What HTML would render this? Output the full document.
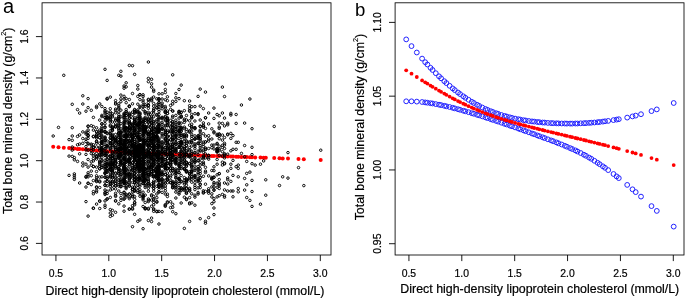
<!DOCTYPE html>
<html><head><meta charset="utf-8"><style>html,body{margin:0;padding:0;background:#fff;width:685px;height:299px;overflow:hidden}</style></head>
<body><svg xmlns="http://www.w3.org/2000/svg" width="685" height="299" viewBox="0 0 685 299" style="font-family:'Liberation Sans',sans-serif;display:block;will-change:transform">
<style>.t{stroke:#000;stroke-width:0.2}</style><g>
<rect width="685" height="299" fill="#fff"/>
<g fill="#f00"><circle cx="53.2" cy="146.7" r="2.0"/><circle cx="58.5" cy="147.2" r="2.0"/><circle cx="63.8" cy="147.7" r="2.0"/><circle cx="69.1" cy="148.1" r="2.0"/><circle cx="72.2" cy="148.4" r="2.0"/><circle cx="74.4" cy="148.6" r="2.0"/><circle cx="77.5" cy="148.9" r="2.0"/><circle cx="79.6" cy="149.1" r="2.0"/><circle cx="82.8" cy="149.3" r="2.0"/><circle cx="86.0" cy="149.6" r="2.0"/><circle cx="88.1" cy="149.8" r="2.0"/><circle cx="91.3" cy="150.0" r="2.0"/><circle cx="93.4" cy="150.2" r="2.0"/><circle cx="96.6" cy="150.4" r="2.0"/><circle cx="99.7" cy="150.7" r="2.0"/><circle cx="101.8" cy="150.8" r="2.0"/><circle cx="105.0" cy="151.0" r="2.0"/><circle cx="107.1" cy="151.2" r="2.0"/><circle cx="110.3" cy="151.4" r="2.0"/><circle cx="112.4" cy="151.6" r="2.0"/><circle cx="115.6" cy="151.8" r="2.0"/><circle cx="118.8" cy="152.0" r="2.0"/><circle cx="120.9" cy="152.1" r="2.0"/><circle cx="124.1" cy="152.3" r="2.0"/><circle cx="126.2" cy="152.4" r="2.0"/><circle cx="129.3" cy="152.6" r="2.0"/><circle cx="132.5" cy="152.8" r="2.0"/><circle cx="134.6" cy="152.9" r="2.0"/><circle cx="137.8" cy="153.0" r="2.0"/><circle cx="139.9" cy="153.1" r="2.0"/><circle cx="143.1" cy="153.3" r="2.0"/><circle cx="145.2" cy="153.4" r="2.0"/><circle cx="148.4" cy="153.5" r="2.0"/><circle cx="151.5" cy="153.7" r="2.0"/><circle cx="153.7" cy="153.8" r="2.0"/><circle cx="156.8" cy="153.9" r="2.0"/><circle cx="159.0" cy="154.0" r="2.0"/><circle cx="162.1" cy="154.1" r="2.0"/><circle cx="165.3" cy="154.2" r="2.0"/><circle cx="167.4" cy="154.3" r="2.0"/><circle cx="170.6" cy="154.4" r="2.0"/><circle cx="172.7" cy="154.5" r="2.0"/><circle cx="175.9" cy="154.6" r="2.0"/><circle cx="179.0" cy="154.7" r="2.0"/><circle cx="181.2" cy="154.8" r="2.0"/><circle cx="184.3" cy="154.9" r="2.0"/><circle cx="186.4" cy="155.0" r="2.0"/><circle cx="189.6" cy="155.1" r="2.0"/><circle cx="191.7" cy="155.2" r="2.0"/><circle cx="194.9" cy="155.3" r="2.0"/><circle cx="198.1" cy="155.4" r="2.0"/><circle cx="200.2" cy="155.5" r="2.0"/><circle cx="203.4" cy="155.6" r="2.0"/><circle cx="205.5" cy="155.6" r="2.0"/><circle cx="208.7" cy="155.8" r="2.0"/><circle cx="211.8" cy="155.9" r="2.0"/><circle cx="213.9" cy="155.9" r="2.0"/><circle cx="217.1" cy="156.0" r="2.0"/><circle cx="219.2" cy="156.1" r="2.0"/><circle cx="222.4" cy="156.2" r="2.0"/><circle cx="224.5" cy="156.3" r="2.0"/><circle cx="227.7" cy="156.4" r="2.0"/><circle cx="230.9" cy="156.5" r="2.0"/><circle cx="233.0" cy="156.6" r="2.0"/><circle cx="236.1" cy="156.7" r="2.0"/><circle cx="238.3" cy="156.8" r="2.0"/><circle cx="241.4" cy="156.9" r="2.0"/><circle cx="244.6" cy="157.0" r="2.0"/><circle cx="246.7" cy="157.1" r="2.0"/><circle cx="249.9" cy="157.2" r="2.0"/><circle cx="252.0" cy="157.2" r="2.0"/><circle cx="255.2" cy="157.4" r="2.0"/><circle cx="260.5" cy="157.5" r="2.0"/><circle cx="263.6" cy="157.7" r="2.0"/><circle cx="265.8" cy="157.7" r="2.0"/><circle cx="274.2" cy="158.1" r="2.0"/><circle cx="279.5" cy="158.3" r="2.0"/><circle cx="282.7" cy="158.4" r="2.0"/><circle cx="288.0" cy="158.6" r="2.0"/><circle cx="298.5" cy="159.0" r="2.0"/><circle cx="303.8" cy="159.3" r="2.0"/><circle cx="320.7" cy="160.0" r="2.0"/></g>
<path transform="scale(1.0,1)" d="M103.77 155.2a1.25 1.25 0 1 0 2.5 0a1.25 1.25 0 1 0 -2.5 0M193.66 152.6a1.25 1.25 0 1 0 2.5 0a1.25 1.25 0 1 0 -2.5 0M117.52 174.0a1.25 1.25 0 1 0 2.5 0a1.25 1.25 0 1 0 -2.5 0M136.55 156.0a1.25 1.25 0 1 0 2.5 0a1.25 1.25 0 1 0 -2.5 0M141.84 176.1a1.25 1.25 0 1 0 2.5 0a1.25 1.25 0 1 0 -2.5 0M122.80 145.1a1.25 1.25 0 1 0 2.5 0a1.25 1.25 0 1 0 -2.5 0M105.88 181.3a1.25 1.25 0 1 0 2.5 0a1.25 1.25 0 1 0 -2.5 0M169.33 148.8a1.25 1.25 0 1 0 2.5 0a1.25 1.25 0 1 0 -2.5 0M157.70 132.6a1.25 1.25 0 1 0 2.5 0a1.25 1.25 0 1 0 -2.5 0M92.14 158.6a1.25 1.25 0 1 0 2.5 0a1.25 1.25 0 1 0 -2.5 0M179.91 147.0a1.25 1.25 0 1 0 2.5 0a1.25 1.25 0 1 0 -2.5 0M122.80 166.5a1.25 1.25 0 1 0 2.5 0a1.25 1.25 0 1 0 -2.5 0M177.79 192.7a1.25 1.25 0 1 0 2.5 0a1.25 1.25 0 1 0 -2.5 0M131.26 123.4a1.25 1.25 0 1 0 2.5 0a1.25 1.25 0 1 0 -2.5 0M141.84 150.5a1.25 1.25 0 1 0 2.5 0a1.25 1.25 0 1 0 -2.5 0M174.62 162.3a1.25 1.25 0 1 0 2.5 0a1.25 1.25 0 1 0 -2.5 0M109.06 117.1a1.25 1.25 0 1 0 2.5 0a1.25 1.25 0 1 0 -2.5 0M166.16 176.1a1.25 1.25 0 1 0 2.5 0a1.25 1.25 0 1 0 -2.5 0M198.94 168.7a1.25 1.25 0 1 0 2.5 0a1.25 1.25 0 1 0 -2.5 0M196.83 174.0a1.25 1.25 0 1 0 2.5 0a1.25 1.25 0 1 0 -2.5 0M133.38 180.2a1.25 1.25 0 1 0 2.5 0a1.25 1.25 0 1 0 -2.5 0M177.79 158.1a1.25 1.25 0 1 0 2.5 0a1.25 1.25 0 1 0 -2.5 0M100.60 167.4a1.25 1.25 0 1 0 2.5 0a1.25 1.25 0 1 0 -2.5 0M138.67 114.8a1.25 1.25 0 1 0 2.5 0a1.25 1.25 0 1 0 -2.5 0M160.87 171.3a1.25 1.25 0 1 0 2.5 0a1.25 1.25 0 1 0 -2.5 0M105.88 117.2a1.25 1.25 0 1 0 2.5 0a1.25 1.25 0 1 0 -2.5 0M141.84 176.9a1.25 1.25 0 1 0 2.5 0a1.25 1.25 0 1 0 -2.5 0M215.86 164.2a1.25 1.25 0 1 0 2.5 0a1.25 1.25 0 1 0 -2.5 0M171.45 152.8a1.25 1.25 0 1 0 2.5 0a1.25 1.25 0 1 0 -2.5 0M174.62 177.6a1.25 1.25 0 1 0 2.5 0a1.25 1.25 0 1 0 -2.5 0M117.52 133.2a1.25 1.25 0 1 0 2.5 0a1.25 1.25 0 1 0 -2.5 0M109.06 166.7a1.25 1.25 0 1 0 2.5 0a1.25 1.25 0 1 0 -2.5 0M103.77 168.2a1.25 1.25 0 1 0 2.5 0a1.25 1.25 0 1 0 -2.5 0M164.05 135.0a1.25 1.25 0 1 0 2.5 0a1.25 1.25 0 1 0 -2.5 0M171.45 173.9a1.25 1.25 0 1 0 2.5 0a1.25 1.25 0 1 0 -2.5 0M124.92 134.9a1.25 1.25 0 1 0 2.5 0a1.25 1.25 0 1 0 -2.5 0M109.06 121.9a1.25 1.25 0 1 0 2.5 0a1.25 1.25 0 1 0 -2.5 0M152.41 131.7a1.25 1.25 0 1 0 2.5 0a1.25 1.25 0 1 0 -2.5 0M155.59 115.2a1.25 1.25 0 1 0 2.5 0a1.25 1.25 0 1 0 -2.5 0M138.67 163.5a1.25 1.25 0 1 0 2.5 0a1.25 1.25 0 1 0 -2.5 0M193.66 121.0a1.25 1.25 0 1 0 2.5 0a1.25 1.25 0 1 0 -2.5 0M141.84 166.8a1.25 1.25 0 1 0 2.5 0a1.25 1.25 0 1 0 -2.5 0M141.84 196.9a1.25 1.25 0 1 0 2.5 0a1.25 1.25 0 1 0 -2.5 0M111.17 155.5a1.25 1.25 0 1 0 2.5 0a1.25 1.25 0 1 0 -2.5 0M150.30 100.6a1.25 1.25 0 1 0 2.5 0a1.25 1.25 0 1 0 -2.5 0M196.83 181.6a1.25 1.25 0 1 0 2.5 0a1.25 1.25 0 1 0 -2.5 0M147.13 105.2a1.25 1.25 0 1 0 2.5 0a1.25 1.25 0 1 0 -2.5 0M147.13 191.2a1.25 1.25 0 1 0 2.5 0a1.25 1.25 0 1 0 -2.5 0M160.87 129.2a1.25 1.25 0 1 0 2.5 0a1.25 1.25 0 1 0 -2.5 0M155.59 140.0a1.25 1.25 0 1 0 2.5 0a1.25 1.25 0 1 0 -2.5 0M164.05 165.7a1.25 1.25 0 1 0 2.5 0a1.25 1.25 0 1 0 -2.5 0M166.16 135.8a1.25 1.25 0 1 0 2.5 0a1.25 1.25 0 1 0 -2.5 0M119.63 134.3a1.25 1.25 0 1 0 2.5 0a1.25 1.25 0 1 0 -2.5 0M155.59 140.1a1.25 1.25 0 1 0 2.5 0a1.25 1.25 0 1 0 -2.5 0M100.60 124.1a1.25 1.25 0 1 0 2.5 0a1.25 1.25 0 1 0 -2.5 0M152.41 175.1a1.25 1.25 0 1 0 2.5 0a1.25 1.25 0 1 0 -2.5 0M109.06 97.1a1.25 1.25 0 1 0 2.5 0a1.25 1.25 0 1 0 -2.5 0M141.84 128.4a1.25 1.25 0 1 0 2.5 0a1.25 1.25 0 1 0 -2.5 0M160.87 174.3a1.25 1.25 0 1 0 2.5 0a1.25 1.25 0 1 0 -2.5 0M131.26 93.5a1.25 1.25 0 1 0 2.5 0a1.25 1.25 0 1 0 -2.5 0M147.13 152.5a1.25 1.25 0 1 0 2.5 0a1.25 1.25 0 1 0 -2.5 0M98.48 137.7a1.25 1.25 0 1 0 2.5 0a1.25 1.25 0 1 0 -2.5 0M119.63 128.8a1.25 1.25 0 1 0 2.5 0a1.25 1.25 0 1 0 -2.5 0M169.33 177.1a1.25 1.25 0 1 0 2.5 0a1.25 1.25 0 1 0 -2.5 0M111.17 175.0a1.25 1.25 0 1 0 2.5 0a1.25 1.25 0 1 0 -2.5 0M169.33 158.2a1.25 1.25 0 1 0 2.5 0a1.25 1.25 0 1 0 -2.5 0M105.88 181.4a1.25 1.25 0 1 0 2.5 0a1.25 1.25 0 1 0 -2.5 0M117.52 156.9a1.25 1.25 0 1 0 2.5 0a1.25 1.25 0 1 0 -2.5 0M111.17 113.8a1.25 1.25 0 1 0 2.5 0a1.25 1.25 0 1 0 -2.5 0M143.95 183.4a1.25 1.25 0 1 0 2.5 0a1.25 1.25 0 1 0 -2.5 0M164.05 151.4a1.25 1.25 0 1 0 2.5 0a1.25 1.25 0 1 0 -2.5 0M111.17 166.3a1.25 1.25 0 1 0 2.5 0a1.25 1.25 0 1 0 -2.5 0M138.67 130.2a1.25 1.25 0 1 0 2.5 0a1.25 1.25 0 1 0 -2.5 0M210.58 186.9a1.25 1.25 0 1 0 2.5 0a1.25 1.25 0 1 0 -2.5 0M133.38 182.4a1.25 1.25 0 1 0 2.5 0a1.25 1.25 0 1 0 -2.5 0M119.63 156.6a1.25 1.25 0 1 0 2.5 0a1.25 1.25 0 1 0 -2.5 0M157.70 99.9a1.25 1.25 0 1 0 2.5 0a1.25 1.25 0 1 0 -2.5 0M136.55 179.0a1.25 1.25 0 1 0 2.5 0a1.25 1.25 0 1 0 -2.5 0M122.80 198.9a1.25 1.25 0 1 0 2.5 0a1.25 1.25 0 1 0 -2.5 0M95.31 177.8a1.25 1.25 0 1 0 2.5 0a1.25 1.25 0 1 0 -2.5 0M174.62 136.4a1.25 1.25 0 1 0 2.5 0a1.25 1.25 0 1 0 -2.5 0M124.92 128.5a1.25 1.25 0 1 0 2.5 0a1.25 1.25 0 1 0 -2.5 0M143.95 155.9a1.25 1.25 0 1 0 2.5 0a1.25 1.25 0 1 0 -2.5 0M111.17 145.7a1.25 1.25 0 1 0 2.5 0a1.25 1.25 0 1 0 -2.5 0M196.83 194.0a1.25 1.25 0 1 0 2.5 0a1.25 1.25 0 1 0 -2.5 0M171.45 145.0a1.25 1.25 0 1 0 2.5 0a1.25 1.25 0 1 0 -2.5 0M179.91 160.3a1.25 1.25 0 1 0 2.5 0a1.25 1.25 0 1 0 -2.5 0M141.84 171.4a1.25 1.25 0 1 0 2.5 0a1.25 1.25 0 1 0 -2.5 0M160.87 128.5a1.25 1.25 0 1 0 2.5 0a1.25 1.25 0 1 0 -2.5 0M177.79 127.7a1.25 1.25 0 1 0 2.5 0a1.25 1.25 0 1 0 -2.5 0M183.08 169.0a1.25 1.25 0 1 0 2.5 0a1.25 1.25 0 1 0 -2.5 0M155.59 149.2a1.25 1.25 0 1 0 2.5 0a1.25 1.25 0 1 0 -2.5 0M141.84 206.5a1.25 1.25 0 1 0 2.5 0a1.25 1.25 0 1 0 -2.5 0M133.38 182.7a1.25 1.25 0 1 0 2.5 0a1.25 1.25 0 1 0 -2.5 0M122.80 118.8a1.25 1.25 0 1 0 2.5 0a1.25 1.25 0 1 0 -2.5 0M114.34 183.7a1.25 1.25 0 1 0 2.5 0a1.25 1.25 0 1 0 -2.5 0M157.70 180.6a1.25 1.25 0 1 0 2.5 0a1.25 1.25 0 1 0 -2.5 0M136.55 124.6a1.25 1.25 0 1 0 2.5 0a1.25 1.25 0 1 0 -2.5 0M138.67 173.5a1.25 1.25 0 1 0 2.5 0a1.25 1.25 0 1 0 -2.5 0M185.20 136.8a1.25 1.25 0 1 0 2.5 0a1.25 1.25 0 1 0 -2.5 0M136.55 167.0a1.25 1.25 0 1 0 2.5 0a1.25 1.25 0 1 0 -2.5 0M95.31 175.8a1.25 1.25 0 1 0 2.5 0a1.25 1.25 0 1 0 -2.5 0M141.84 183.3a1.25 1.25 0 1 0 2.5 0a1.25 1.25 0 1 0 -2.5 0M174.62 150.9a1.25 1.25 0 1 0 2.5 0a1.25 1.25 0 1 0 -2.5 0M152.41 181.1a1.25 1.25 0 1 0 2.5 0a1.25 1.25 0 1 0 -2.5 0M131.26 146.6a1.25 1.25 0 1 0 2.5 0a1.25 1.25 0 1 0 -2.5 0M221.15 162.2a1.25 1.25 0 1 0 2.5 0a1.25 1.25 0 1 0 -2.5 0M223.27 157.9a1.25 1.25 0 1 0 2.5 0a1.25 1.25 0 1 0 -2.5 0M141.84 125.1a1.25 1.25 0 1 0 2.5 0a1.25 1.25 0 1 0 -2.5 0M174.62 169.0a1.25 1.25 0 1 0 2.5 0a1.25 1.25 0 1 0 -2.5 0M157.70 181.1a1.25 1.25 0 1 0 2.5 0a1.25 1.25 0 1 0 -2.5 0M171.45 156.2a1.25 1.25 0 1 0 2.5 0a1.25 1.25 0 1 0 -2.5 0M202.12 150.0a1.25 1.25 0 1 0 2.5 0a1.25 1.25 0 1 0 -2.5 0M174.62 161.0a1.25 1.25 0 1 0 2.5 0a1.25 1.25 0 1 0 -2.5 0M147.13 200.5a1.25 1.25 0 1 0 2.5 0a1.25 1.25 0 1 0 -2.5 0M124.92 135.8a1.25 1.25 0 1 0 2.5 0a1.25 1.25 0 1 0 -2.5 0M119.63 200.4a1.25 1.25 0 1 0 2.5 0a1.25 1.25 0 1 0 -2.5 0M143.95 208.0a1.25 1.25 0 1 0 2.5 0a1.25 1.25 0 1 0 -2.5 0M188.37 131.1a1.25 1.25 0 1 0 2.5 0a1.25 1.25 0 1 0 -2.5 0M155.59 114.6a1.25 1.25 0 1 0 2.5 0a1.25 1.25 0 1 0 -2.5 0M147.13 162.3a1.25 1.25 0 1 0 2.5 0a1.25 1.25 0 1 0 -2.5 0M152.41 177.1a1.25 1.25 0 1 0 2.5 0a1.25 1.25 0 1 0 -2.5 0M143.95 117.3a1.25 1.25 0 1 0 2.5 0a1.25 1.25 0 1 0 -2.5 0M164.05 190.8a1.25 1.25 0 1 0 2.5 0a1.25 1.25 0 1 0 -2.5 0M111.17 153.2a1.25 1.25 0 1 0 2.5 0a1.25 1.25 0 1 0 -2.5 0M92.14 166.5a1.25 1.25 0 1 0 2.5 0a1.25 1.25 0 1 0 -2.5 0M131.26 137.5a1.25 1.25 0 1 0 2.5 0a1.25 1.25 0 1 0 -2.5 0M111.17 144.0a1.25 1.25 0 1 0 2.5 0a1.25 1.25 0 1 0 -2.5 0M210.58 177.4a1.25 1.25 0 1 0 2.5 0a1.25 1.25 0 1 0 -2.5 0M138.67 124.0a1.25 1.25 0 1 0 2.5 0a1.25 1.25 0 1 0 -2.5 0M136.55 133.7a1.25 1.25 0 1 0 2.5 0a1.25 1.25 0 1 0 -2.5 0M100.60 151.1a1.25 1.25 0 1 0 2.5 0a1.25 1.25 0 1 0 -2.5 0M155.59 162.2a1.25 1.25 0 1 0 2.5 0a1.25 1.25 0 1 0 -2.5 0M124.92 154.7a1.25 1.25 0 1 0 2.5 0a1.25 1.25 0 1 0 -2.5 0M188.37 189.2a1.25 1.25 0 1 0 2.5 0a1.25 1.25 0 1 0 -2.5 0M174.62 161.2a1.25 1.25 0 1 0 2.5 0a1.25 1.25 0 1 0 -2.5 0M119.63 159.1a1.25 1.25 0 1 0 2.5 0a1.25 1.25 0 1 0 -2.5 0M157.70 139.4a1.25 1.25 0 1 0 2.5 0a1.25 1.25 0 1 0 -2.5 0M122.80 163.5a1.25 1.25 0 1 0 2.5 0a1.25 1.25 0 1 0 -2.5 0M193.66 148.7a1.25 1.25 0 1 0 2.5 0a1.25 1.25 0 1 0 -2.5 0M174.62 128.9a1.25 1.25 0 1 0 2.5 0a1.25 1.25 0 1 0 -2.5 0M150.30 138.5a1.25 1.25 0 1 0 2.5 0a1.25 1.25 0 1 0 -2.5 0M143.95 156.8a1.25 1.25 0 1 0 2.5 0a1.25 1.25 0 1 0 -2.5 0M103.77 162.8a1.25 1.25 0 1 0 2.5 0a1.25 1.25 0 1 0 -2.5 0M105.88 114.7a1.25 1.25 0 1 0 2.5 0a1.25 1.25 0 1 0 -2.5 0M152.41 153.4a1.25 1.25 0 1 0 2.5 0a1.25 1.25 0 1 0 -2.5 0M217.98 188.5a1.25 1.25 0 1 0 2.5 0a1.25 1.25 0 1 0 -2.5 0M86.85 144.0a1.25 1.25 0 1 0 2.5 0a1.25 1.25 0 1 0 -2.5 0M166.16 201.8a1.25 1.25 0 1 0 2.5 0a1.25 1.25 0 1 0 -2.5 0M166.16 168.4a1.25 1.25 0 1 0 2.5 0a1.25 1.25 0 1 0 -2.5 0M179.91 137.4a1.25 1.25 0 1 0 2.5 0a1.25 1.25 0 1 0 -2.5 0M117.52 156.3a1.25 1.25 0 1 0 2.5 0a1.25 1.25 0 1 0 -2.5 0M128.09 161.3a1.25 1.25 0 1 0 2.5 0a1.25 1.25 0 1 0 -2.5 0M147.13 133.7a1.25 1.25 0 1 0 2.5 0a1.25 1.25 0 1 0 -2.5 0M114.34 120.3a1.25 1.25 0 1 0 2.5 0a1.25 1.25 0 1 0 -2.5 0M109.06 177.1a1.25 1.25 0 1 0 2.5 0a1.25 1.25 0 1 0 -2.5 0M117.52 182.3a1.25 1.25 0 1 0 2.5 0a1.25 1.25 0 1 0 -2.5 0M141.84 172.2a1.25 1.25 0 1 0 2.5 0a1.25 1.25 0 1 0 -2.5 0M157.70 184.3a1.25 1.25 0 1 0 2.5 0a1.25 1.25 0 1 0 -2.5 0M143.95 140.6a1.25 1.25 0 1 0 2.5 0a1.25 1.25 0 1 0 -2.5 0M147.13 133.8a1.25 1.25 0 1 0 2.5 0a1.25 1.25 0 1 0 -2.5 0M122.80 155.0a1.25 1.25 0 1 0 2.5 0a1.25 1.25 0 1 0 -2.5 0M122.80 180.7a1.25 1.25 0 1 0 2.5 0a1.25 1.25 0 1 0 -2.5 0M188.37 197.6a1.25 1.25 0 1 0 2.5 0a1.25 1.25 0 1 0 -2.5 0M141.84 157.8a1.25 1.25 0 1 0 2.5 0a1.25 1.25 0 1 0 -2.5 0M141.84 174.6a1.25 1.25 0 1 0 2.5 0a1.25 1.25 0 1 0 -2.5 0M179.91 143.1a1.25 1.25 0 1 0 2.5 0a1.25 1.25 0 1 0 -2.5 0M193.66 189.6a1.25 1.25 0 1 0 2.5 0a1.25 1.25 0 1 0 -2.5 0M193.66 170.5a1.25 1.25 0 1 0 2.5 0a1.25 1.25 0 1 0 -2.5 0M157.70 165.0a1.25 1.25 0 1 0 2.5 0a1.25 1.25 0 1 0 -2.5 0M141.84 126.2a1.25 1.25 0 1 0 2.5 0a1.25 1.25 0 1 0 -2.5 0M155.59 133.3a1.25 1.25 0 1 0 2.5 0a1.25 1.25 0 1 0 -2.5 0M150.30 141.1a1.25 1.25 0 1 0 2.5 0a1.25 1.25 0 1 0 -2.5 0M198.94 150.2a1.25 1.25 0 1 0 2.5 0a1.25 1.25 0 1 0 -2.5 0M155.59 135.9a1.25 1.25 0 1 0 2.5 0a1.25 1.25 0 1 0 -2.5 0M166.16 202.7a1.25 1.25 0 1 0 2.5 0a1.25 1.25 0 1 0 -2.5 0M143.95 129.5a1.25 1.25 0 1 0 2.5 0a1.25 1.25 0 1 0 -2.5 0M198.94 162.3a1.25 1.25 0 1 0 2.5 0a1.25 1.25 0 1 0 -2.5 0M90.02 110.3a1.25 1.25 0 1 0 2.5 0a1.25 1.25 0 1 0 -2.5 0M157.70 129.7a1.25 1.25 0 1 0 2.5 0a1.25 1.25 0 1 0 -2.5 0M171.45 122.1a1.25 1.25 0 1 0 2.5 0a1.25 1.25 0 1 0 -2.5 0M111.17 169.5a1.25 1.25 0 1 0 2.5 0a1.25 1.25 0 1 0 -2.5 0M138.67 137.0a1.25 1.25 0 1 0 2.5 0a1.25 1.25 0 1 0 -2.5 0M138.67 144.6a1.25 1.25 0 1 0 2.5 0a1.25 1.25 0 1 0 -2.5 0M111.17 166.1a1.25 1.25 0 1 0 2.5 0a1.25 1.25 0 1 0 -2.5 0M177.79 144.3a1.25 1.25 0 1 0 2.5 0a1.25 1.25 0 1 0 -2.5 0M152.41 209.3a1.25 1.25 0 1 0 2.5 0a1.25 1.25 0 1 0 -2.5 0M124.92 115.5a1.25 1.25 0 1 0 2.5 0a1.25 1.25 0 1 0 -2.5 0M152.41 139.5a1.25 1.25 0 1 0 2.5 0a1.25 1.25 0 1 0 -2.5 0M169.33 154.7a1.25 1.25 0 1 0 2.5 0a1.25 1.25 0 1 0 -2.5 0M190.48 117.4a1.25 1.25 0 1 0 2.5 0a1.25 1.25 0 1 0 -2.5 0M152.41 138.2a1.25 1.25 0 1 0 2.5 0a1.25 1.25 0 1 0 -2.5 0M114.34 138.1a1.25 1.25 0 1 0 2.5 0a1.25 1.25 0 1 0 -2.5 0M128.09 164.8a1.25 1.25 0 1 0 2.5 0a1.25 1.25 0 1 0 -2.5 0M84.73 139.1a1.25 1.25 0 1 0 2.5 0a1.25 1.25 0 1 0 -2.5 0M122.80 182.0a1.25 1.25 0 1 0 2.5 0a1.25 1.25 0 1 0 -2.5 0M171.45 183.0a1.25 1.25 0 1 0 2.5 0a1.25 1.25 0 1 0 -2.5 0M160.87 148.5a1.25 1.25 0 1 0 2.5 0a1.25 1.25 0 1 0 -2.5 0M141.84 168.1a1.25 1.25 0 1 0 2.5 0a1.25 1.25 0 1 0 -2.5 0M133.38 187.3a1.25 1.25 0 1 0 2.5 0a1.25 1.25 0 1 0 -2.5 0M207.40 159.2a1.25 1.25 0 1 0 2.5 0a1.25 1.25 0 1 0 -2.5 0M155.59 201.5a1.25 1.25 0 1 0 2.5 0a1.25 1.25 0 1 0 -2.5 0M177.79 111.4a1.25 1.25 0 1 0 2.5 0a1.25 1.25 0 1 0 -2.5 0M157.70 176.7a1.25 1.25 0 1 0 2.5 0a1.25 1.25 0 1 0 -2.5 0M122.80 174.7a1.25 1.25 0 1 0 2.5 0a1.25 1.25 0 1 0 -2.5 0M207.40 113.0a1.25 1.25 0 1 0 2.5 0a1.25 1.25 0 1 0 -2.5 0M109.06 190.0a1.25 1.25 0 1 0 2.5 0a1.25 1.25 0 1 0 -2.5 0M109.06 209.6a1.25 1.25 0 1 0 2.5 0a1.25 1.25 0 1 0 -2.5 0M131.26 151.8a1.25 1.25 0 1 0 2.5 0a1.25 1.25 0 1 0 -2.5 0M122.80 158.5a1.25 1.25 0 1 0 2.5 0a1.25 1.25 0 1 0 -2.5 0M128.09 124.3a1.25 1.25 0 1 0 2.5 0a1.25 1.25 0 1 0 -2.5 0M124.92 153.1a1.25 1.25 0 1 0 2.5 0a1.25 1.25 0 1 0 -2.5 0M183.08 197.2a1.25 1.25 0 1 0 2.5 0a1.25 1.25 0 1 0 -2.5 0M147.13 149.7a1.25 1.25 0 1 0 2.5 0a1.25 1.25 0 1 0 -2.5 0M155.59 159.9a1.25 1.25 0 1 0 2.5 0a1.25 1.25 0 1 0 -2.5 0M100.60 116.6a1.25 1.25 0 1 0 2.5 0a1.25 1.25 0 1 0 -2.5 0M119.63 143.1a1.25 1.25 0 1 0 2.5 0a1.25 1.25 0 1 0 -2.5 0M185.20 178.9a1.25 1.25 0 1 0 2.5 0a1.25 1.25 0 1 0 -2.5 0M109.06 168.8a1.25 1.25 0 1 0 2.5 0a1.25 1.25 0 1 0 -2.5 0M190.48 153.9a1.25 1.25 0 1 0 2.5 0a1.25 1.25 0 1 0 -2.5 0M114.34 162.0a1.25 1.25 0 1 0 2.5 0a1.25 1.25 0 1 0 -2.5 0M155.59 147.3a1.25 1.25 0 1 0 2.5 0a1.25 1.25 0 1 0 -2.5 0M119.63 144.0a1.25 1.25 0 1 0 2.5 0a1.25 1.25 0 1 0 -2.5 0M150.30 183.9a1.25 1.25 0 1 0 2.5 0a1.25 1.25 0 1 0 -2.5 0M117.52 144.8a1.25 1.25 0 1 0 2.5 0a1.25 1.25 0 1 0 -2.5 0M136.55 130.0a1.25 1.25 0 1 0 2.5 0a1.25 1.25 0 1 0 -2.5 0M212.69 186.9a1.25 1.25 0 1 0 2.5 0a1.25 1.25 0 1 0 -2.5 0M133.38 190.4a1.25 1.25 0 1 0 2.5 0a1.25 1.25 0 1 0 -2.5 0M131.26 136.8a1.25 1.25 0 1 0 2.5 0a1.25 1.25 0 1 0 -2.5 0M109.06 125.2a1.25 1.25 0 1 0 2.5 0a1.25 1.25 0 1 0 -2.5 0M147.13 105.1a1.25 1.25 0 1 0 2.5 0a1.25 1.25 0 1 0 -2.5 0M131.26 154.6a1.25 1.25 0 1 0 2.5 0a1.25 1.25 0 1 0 -2.5 0M217.98 182.8a1.25 1.25 0 1 0 2.5 0a1.25 1.25 0 1 0 -2.5 0M177.79 147.4a1.25 1.25 0 1 0 2.5 0a1.25 1.25 0 1 0 -2.5 0M190.48 171.6a1.25 1.25 0 1 0 2.5 0a1.25 1.25 0 1 0 -2.5 0M166.16 142.7a1.25 1.25 0 1 0 2.5 0a1.25 1.25 0 1 0 -2.5 0M174.62 133.4a1.25 1.25 0 1 0 2.5 0a1.25 1.25 0 1 0 -2.5 0M164.05 150.0a1.25 1.25 0 1 0 2.5 0a1.25 1.25 0 1 0 -2.5 0M119.63 135.3a1.25 1.25 0 1 0 2.5 0a1.25 1.25 0 1 0 -2.5 0M117.52 150.1a1.25 1.25 0 1 0 2.5 0a1.25 1.25 0 1 0 -2.5 0M150.30 144.9a1.25 1.25 0 1 0 2.5 0a1.25 1.25 0 1 0 -2.5 0M183.08 184.1a1.25 1.25 0 1 0 2.5 0a1.25 1.25 0 1 0 -2.5 0M188.37 108.3a1.25 1.25 0 1 0 2.5 0a1.25 1.25 0 1 0 -2.5 0M117.52 168.5a1.25 1.25 0 1 0 2.5 0a1.25 1.25 0 1 0 -2.5 0M164.05 163.8a1.25 1.25 0 1 0 2.5 0a1.25 1.25 0 1 0 -2.5 0M150.30 171.3a1.25 1.25 0 1 0 2.5 0a1.25 1.25 0 1 0 -2.5 0M111.17 156.9a1.25 1.25 0 1 0 2.5 0a1.25 1.25 0 1 0 -2.5 0M164.05 164.5a1.25 1.25 0 1 0 2.5 0a1.25 1.25 0 1 0 -2.5 0M84.73 201.6a1.25 1.25 0 1 0 2.5 0a1.25 1.25 0 1 0 -2.5 0M152.41 110.7a1.25 1.25 0 1 0 2.5 0a1.25 1.25 0 1 0 -2.5 0M114.34 140.4a1.25 1.25 0 1 0 2.5 0a1.25 1.25 0 1 0 -2.5 0M143.95 159.7a1.25 1.25 0 1 0 2.5 0a1.25 1.25 0 1 0 -2.5 0M92.14 149.6a1.25 1.25 0 1 0 2.5 0a1.25 1.25 0 1 0 -2.5 0M122.80 123.5a1.25 1.25 0 1 0 2.5 0a1.25 1.25 0 1 0 -2.5 0M171.45 130.8a1.25 1.25 0 1 0 2.5 0a1.25 1.25 0 1 0 -2.5 0M114.34 142.6a1.25 1.25 0 1 0 2.5 0a1.25 1.25 0 1 0 -2.5 0M143.95 128.1a1.25 1.25 0 1 0 2.5 0a1.25 1.25 0 1 0 -2.5 0M133.38 128.9a1.25 1.25 0 1 0 2.5 0a1.25 1.25 0 1 0 -2.5 0M150.30 158.9a1.25 1.25 0 1 0 2.5 0a1.25 1.25 0 1 0 -2.5 0M160.87 173.9a1.25 1.25 0 1 0 2.5 0a1.25 1.25 0 1 0 -2.5 0M190.48 182.2a1.25 1.25 0 1 0 2.5 0a1.25 1.25 0 1 0 -2.5 0M174.62 152.0a1.25 1.25 0 1 0 2.5 0a1.25 1.25 0 1 0 -2.5 0M128.09 198.7a1.25 1.25 0 1 0 2.5 0a1.25 1.25 0 1 0 -2.5 0M202.12 146.5a1.25 1.25 0 1 0 2.5 0a1.25 1.25 0 1 0 -2.5 0M193.66 175.9a1.25 1.25 0 1 0 2.5 0a1.25 1.25 0 1 0 -2.5 0M100.60 131.2a1.25 1.25 0 1 0 2.5 0a1.25 1.25 0 1 0 -2.5 0M169.33 201.8a1.25 1.25 0 1 0 2.5 0a1.25 1.25 0 1 0 -2.5 0M174.62 144.2a1.25 1.25 0 1 0 2.5 0a1.25 1.25 0 1 0 -2.5 0M179.91 166.9a1.25 1.25 0 1 0 2.5 0a1.25 1.25 0 1 0 -2.5 0M164.05 186.0a1.25 1.25 0 1 0 2.5 0a1.25 1.25 0 1 0 -2.5 0M105.88 118.3a1.25 1.25 0 1 0 2.5 0a1.25 1.25 0 1 0 -2.5 0M136.55 123.9a1.25 1.25 0 1 0 2.5 0a1.25 1.25 0 1 0 -2.5 0M90.02 175.7a1.25 1.25 0 1 0 2.5 0a1.25 1.25 0 1 0 -2.5 0M138.67 161.7a1.25 1.25 0 1 0 2.5 0a1.25 1.25 0 1 0 -2.5 0M169.33 152.5a1.25 1.25 0 1 0 2.5 0a1.25 1.25 0 1 0 -2.5 0M174.62 172.3a1.25 1.25 0 1 0 2.5 0a1.25 1.25 0 1 0 -2.5 0M128.09 179.0a1.25 1.25 0 1 0 2.5 0a1.25 1.25 0 1 0 -2.5 0M114.34 173.6a1.25 1.25 0 1 0 2.5 0a1.25 1.25 0 1 0 -2.5 0M111.17 137.2a1.25 1.25 0 1 0 2.5 0a1.25 1.25 0 1 0 -2.5 0M150.30 130.1a1.25 1.25 0 1 0 2.5 0a1.25 1.25 0 1 0 -2.5 0M119.63 163.5a1.25 1.25 0 1 0 2.5 0a1.25 1.25 0 1 0 -2.5 0M124.92 181.8a1.25 1.25 0 1 0 2.5 0a1.25 1.25 0 1 0 -2.5 0M188.37 178.3a1.25 1.25 0 1 0 2.5 0a1.25 1.25 0 1 0 -2.5 0M98.48 200.9a1.25 1.25 0 1 0 2.5 0a1.25 1.25 0 1 0 -2.5 0M105.88 141.0a1.25 1.25 0 1 0 2.5 0a1.25 1.25 0 1 0 -2.5 0M128.09 155.1a1.25 1.25 0 1 0 2.5 0a1.25 1.25 0 1 0 -2.5 0M141.84 126.5a1.25 1.25 0 1 0 2.5 0a1.25 1.25 0 1 0 -2.5 0M138.67 94.8a1.25 1.25 0 1 0 2.5 0a1.25 1.25 0 1 0 -2.5 0M103.77 117.3a1.25 1.25 0 1 0 2.5 0a1.25 1.25 0 1 0 -2.5 0M150.30 167.1a1.25 1.25 0 1 0 2.5 0a1.25 1.25 0 1 0 -2.5 0M138.67 164.7a1.25 1.25 0 1 0 2.5 0a1.25 1.25 0 1 0 -2.5 0M157.70 191.9a1.25 1.25 0 1 0 2.5 0a1.25 1.25 0 1 0 -2.5 0M111.17 210.4a1.25 1.25 0 1 0 2.5 0a1.25 1.25 0 1 0 -2.5 0M152.41 106.1a1.25 1.25 0 1 0 2.5 0a1.25 1.25 0 1 0 -2.5 0M152.41 149.8a1.25 1.25 0 1 0 2.5 0a1.25 1.25 0 1 0 -2.5 0M124.92 196.9a1.25 1.25 0 1 0 2.5 0a1.25 1.25 0 1 0 -2.5 0M136.55 137.7a1.25 1.25 0 1 0 2.5 0a1.25 1.25 0 1 0 -2.5 0M198.94 165.1a1.25 1.25 0 1 0 2.5 0a1.25 1.25 0 1 0 -2.5 0M103.77 172.5a1.25 1.25 0 1 0 2.5 0a1.25 1.25 0 1 0 -2.5 0M98.48 168.9a1.25 1.25 0 1 0 2.5 0a1.25 1.25 0 1 0 -2.5 0M133.38 135.8a1.25 1.25 0 1 0 2.5 0a1.25 1.25 0 1 0 -2.5 0M122.80 170.7a1.25 1.25 0 1 0 2.5 0a1.25 1.25 0 1 0 -2.5 0M131.26 126.1a1.25 1.25 0 1 0 2.5 0a1.25 1.25 0 1 0 -2.5 0M171.45 207.3a1.25 1.25 0 1 0 2.5 0a1.25 1.25 0 1 0 -2.5 0M98.48 166.1a1.25 1.25 0 1 0 2.5 0a1.25 1.25 0 1 0 -2.5 0M119.63 110.1a1.25 1.25 0 1 0 2.5 0a1.25 1.25 0 1 0 -2.5 0M136.55 185.0a1.25 1.25 0 1 0 2.5 0a1.25 1.25 0 1 0 -2.5 0M109.06 183.0a1.25 1.25 0 1 0 2.5 0a1.25 1.25 0 1 0 -2.5 0M157.70 157.8a1.25 1.25 0 1 0 2.5 0a1.25 1.25 0 1 0 -2.5 0M155.59 170.7a1.25 1.25 0 1 0 2.5 0a1.25 1.25 0 1 0 -2.5 0M122.80 150.2a1.25 1.25 0 1 0 2.5 0a1.25 1.25 0 1 0 -2.5 0M95.31 127.8a1.25 1.25 0 1 0 2.5 0a1.25 1.25 0 1 0 -2.5 0M210.58 145.1a1.25 1.25 0 1 0 2.5 0a1.25 1.25 0 1 0 -2.5 0M160.87 153.0a1.25 1.25 0 1 0 2.5 0a1.25 1.25 0 1 0 -2.5 0M157.70 169.2a1.25 1.25 0 1 0 2.5 0a1.25 1.25 0 1 0 -2.5 0M147.13 152.3a1.25 1.25 0 1 0 2.5 0a1.25 1.25 0 1 0 -2.5 0M143.95 132.9a1.25 1.25 0 1 0 2.5 0a1.25 1.25 0 1 0 -2.5 0M174.62 183.0a1.25 1.25 0 1 0 2.5 0a1.25 1.25 0 1 0 -2.5 0M143.95 169.4a1.25 1.25 0 1 0 2.5 0a1.25 1.25 0 1 0 -2.5 0M124.92 187.4a1.25 1.25 0 1 0 2.5 0a1.25 1.25 0 1 0 -2.5 0M169.33 159.0a1.25 1.25 0 1 0 2.5 0a1.25 1.25 0 1 0 -2.5 0M147.13 153.5a1.25 1.25 0 1 0 2.5 0a1.25 1.25 0 1 0 -2.5 0M119.63 171.2a1.25 1.25 0 1 0 2.5 0a1.25 1.25 0 1 0 -2.5 0M117.52 186.1a1.25 1.25 0 1 0 2.5 0a1.25 1.25 0 1 0 -2.5 0M188.37 179.9a1.25 1.25 0 1 0 2.5 0a1.25 1.25 0 1 0 -2.5 0M166.16 140.6a1.25 1.25 0 1 0 2.5 0a1.25 1.25 0 1 0 -2.5 0M128.09 133.9a1.25 1.25 0 1 0 2.5 0a1.25 1.25 0 1 0 -2.5 0M122.80 172.7a1.25 1.25 0 1 0 2.5 0a1.25 1.25 0 1 0 -2.5 0M157.70 178.4a1.25 1.25 0 1 0 2.5 0a1.25 1.25 0 1 0 -2.5 0M198.94 138.1a1.25 1.25 0 1 0 2.5 0a1.25 1.25 0 1 0 -2.5 0M166.16 179.6a1.25 1.25 0 1 0 2.5 0a1.25 1.25 0 1 0 -2.5 0M160.87 127.0a1.25 1.25 0 1 0 2.5 0a1.25 1.25 0 1 0 -2.5 0M122.80 155.7a1.25 1.25 0 1 0 2.5 0a1.25 1.25 0 1 0 -2.5 0M109.06 169.5a1.25 1.25 0 1 0 2.5 0a1.25 1.25 0 1 0 -2.5 0M122.80 166.6a1.25 1.25 0 1 0 2.5 0a1.25 1.25 0 1 0 -2.5 0M133.38 149.3a1.25 1.25 0 1 0 2.5 0a1.25 1.25 0 1 0 -2.5 0M157.70 211.4a1.25 1.25 0 1 0 2.5 0a1.25 1.25 0 1 0 -2.5 0M183.08 100.7a1.25 1.25 0 1 0 2.5 0a1.25 1.25 0 1 0 -2.5 0M157.70 169.4a1.25 1.25 0 1 0 2.5 0a1.25 1.25 0 1 0 -2.5 0M204.23 92.1a1.25 1.25 0 1 0 2.5 0a1.25 1.25 0 1 0 -2.5 0M119.63 132.8a1.25 1.25 0 1 0 2.5 0a1.25 1.25 0 1 0 -2.5 0M223.27 153.7a1.25 1.25 0 1 0 2.5 0a1.25 1.25 0 1 0 -2.5 0M119.63 197.6a1.25 1.25 0 1 0 2.5 0a1.25 1.25 0 1 0 -2.5 0M188.37 111.3a1.25 1.25 0 1 0 2.5 0a1.25 1.25 0 1 0 -2.5 0M117.52 137.1a1.25 1.25 0 1 0 2.5 0a1.25 1.25 0 1 0 -2.5 0M155.59 124.3a1.25 1.25 0 1 0 2.5 0a1.25 1.25 0 1 0 -2.5 0M147.13 199.0a1.25 1.25 0 1 0 2.5 0a1.25 1.25 0 1 0 -2.5 0M164.05 205.5a1.25 1.25 0 1 0 2.5 0a1.25 1.25 0 1 0 -2.5 0M171.45 168.3a1.25 1.25 0 1 0 2.5 0a1.25 1.25 0 1 0 -2.5 0M136.55 141.6a1.25 1.25 0 1 0 2.5 0a1.25 1.25 0 1 0 -2.5 0M141.84 134.6a1.25 1.25 0 1 0 2.5 0a1.25 1.25 0 1 0 -2.5 0M152.41 123.4a1.25 1.25 0 1 0 2.5 0a1.25 1.25 0 1 0 -2.5 0M105.88 178.3a1.25 1.25 0 1 0 2.5 0a1.25 1.25 0 1 0 -2.5 0M122.80 192.2a1.25 1.25 0 1 0 2.5 0a1.25 1.25 0 1 0 -2.5 0M98.48 133.4a1.25 1.25 0 1 0 2.5 0a1.25 1.25 0 1 0 -2.5 0M143.95 184.0a1.25 1.25 0 1 0 2.5 0a1.25 1.25 0 1 0 -2.5 0M171.45 101.3a1.25 1.25 0 1 0 2.5 0a1.25 1.25 0 1 0 -2.5 0M117.52 166.6a1.25 1.25 0 1 0 2.5 0a1.25 1.25 0 1 0 -2.5 0M122.80 144.9a1.25 1.25 0 1 0 2.5 0a1.25 1.25 0 1 0 -2.5 0M179.91 150.5a1.25 1.25 0 1 0 2.5 0a1.25 1.25 0 1 0 -2.5 0M131.26 155.4a1.25 1.25 0 1 0 2.5 0a1.25 1.25 0 1 0 -2.5 0M100.60 143.1a1.25 1.25 0 1 0 2.5 0a1.25 1.25 0 1 0 -2.5 0M114.34 140.7a1.25 1.25 0 1 0 2.5 0a1.25 1.25 0 1 0 -2.5 0M114.34 152.8a1.25 1.25 0 1 0 2.5 0a1.25 1.25 0 1 0 -2.5 0M114.34 112.8a1.25 1.25 0 1 0 2.5 0a1.25 1.25 0 1 0 -2.5 0M169.33 131.2a1.25 1.25 0 1 0 2.5 0a1.25 1.25 0 1 0 -2.5 0M147.13 183.6a1.25 1.25 0 1 0 2.5 0a1.25 1.25 0 1 0 -2.5 0M103.77 113.9a1.25 1.25 0 1 0 2.5 0a1.25 1.25 0 1 0 -2.5 0M128.09 151.2a1.25 1.25 0 1 0 2.5 0a1.25 1.25 0 1 0 -2.5 0M111.17 158.4a1.25 1.25 0 1 0 2.5 0a1.25 1.25 0 1 0 -2.5 0M109.06 175.1a1.25 1.25 0 1 0 2.5 0a1.25 1.25 0 1 0 -2.5 0M100.60 132.0a1.25 1.25 0 1 0 2.5 0a1.25 1.25 0 1 0 -2.5 0M215.86 159.5a1.25 1.25 0 1 0 2.5 0a1.25 1.25 0 1 0 -2.5 0M133.38 176.8a1.25 1.25 0 1 0 2.5 0a1.25 1.25 0 1 0 -2.5 0M166.16 179.6a1.25 1.25 0 1 0 2.5 0a1.25 1.25 0 1 0 -2.5 0M177.79 125.9a1.25 1.25 0 1 0 2.5 0a1.25 1.25 0 1 0 -2.5 0M133.38 164.1a1.25 1.25 0 1 0 2.5 0a1.25 1.25 0 1 0 -2.5 0M164.05 167.4a1.25 1.25 0 1 0 2.5 0a1.25 1.25 0 1 0 -2.5 0M152.41 146.6a1.25 1.25 0 1 0 2.5 0a1.25 1.25 0 1 0 -2.5 0M155.59 152.3a1.25 1.25 0 1 0 2.5 0a1.25 1.25 0 1 0 -2.5 0M136.55 155.7a1.25 1.25 0 1 0 2.5 0a1.25 1.25 0 1 0 -2.5 0M169.33 182.8a1.25 1.25 0 1 0 2.5 0a1.25 1.25 0 1 0 -2.5 0M217.98 138.7a1.25 1.25 0 1 0 2.5 0a1.25 1.25 0 1 0 -2.5 0M183.08 149.1a1.25 1.25 0 1 0 2.5 0a1.25 1.25 0 1 0 -2.5 0M128.09 176.8a1.25 1.25 0 1 0 2.5 0a1.25 1.25 0 1 0 -2.5 0M117.52 156.4a1.25 1.25 0 1 0 2.5 0a1.25 1.25 0 1 0 -2.5 0M117.52 105.9a1.25 1.25 0 1 0 2.5 0a1.25 1.25 0 1 0 -2.5 0M124.92 146.4a1.25 1.25 0 1 0 2.5 0a1.25 1.25 0 1 0 -2.5 0M157.70 154.2a1.25 1.25 0 1 0 2.5 0a1.25 1.25 0 1 0 -2.5 0M174.62 173.6a1.25 1.25 0 1 0 2.5 0a1.25 1.25 0 1 0 -2.5 0M86.85 167.1a1.25 1.25 0 1 0 2.5 0a1.25 1.25 0 1 0 -2.5 0M143.95 140.4a1.25 1.25 0 1 0 2.5 0a1.25 1.25 0 1 0 -2.5 0M111.17 129.9a1.25 1.25 0 1 0 2.5 0a1.25 1.25 0 1 0 -2.5 0M169.33 150.6a1.25 1.25 0 1 0 2.5 0a1.25 1.25 0 1 0 -2.5 0M177.79 131.6a1.25 1.25 0 1 0 2.5 0a1.25 1.25 0 1 0 -2.5 0M119.63 176.1a1.25 1.25 0 1 0 2.5 0a1.25 1.25 0 1 0 -2.5 0M131.26 165.4a1.25 1.25 0 1 0 2.5 0a1.25 1.25 0 1 0 -2.5 0M117.52 144.2a1.25 1.25 0 1 0 2.5 0a1.25 1.25 0 1 0 -2.5 0M157.70 124.3a1.25 1.25 0 1 0 2.5 0a1.25 1.25 0 1 0 -2.5 0M100.60 165.2a1.25 1.25 0 1 0 2.5 0a1.25 1.25 0 1 0 -2.5 0M111.17 127.5a1.25 1.25 0 1 0 2.5 0a1.25 1.25 0 1 0 -2.5 0M122.80 183.1a1.25 1.25 0 1 0 2.5 0a1.25 1.25 0 1 0 -2.5 0M190.48 126.9a1.25 1.25 0 1 0 2.5 0a1.25 1.25 0 1 0 -2.5 0M143.95 163.6a1.25 1.25 0 1 0 2.5 0a1.25 1.25 0 1 0 -2.5 0M109.06 143.5a1.25 1.25 0 1 0 2.5 0a1.25 1.25 0 1 0 -2.5 0M147.13 134.9a1.25 1.25 0 1 0 2.5 0a1.25 1.25 0 1 0 -2.5 0M117.52 171.6a1.25 1.25 0 1 0 2.5 0a1.25 1.25 0 1 0 -2.5 0M160.87 166.3a1.25 1.25 0 1 0 2.5 0a1.25 1.25 0 1 0 -2.5 0M111.17 164.7a1.25 1.25 0 1 0 2.5 0a1.25 1.25 0 1 0 -2.5 0M133.38 139.4a1.25 1.25 0 1 0 2.5 0a1.25 1.25 0 1 0 -2.5 0M143.95 129.9a1.25 1.25 0 1 0 2.5 0a1.25 1.25 0 1 0 -2.5 0M164.05 180.1a1.25 1.25 0 1 0 2.5 0a1.25 1.25 0 1 0 -2.5 0M141.84 174.2a1.25 1.25 0 1 0 2.5 0a1.25 1.25 0 1 0 -2.5 0M193.66 139.1a1.25 1.25 0 1 0 2.5 0a1.25 1.25 0 1 0 -2.5 0M150.30 172.0a1.25 1.25 0 1 0 2.5 0a1.25 1.25 0 1 0 -2.5 0M95.31 156.8a1.25 1.25 0 1 0 2.5 0a1.25 1.25 0 1 0 -2.5 0M179.91 133.8a1.25 1.25 0 1 0 2.5 0a1.25 1.25 0 1 0 -2.5 0M136.55 152.7a1.25 1.25 0 1 0 2.5 0a1.25 1.25 0 1 0 -2.5 0M122.80 125.0a1.25 1.25 0 1 0 2.5 0a1.25 1.25 0 1 0 -2.5 0M204.23 153.9a1.25 1.25 0 1 0 2.5 0a1.25 1.25 0 1 0 -2.5 0M114.34 155.8a1.25 1.25 0 1 0 2.5 0a1.25 1.25 0 1 0 -2.5 0M147.13 174.2a1.25 1.25 0 1 0 2.5 0a1.25 1.25 0 1 0 -2.5 0M196.83 166.7a1.25 1.25 0 1 0 2.5 0a1.25 1.25 0 1 0 -2.5 0M133.38 203.0a1.25 1.25 0 1 0 2.5 0a1.25 1.25 0 1 0 -2.5 0M152.41 133.2a1.25 1.25 0 1 0 2.5 0a1.25 1.25 0 1 0 -2.5 0M103.77 131.4a1.25 1.25 0 1 0 2.5 0a1.25 1.25 0 1 0 -2.5 0M202.12 144.2a1.25 1.25 0 1 0 2.5 0a1.25 1.25 0 1 0 -2.5 0M111.17 122.0a1.25 1.25 0 1 0 2.5 0a1.25 1.25 0 1 0 -2.5 0M177.79 98.6a1.25 1.25 0 1 0 2.5 0a1.25 1.25 0 1 0 -2.5 0M188.37 202.9a1.25 1.25 0 1 0 2.5 0a1.25 1.25 0 1 0 -2.5 0M190.48 159.6a1.25 1.25 0 1 0 2.5 0a1.25 1.25 0 1 0 -2.5 0M221.15 135.1a1.25 1.25 0 1 0 2.5 0a1.25 1.25 0 1 0 -2.5 0M109.06 158.6a1.25 1.25 0 1 0 2.5 0a1.25 1.25 0 1 0 -2.5 0M157.70 157.9a1.25 1.25 0 1 0 2.5 0a1.25 1.25 0 1 0 -2.5 0M150.30 125.1a1.25 1.25 0 1 0 2.5 0a1.25 1.25 0 1 0 -2.5 0M157.70 140.8a1.25 1.25 0 1 0 2.5 0a1.25 1.25 0 1 0 -2.5 0M185.20 193.0a1.25 1.25 0 1 0 2.5 0a1.25 1.25 0 1 0 -2.5 0M147.13 115.1a1.25 1.25 0 1 0 2.5 0a1.25 1.25 0 1 0 -2.5 0M119.63 174.8a1.25 1.25 0 1 0 2.5 0a1.25 1.25 0 1 0 -2.5 0M141.84 148.0a1.25 1.25 0 1 0 2.5 0a1.25 1.25 0 1 0 -2.5 0M207.40 141.1a1.25 1.25 0 1 0 2.5 0a1.25 1.25 0 1 0 -2.5 0M109.06 197.4a1.25 1.25 0 1 0 2.5 0a1.25 1.25 0 1 0 -2.5 0M147.13 108.3a1.25 1.25 0 1 0 2.5 0a1.25 1.25 0 1 0 -2.5 0M114.34 134.4a1.25 1.25 0 1 0 2.5 0a1.25 1.25 0 1 0 -2.5 0M185.20 145.3a1.25 1.25 0 1 0 2.5 0a1.25 1.25 0 1 0 -2.5 0M98.48 130.1a1.25 1.25 0 1 0 2.5 0a1.25 1.25 0 1 0 -2.5 0M133.38 159.8a1.25 1.25 0 1 0 2.5 0a1.25 1.25 0 1 0 -2.5 0M141.84 135.1a1.25 1.25 0 1 0 2.5 0a1.25 1.25 0 1 0 -2.5 0M147.13 136.8a1.25 1.25 0 1 0 2.5 0a1.25 1.25 0 1 0 -2.5 0M207.40 188.8a1.25 1.25 0 1 0 2.5 0a1.25 1.25 0 1 0 -2.5 0M114.34 127.1a1.25 1.25 0 1 0 2.5 0a1.25 1.25 0 1 0 -2.5 0M109.06 137.5a1.25 1.25 0 1 0 2.5 0a1.25 1.25 0 1 0 -2.5 0M95.31 155.9a1.25 1.25 0 1 0 2.5 0a1.25 1.25 0 1 0 -2.5 0M103.77 132.3a1.25 1.25 0 1 0 2.5 0a1.25 1.25 0 1 0 -2.5 0M152.41 202.3a1.25 1.25 0 1 0 2.5 0a1.25 1.25 0 1 0 -2.5 0M164.05 151.7a1.25 1.25 0 1 0 2.5 0a1.25 1.25 0 1 0 -2.5 0M86.85 150.2a1.25 1.25 0 1 0 2.5 0a1.25 1.25 0 1 0 -2.5 0M160.87 147.3a1.25 1.25 0 1 0 2.5 0a1.25 1.25 0 1 0 -2.5 0M136.55 147.5a1.25 1.25 0 1 0 2.5 0a1.25 1.25 0 1 0 -2.5 0M169.33 153.1a1.25 1.25 0 1 0 2.5 0a1.25 1.25 0 1 0 -2.5 0M133.38 143.7a1.25 1.25 0 1 0 2.5 0a1.25 1.25 0 1 0 -2.5 0M177.79 142.5a1.25 1.25 0 1 0 2.5 0a1.25 1.25 0 1 0 -2.5 0M164.05 170.2a1.25 1.25 0 1 0 2.5 0a1.25 1.25 0 1 0 -2.5 0M109.06 113.6a1.25 1.25 0 1 0 2.5 0a1.25 1.25 0 1 0 -2.5 0M202.12 156.0a1.25 1.25 0 1 0 2.5 0a1.25 1.25 0 1 0 -2.5 0M152.41 170.9a1.25 1.25 0 1 0 2.5 0a1.25 1.25 0 1 0 -2.5 0M171.45 137.4a1.25 1.25 0 1 0 2.5 0a1.25 1.25 0 1 0 -2.5 0M193.66 195.2a1.25 1.25 0 1 0 2.5 0a1.25 1.25 0 1 0 -2.5 0M114.34 123.9a1.25 1.25 0 1 0 2.5 0a1.25 1.25 0 1 0 -2.5 0M141.84 163.7a1.25 1.25 0 1 0 2.5 0a1.25 1.25 0 1 0 -2.5 0M119.63 151.6a1.25 1.25 0 1 0 2.5 0a1.25 1.25 0 1 0 -2.5 0M117.52 152.3a1.25 1.25 0 1 0 2.5 0a1.25 1.25 0 1 0 -2.5 0M152.41 142.3a1.25 1.25 0 1 0 2.5 0a1.25 1.25 0 1 0 -2.5 0M155.59 172.7a1.25 1.25 0 1 0 2.5 0a1.25 1.25 0 1 0 -2.5 0M196.83 169.6a1.25 1.25 0 1 0 2.5 0a1.25 1.25 0 1 0 -2.5 0M198.94 147.8a1.25 1.25 0 1 0 2.5 0a1.25 1.25 0 1 0 -2.5 0M143.95 172.0a1.25 1.25 0 1 0 2.5 0a1.25 1.25 0 1 0 -2.5 0M119.63 155.6a1.25 1.25 0 1 0 2.5 0a1.25 1.25 0 1 0 -2.5 0M141.84 165.5a1.25 1.25 0 1 0 2.5 0a1.25 1.25 0 1 0 -2.5 0M117.52 173.5a1.25 1.25 0 1 0 2.5 0a1.25 1.25 0 1 0 -2.5 0M131.26 178.0a1.25 1.25 0 1 0 2.5 0a1.25 1.25 0 1 0 -2.5 0M155.59 168.2a1.25 1.25 0 1 0 2.5 0a1.25 1.25 0 1 0 -2.5 0M188.37 190.7a1.25 1.25 0 1 0 2.5 0a1.25 1.25 0 1 0 -2.5 0M179.91 188.3a1.25 1.25 0 1 0 2.5 0a1.25 1.25 0 1 0 -2.5 0M136.55 155.1a1.25 1.25 0 1 0 2.5 0a1.25 1.25 0 1 0 -2.5 0M150.30 131.8a1.25 1.25 0 1 0 2.5 0a1.25 1.25 0 1 0 -2.5 0M133.38 147.8a1.25 1.25 0 1 0 2.5 0a1.25 1.25 0 1 0 -2.5 0M147.13 136.6a1.25 1.25 0 1 0 2.5 0a1.25 1.25 0 1 0 -2.5 0M141.84 152.2a1.25 1.25 0 1 0 2.5 0a1.25 1.25 0 1 0 -2.5 0M164.05 129.9a1.25 1.25 0 1 0 2.5 0a1.25 1.25 0 1 0 -2.5 0M92.14 147.0a1.25 1.25 0 1 0 2.5 0a1.25 1.25 0 1 0 -2.5 0M133.38 147.4a1.25 1.25 0 1 0 2.5 0a1.25 1.25 0 1 0 -2.5 0M136.55 187.6a1.25 1.25 0 1 0 2.5 0a1.25 1.25 0 1 0 -2.5 0M111.17 127.7a1.25 1.25 0 1 0 2.5 0a1.25 1.25 0 1 0 -2.5 0M138.67 160.5a1.25 1.25 0 1 0 2.5 0a1.25 1.25 0 1 0 -2.5 0M114.34 154.4a1.25 1.25 0 1 0 2.5 0a1.25 1.25 0 1 0 -2.5 0M122.80 143.3a1.25 1.25 0 1 0 2.5 0a1.25 1.25 0 1 0 -2.5 0M136.55 148.3a1.25 1.25 0 1 0 2.5 0a1.25 1.25 0 1 0 -2.5 0M136.55 155.3a1.25 1.25 0 1 0 2.5 0a1.25 1.25 0 1 0 -2.5 0M124.92 120.9a1.25 1.25 0 1 0 2.5 0a1.25 1.25 0 1 0 -2.5 0M185.20 179.6a1.25 1.25 0 1 0 2.5 0a1.25 1.25 0 1 0 -2.5 0M152.41 208.9a1.25 1.25 0 1 0 2.5 0a1.25 1.25 0 1 0 -2.5 0M155.59 164.0a1.25 1.25 0 1 0 2.5 0a1.25 1.25 0 1 0 -2.5 0M122.80 158.8a1.25 1.25 0 1 0 2.5 0a1.25 1.25 0 1 0 -2.5 0M117.52 120.2a1.25 1.25 0 1 0 2.5 0a1.25 1.25 0 1 0 -2.5 0M174.62 115.4a1.25 1.25 0 1 0 2.5 0a1.25 1.25 0 1 0 -2.5 0M133.38 183.1a1.25 1.25 0 1 0 2.5 0a1.25 1.25 0 1 0 -2.5 0M95.31 141.5a1.25 1.25 0 1 0 2.5 0a1.25 1.25 0 1 0 -2.5 0M86.85 183.2a1.25 1.25 0 1 0 2.5 0a1.25 1.25 0 1 0 -2.5 0M152.41 146.4a1.25 1.25 0 1 0 2.5 0a1.25 1.25 0 1 0 -2.5 0M122.80 117.3a1.25 1.25 0 1 0 2.5 0a1.25 1.25 0 1 0 -2.5 0M141.84 170.9a1.25 1.25 0 1 0 2.5 0a1.25 1.25 0 1 0 -2.5 0M128.09 113.2a1.25 1.25 0 1 0 2.5 0a1.25 1.25 0 1 0 -2.5 0M131.26 146.6a1.25 1.25 0 1 0 2.5 0a1.25 1.25 0 1 0 -2.5 0M109.06 167.9a1.25 1.25 0 1 0 2.5 0a1.25 1.25 0 1 0 -2.5 0M143.95 177.4a1.25 1.25 0 1 0 2.5 0a1.25 1.25 0 1 0 -2.5 0M183.08 120.4a1.25 1.25 0 1 0 2.5 0a1.25 1.25 0 1 0 -2.5 0M169.33 130.6a1.25 1.25 0 1 0 2.5 0a1.25 1.25 0 1 0 -2.5 0M98.48 134.8a1.25 1.25 0 1 0 2.5 0a1.25 1.25 0 1 0 -2.5 0M105.88 171.5a1.25 1.25 0 1 0 2.5 0a1.25 1.25 0 1 0 -2.5 0M105.88 146.8a1.25 1.25 0 1 0 2.5 0a1.25 1.25 0 1 0 -2.5 0M136.55 166.4a1.25 1.25 0 1 0 2.5 0a1.25 1.25 0 1 0 -2.5 0M177.79 113.2a1.25 1.25 0 1 0 2.5 0a1.25 1.25 0 1 0 -2.5 0M155.59 136.5a1.25 1.25 0 1 0 2.5 0a1.25 1.25 0 1 0 -2.5 0M95.31 167.1a1.25 1.25 0 1 0 2.5 0a1.25 1.25 0 1 0 -2.5 0M147.13 174.5a1.25 1.25 0 1 0 2.5 0a1.25 1.25 0 1 0 -2.5 0M174.62 192.1a1.25 1.25 0 1 0 2.5 0a1.25 1.25 0 1 0 -2.5 0M131.26 167.3a1.25 1.25 0 1 0 2.5 0a1.25 1.25 0 1 0 -2.5 0M223.27 155.6a1.25 1.25 0 1 0 2.5 0a1.25 1.25 0 1 0 -2.5 0M124.92 139.9a1.25 1.25 0 1 0 2.5 0a1.25 1.25 0 1 0 -2.5 0M188.37 125.2a1.25 1.25 0 1 0 2.5 0a1.25 1.25 0 1 0 -2.5 0M109.06 116.5a1.25 1.25 0 1 0 2.5 0a1.25 1.25 0 1 0 -2.5 0M133.38 204.8a1.25 1.25 0 1 0 2.5 0a1.25 1.25 0 1 0 -2.5 0M166.16 155.1a1.25 1.25 0 1 0 2.5 0a1.25 1.25 0 1 0 -2.5 0M95.31 131.5a1.25 1.25 0 1 0 2.5 0a1.25 1.25 0 1 0 -2.5 0M164.05 165.8a1.25 1.25 0 1 0 2.5 0a1.25 1.25 0 1 0 -2.5 0M155.59 145.7a1.25 1.25 0 1 0 2.5 0a1.25 1.25 0 1 0 -2.5 0M131.26 129.1a1.25 1.25 0 1 0 2.5 0a1.25 1.25 0 1 0 -2.5 0M119.63 164.9a1.25 1.25 0 1 0 2.5 0a1.25 1.25 0 1 0 -2.5 0M128.09 145.1a1.25 1.25 0 1 0 2.5 0a1.25 1.25 0 1 0 -2.5 0M133.38 121.4a1.25 1.25 0 1 0 2.5 0a1.25 1.25 0 1 0 -2.5 0M109.06 181.1a1.25 1.25 0 1 0 2.5 0a1.25 1.25 0 1 0 -2.5 0M207.40 123.9a1.25 1.25 0 1 0 2.5 0a1.25 1.25 0 1 0 -2.5 0M111.17 152.6a1.25 1.25 0 1 0 2.5 0a1.25 1.25 0 1 0 -2.5 0M131.26 189.1a1.25 1.25 0 1 0 2.5 0a1.25 1.25 0 1 0 -2.5 0M124.92 140.2a1.25 1.25 0 1 0 2.5 0a1.25 1.25 0 1 0 -2.5 0M131.26 132.5a1.25 1.25 0 1 0 2.5 0a1.25 1.25 0 1 0 -2.5 0M147.13 155.8a1.25 1.25 0 1 0 2.5 0a1.25 1.25 0 1 0 -2.5 0M122.80 140.6a1.25 1.25 0 1 0 2.5 0a1.25 1.25 0 1 0 -2.5 0M136.55 137.4a1.25 1.25 0 1 0 2.5 0a1.25 1.25 0 1 0 -2.5 0M215.86 151.6a1.25 1.25 0 1 0 2.5 0a1.25 1.25 0 1 0 -2.5 0M185.20 148.6a1.25 1.25 0 1 0 2.5 0a1.25 1.25 0 1 0 -2.5 0M136.55 127.8a1.25 1.25 0 1 0 2.5 0a1.25 1.25 0 1 0 -2.5 0M177.79 131.3a1.25 1.25 0 1 0 2.5 0a1.25 1.25 0 1 0 -2.5 0M119.63 149.3a1.25 1.25 0 1 0 2.5 0a1.25 1.25 0 1 0 -2.5 0M152.41 199.8a1.25 1.25 0 1 0 2.5 0a1.25 1.25 0 1 0 -2.5 0M103.77 182.1a1.25 1.25 0 1 0 2.5 0a1.25 1.25 0 1 0 -2.5 0M111.17 158.6a1.25 1.25 0 1 0 2.5 0a1.25 1.25 0 1 0 -2.5 0M117.52 118.4a1.25 1.25 0 1 0 2.5 0a1.25 1.25 0 1 0 -2.5 0M193.66 138.8a1.25 1.25 0 1 0 2.5 0a1.25 1.25 0 1 0 -2.5 0M152.41 103.4a1.25 1.25 0 1 0 2.5 0a1.25 1.25 0 1 0 -2.5 0M164.05 138.7a1.25 1.25 0 1 0 2.5 0a1.25 1.25 0 1 0 -2.5 0M150.30 139.1a1.25 1.25 0 1 0 2.5 0a1.25 1.25 0 1 0 -2.5 0M157.70 159.2a1.25 1.25 0 1 0 2.5 0a1.25 1.25 0 1 0 -2.5 0M157.70 118.1a1.25 1.25 0 1 0 2.5 0a1.25 1.25 0 1 0 -2.5 0M171.45 187.2a1.25 1.25 0 1 0 2.5 0a1.25 1.25 0 1 0 -2.5 0M150.30 141.2a1.25 1.25 0 1 0 2.5 0a1.25 1.25 0 1 0 -2.5 0M117.52 152.4a1.25 1.25 0 1 0 2.5 0a1.25 1.25 0 1 0 -2.5 0M119.63 162.8a1.25 1.25 0 1 0 2.5 0a1.25 1.25 0 1 0 -2.5 0M190.48 126.7a1.25 1.25 0 1 0 2.5 0a1.25 1.25 0 1 0 -2.5 0M198.94 134.2a1.25 1.25 0 1 0 2.5 0a1.25 1.25 0 1 0 -2.5 0M164.05 140.2a1.25 1.25 0 1 0 2.5 0a1.25 1.25 0 1 0 -2.5 0M98.48 155.7a1.25 1.25 0 1 0 2.5 0a1.25 1.25 0 1 0 -2.5 0M207.40 190.9a1.25 1.25 0 1 0 2.5 0a1.25 1.25 0 1 0 -2.5 0M155.59 186.3a1.25 1.25 0 1 0 2.5 0a1.25 1.25 0 1 0 -2.5 0M143.95 186.0a1.25 1.25 0 1 0 2.5 0a1.25 1.25 0 1 0 -2.5 0M133.38 141.5a1.25 1.25 0 1 0 2.5 0a1.25 1.25 0 1 0 -2.5 0M217.98 115.8a1.25 1.25 0 1 0 2.5 0a1.25 1.25 0 1 0 -2.5 0M212.69 182.5a1.25 1.25 0 1 0 2.5 0a1.25 1.25 0 1 0 -2.5 0M111.17 115.6a1.25 1.25 0 1 0 2.5 0a1.25 1.25 0 1 0 -2.5 0M138.67 99.6a1.25 1.25 0 1 0 2.5 0a1.25 1.25 0 1 0 -2.5 0M155.59 121.3a1.25 1.25 0 1 0 2.5 0a1.25 1.25 0 1 0 -2.5 0M193.66 106.6a1.25 1.25 0 1 0 2.5 0a1.25 1.25 0 1 0 -2.5 0M179.91 164.6a1.25 1.25 0 1 0 2.5 0a1.25 1.25 0 1 0 -2.5 0M212.69 145.1a1.25 1.25 0 1 0 2.5 0a1.25 1.25 0 1 0 -2.5 0M133.38 123.5a1.25 1.25 0 1 0 2.5 0a1.25 1.25 0 1 0 -2.5 0M141.84 137.2a1.25 1.25 0 1 0 2.5 0a1.25 1.25 0 1 0 -2.5 0M193.66 146.5a1.25 1.25 0 1 0 2.5 0a1.25 1.25 0 1 0 -2.5 0M157.70 128.7a1.25 1.25 0 1 0 2.5 0a1.25 1.25 0 1 0 -2.5 0M105.88 170.6a1.25 1.25 0 1 0 2.5 0a1.25 1.25 0 1 0 -2.5 0M109.06 126.3a1.25 1.25 0 1 0 2.5 0a1.25 1.25 0 1 0 -2.5 0M114.34 200.7a1.25 1.25 0 1 0 2.5 0a1.25 1.25 0 1 0 -2.5 0M103.77 108.6a1.25 1.25 0 1 0 2.5 0a1.25 1.25 0 1 0 -2.5 0M143.95 111.7a1.25 1.25 0 1 0 2.5 0a1.25 1.25 0 1 0 -2.5 0M143.95 173.3a1.25 1.25 0 1 0 2.5 0a1.25 1.25 0 1 0 -2.5 0M169.33 165.4a1.25 1.25 0 1 0 2.5 0a1.25 1.25 0 1 0 -2.5 0M217.98 179.5a1.25 1.25 0 1 0 2.5 0a1.25 1.25 0 1 0 -2.5 0M152.41 188.6a1.25 1.25 0 1 0 2.5 0a1.25 1.25 0 1 0 -2.5 0M92.14 208.3a1.25 1.25 0 1 0 2.5 0a1.25 1.25 0 1 0 -2.5 0M198.94 130.2a1.25 1.25 0 1 0 2.5 0a1.25 1.25 0 1 0 -2.5 0M138.67 154.9a1.25 1.25 0 1 0 2.5 0a1.25 1.25 0 1 0 -2.5 0M188.37 154.6a1.25 1.25 0 1 0 2.5 0a1.25 1.25 0 1 0 -2.5 0M131.26 196.8a1.25 1.25 0 1 0 2.5 0a1.25 1.25 0 1 0 -2.5 0M155.59 145.8a1.25 1.25 0 1 0 2.5 0a1.25 1.25 0 1 0 -2.5 0M138.67 94.6a1.25 1.25 0 1 0 2.5 0a1.25 1.25 0 1 0 -2.5 0M141.84 144.9a1.25 1.25 0 1 0 2.5 0a1.25 1.25 0 1 0 -2.5 0M193.66 128.7a1.25 1.25 0 1 0 2.5 0a1.25 1.25 0 1 0 -2.5 0M122.80 179.5a1.25 1.25 0 1 0 2.5 0a1.25 1.25 0 1 0 -2.5 0M150.30 120.5a1.25 1.25 0 1 0 2.5 0a1.25 1.25 0 1 0 -2.5 0M152.41 150.4a1.25 1.25 0 1 0 2.5 0a1.25 1.25 0 1 0 -2.5 0M131.26 145.4a1.25 1.25 0 1 0 2.5 0a1.25 1.25 0 1 0 -2.5 0M86.85 135.8a1.25 1.25 0 1 0 2.5 0a1.25 1.25 0 1 0 -2.5 0M155.59 156.4a1.25 1.25 0 1 0 2.5 0a1.25 1.25 0 1 0 -2.5 0M100.60 149.5a1.25 1.25 0 1 0 2.5 0a1.25 1.25 0 1 0 -2.5 0M128.09 160.0a1.25 1.25 0 1 0 2.5 0a1.25 1.25 0 1 0 -2.5 0M157.70 178.7a1.25 1.25 0 1 0 2.5 0a1.25 1.25 0 1 0 -2.5 0M174.62 181.5a1.25 1.25 0 1 0 2.5 0a1.25 1.25 0 1 0 -2.5 0M174.62 127.2a1.25 1.25 0 1 0 2.5 0a1.25 1.25 0 1 0 -2.5 0M166.16 120.8a1.25 1.25 0 1 0 2.5 0a1.25 1.25 0 1 0 -2.5 0M133.38 151.3a1.25 1.25 0 1 0 2.5 0a1.25 1.25 0 1 0 -2.5 0M190.48 155.9a1.25 1.25 0 1 0 2.5 0a1.25 1.25 0 1 0 -2.5 0M136.55 164.0a1.25 1.25 0 1 0 2.5 0a1.25 1.25 0 1 0 -2.5 0M185.20 145.6a1.25 1.25 0 1 0 2.5 0a1.25 1.25 0 1 0 -2.5 0M86.85 107.6a1.25 1.25 0 1 0 2.5 0a1.25 1.25 0 1 0 -2.5 0M114.34 140.1a1.25 1.25 0 1 0 2.5 0a1.25 1.25 0 1 0 -2.5 0M124.92 162.3a1.25 1.25 0 1 0 2.5 0a1.25 1.25 0 1 0 -2.5 0M143.95 120.3a1.25 1.25 0 1 0 2.5 0a1.25 1.25 0 1 0 -2.5 0M174.62 198.0a1.25 1.25 0 1 0 2.5 0a1.25 1.25 0 1 0 -2.5 0M179.91 162.7a1.25 1.25 0 1 0 2.5 0a1.25 1.25 0 1 0 -2.5 0M171.45 116.1a1.25 1.25 0 1 0 2.5 0a1.25 1.25 0 1 0 -2.5 0M128.09 137.1a1.25 1.25 0 1 0 2.5 0a1.25 1.25 0 1 0 -2.5 0M202.12 152.2a1.25 1.25 0 1 0 2.5 0a1.25 1.25 0 1 0 -2.5 0M128.09 136.3a1.25 1.25 0 1 0 2.5 0a1.25 1.25 0 1 0 -2.5 0M177.79 181.3a1.25 1.25 0 1 0 2.5 0a1.25 1.25 0 1 0 -2.5 0M141.84 179.6a1.25 1.25 0 1 0 2.5 0a1.25 1.25 0 1 0 -2.5 0M143.95 151.5a1.25 1.25 0 1 0 2.5 0a1.25 1.25 0 1 0 -2.5 0M138.67 144.8a1.25 1.25 0 1 0 2.5 0a1.25 1.25 0 1 0 -2.5 0M143.95 104.6a1.25 1.25 0 1 0 2.5 0a1.25 1.25 0 1 0 -2.5 0M185.20 152.7a1.25 1.25 0 1 0 2.5 0a1.25 1.25 0 1 0 -2.5 0M202.12 142.1a1.25 1.25 0 1 0 2.5 0a1.25 1.25 0 1 0 -2.5 0M202.12 108.6a1.25 1.25 0 1 0 2.5 0a1.25 1.25 0 1 0 -2.5 0M177.79 165.5a1.25 1.25 0 1 0 2.5 0a1.25 1.25 0 1 0 -2.5 0M169.33 156.5a1.25 1.25 0 1 0 2.5 0a1.25 1.25 0 1 0 -2.5 0M160.87 147.8a1.25 1.25 0 1 0 2.5 0a1.25 1.25 0 1 0 -2.5 0M215.86 143.4a1.25 1.25 0 1 0 2.5 0a1.25 1.25 0 1 0 -2.5 0M131.26 143.0a1.25 1.25 0 1 0 2.5 0a1.25 1.25 0 1 0 -2.5 0M124.92 128.2a1.25 1.25 0 1 0 2.5 0a1.25 1.25 0 1 0 -2.5 0M143.95 180.5a1.25 1.25 0 1 0 2.5 0a1.25 1.25 0 1 0 -2.5 0M98.48 181.1a1.25 1.25 0 1 0 2.5 0a1.25 1.25 0 1 0 -2.5 0M136.55 150.4a1.25 1.25 0 1 0 2.5 0a1.25 1.25 0 1 0 -2.5 0M141.84 192.2a1.25 1.25 0 1 0 2.5 0a1.25 1.25 0 1 0 -2.5 0M114.34 104.1a1.25 1.25 0 1 0 2.5 0a1.25 1.25 0 1 0 -2.5 0M124.92 169.0a1.25 1.25 0 1 0 2.5 0a1.25 1.25 0 1 0 -2.5 0M169.33 165.1a1.25 1.25 0 1 0 2.5 0a1.25 1.25 0 1 0 -2.5 0M136.55 132.3a1.25 1.25 0 1 0 2.5 0a1.25 1.25 0 1 0 -2.5 0M147.13 140.4a1.25 1.25 0 1 0 2.5 0a1.25 1.25 0 1 0 -2.5 0M183.08 135.2a1.25 1.25 0 1 0 2.5 0a1.25 1.25 0 1 0 -2.5 0M124.92 148.9a1.25 1.25 0 1 0 2.5 0a1.25 1.25 0 1 0 -2.5 0M111.17 182.8a1.25 1.25 0 1 0 2.5 0a1.25 1.25 0 1 0 -2.5 0M141.84 153.6a1.25 1.25 0 1 0 2.5 0a1.25 1.25 0 1 0 -2.5 0M157.70 167.9a1.25 1.25 0 1 0 2.5 0a1.25 1.25 0 1 0 -2.5 0M95.31 192.0a1.25 1.25 0 1 0 2.5 0a1.25 1.25 0 1 0 -2.5 0M166.16 158.6a1.25 1.25 0 1 0 2.5 0a1.25 1.25 0 1 0 -2.5 0M133.38 123.6a1.25 1.25 0 1 0 2.5 0a1.25 1.25 0 1 0 -2.5 0M131.26 174.3a1.25 1.25 0 1 0 2.5 0a1.25 1.25 0 1 0 -2.5 0M117.52 168.5a1.25 1.25 0 1 0 2.5 0a1.25 1.25 0 1 0 -2.5 0M138.67 170.2a1.25 1.25 0 1 0 2.5 0a1.25 1.25 0 1 0 -2.5 0M179.91 131.3a1.25 1.25 0 1 0 2.5 0a1.25 1.25 0 1 0 -2.5 0M164.05 206.3a1.25 1.25 0 1 0 2.5 0a1.25 1.25 0 1 0 -2.5 0M174.62 139.0a1.25 1.25 0 1 0 2.5 0a1.25 1.25 0 1 0 -2.5 0M133.38 147.1a1.25 1.25 0 1 0 2.5 0a1.25 1.25 0 1 0 -2.5 0M207.40 155.5a1.25 1.25 0 1 0 2.5 0a1.25 1.25 0 1 0 -2.5 0M193.66 177.6a1.25 1.25 0 1 0 2.5 0a1.25 1.25 0 1 0 -2.5 0M143.95 157.7a1.25 1.25 0 1 0 2.5 0a1.25 1.25 0 1 0 -2.5 0M147.13 145.0a1.25 1.25 0 1 0 2.5 0a1.25 1.25 0 1 0 -2.5 0M141.84 161.5a1.25 1.25 0 1 0 2.5 0a1.25 1.25 0 1 0 -2.5 0M114.34 126.7a1.25 1.25 0 1 0 2.5 0a1.25 1.25 0 1 0 -2.5 0M215.86 187.2a1.25 1.25 0 1 0 2.5 0a1.25 1.25 0 1 0 -2.5 0M124.92 119.6a1.25 1.25 0 1 0 2.5 0a1.25 1.25 0 1 0 -2.5 0M160.87 154.5a1.25 1.25 0 1 0 2.5 0a1.25 1.25 0 1 0 -2.5 0M150.30 135.0a1.25 1.25 0 1 0 2.5 0a1.25 1.25 0 1 0 -2.5 0M190.48 140.8a1.25 1.25 0 1 0 2.5 0a1.25 1.25 0 1 0 -2.5 0M133.38 161.0a1.25 1.25 0 1 0 2.5 0a1.25 1.25 0 1 0 -2.5 0M169.33 136.1a1.25 1.25 0 1 0 2.5 0a1.25 1.25 0 1 0 -2.5 0M143.95 131.0a1.25 1.25 0 1 0 2.5 0a1.25 1.25 0 1 0 -2.5 0M183.08 189.1a1.25 1.25 0 1 0 2.5 0a1.25 1.25 0 1 0 -2.5 0M221.15 194.4a1.25 1.25 0 1 0 2.5 0a1.25 1.25 0 1 0 -2.5 0M111.17 134.4a1.25 1.25 0 1 0 2.5 0a1.25 1.25 0 1 0 -2.5 0M136.55 166.0a1.25 1.25 0 1 0 2.5 0a1.25 1.25 0 1 0 -2.5 0M157.70 147.4a1.25 1.25 0 1 0 2.5 0a1.25 1.25 0 1 0 -2.5 0M124.92 147.0a1.25 1.25 0 1 0 2.5 0a1.25 1.25 0 1 0 -2.5 0M119.63 145.5a1.25 1.25 0 1 0 2.5 0a1.25 1.25 0 1 0 -2.5 0M133.38 157.3a1.25 1.25 0 1 0 2.5 0a1.25 1.25 0 1 0 -2.5 0M136.55 134.3a1.25 1.25 0 1 0 2.5 0a1.25 1.25 0 1 0 -2.5 0M124.92 111.5a1.25 1.25 0 1 0 2.5 0a1.25 1.25 0 1 0 -2.5 0M155.59 107.9a1.25 1.25 0 1 0 2.5 0a1.25 1.25 0 1 0 -2.5 0M174.62 162.4a1.25 1.25 0 1 0 2.5 0a1.25 1.25 0 1 0 -2.5 0M171.45 149.5a1.25 1.25 0 1 0 2.5 0a1.25 1.25 0 1 0 -2.5 0M169.33 150.3a1.25 1.25 0 1 0 2.5 0a1.25 1.25 0 1 0 -2.5 0M190.48 193.8a1.25 1.25 0 1 0 2.5 0a1.25 1.25 0 1 0 -2.5 0M105.88 191.3a1.25 1.25 0 1 0 2.5 0a1.25 1.25 0 1 0 -2.5 0M141.84 155.0a1.25 1.25 0 1 0 2.5 0a1.25 1.25 0 1 0 -2.5 0M150.30 139.7a1.25 1.25 0 1 0 2.5 0a1.25 1.25 0 1 0 -2.5 0M164.05 131.9a1.25 1.25 0 1 0 2.5 0a1.25 1.25 0 1 0 -2.5 0M100.60 167.1a1.25 1.25 0 1 0 2.5 0a1.25 1.25 0 1 0 -2.5 0M223.27 137.5a1.25 1.25 0 1 0 2.5 0a1.25 1.25 0 1 0 -2.5 0M117.52 153.9a1.25 1.25 0 1 0 2.5 0a1.25 1.25 0 1 0 -2.5 0M152.41 164.5a1.25 1.25 0 1 0 2.5 0a1.25 1.25 0 1 0 -2.5 0M171.45 126.8a1.25 1.25 0 1 0 2.5 0a1.25 1.25 0 1 0 -2.5 0M185.20 199.6a1.25 1.25 0 1 0 2.5 0a1.25 1.25 0 1 0 -2.5 0M128.09 99.5a1.25 1.25 0 1 0 2.5 0a1.25 1.25 0 1 0 -2.5 0M157.70 154.1a1.25 1.25 0 1 0 2.5 0a1.25 1.25 0 1 0 -2.5 0M166.16 132.1a1.25 1.25 0 1 0 2.5 0a1.25 1.25 0 1 0 -2.5 0M177.79 156.4a1.25 1.25 0 1 0 2.5 0a1.25 1.25 0 1 0 -2.5 0M141.84 171.0a1.25 1.25 0 1 0 2.5 0a1.25 1.25 0 1 0 -2.5 0M122.80 182.4a1.25 1.25 0 1 0 2.5 0a1.25 1.25 0 1 0 -2.5 0M105.88 198.9a1.25 1.25 0 1 0 2.5 0a1.25 1.25 0 1 0 -2.5 0M215.86 149.8a1.25 1.25 0 1 0 2.5 0a1.25 1.25 0 1 0 -2.5 0M105.88 178.5a1.25 1.25 0 1 0 2.5 0a1.25 1.25 0 1 0 -2.5 0M169.33 156.6a1.25 1.25 0 1 0 2.5 0a1.25 1.25 0 1 0 -2.5 0M155.59 145.4a1.25 1.25 0 1 0 2.5 0a1.25 1.25 0 1 0 -2.5 0M171.45 155.5a1.25 1.25 0 1 0 2.5 0a1.25 1.25 0 1 0 -2.5 0M179.91 151.6a1.25 1.25 0 1 0 2.5 0a1.25 1.25 0 1 0 -2.5 0M196.83 114.5a1.25 1.25 0 1 0 2.5 0a1.25 1.25 0 1 0 -2.5 0M141.84 144.7a1.25 1.25 0 1 0 2.5 0a1.25 1.25 0 1 0 -2.5 0M157.70 146.5a1.25 1.25 0 1 0 2.5 0a1.25 1.25 0 1 0 -2.5 0M92.14 153.8a1.25 1.25 0 1 0 2.5 0a1.25 1.25 0 1 0 -2.5 0M147.13 113.9a1.25 1.25 0 1 0 2.5 0a1.25 1.25 0 1 0 -2.5 0M117.52 116.5a1.25 1.25 0 1 0 2.5 0a1.25 1.25 0 1 0 -2.5 0M138.67 168.0a1.25 1.25 0 1 0 2.5 0a1.25 1.25 0 1 0 -2.5 0M193.66 143.9a1.25 1.25 0 1 0 2.5 0a1.25 1.25 0 1 0 -2.5 0M147.13 156.3a1.25 1.25 0 1 0 2.5 0a1.25 1.25 0 1 0 -2.5 0M185.20 165.9a1.25 1.25 0 1 0 2.5 0a1.25 1.25 0 1 0 -2.5 0M138.67 176.5a1.25 1.25 0 1 0 2.5 0a1.25 1.25 0 1 0 -2.5 0M157.70 104.5a1.25 1.25 0 1 0 2.5 0a1.25 1.25 0 1 0 -2.5 0M131.26 136.9a1.25 1.25 0 1 0 2.5 0a1.25 1.25 0 1 0 -2.5 0M122.80 122.6a1.25 1.25 0 1 0 2.5 0a1.25 1.25 0 1 0 -2.5 0M136.55 104.2a1.25 1.25 0 1 0 2.5 0a1.25 1.25 0 1 0 -2.5 0M150.30 149.2a1.25 1.25 0 1 0 2.5 0a1.25 1.25 0 1 0 -2.5 0M143.95 153.8a1.25 1.25 0 1 0 2.5 0a1.25 1.25 0 1 0 -2.5 0M141.84 147.9a1.25 1.25 0 1 0 2.5 0a1.25 1.25 0 1 0 -2.5 0M179.91 128.5a1.25 1.25 0 1 0 2.5 0a1.25 1.25 0 1 0 -2.5 0M166.16 167.9a1.25 1.25 0 1 0 2.5 0a1.25 1.25 0 1 0 -2.5 0M131.26 140.7a1.25 1.25 0 1 0 2.5 0a1.25 1.25 0 1 0 -2.5 0M177.79 194.1a1.25 1.25 0 1 0 2.5 0a1.25 1.25 0 1 0 -2.5 0M92.14 117.4a1.25 1.25 0 1 0 2.5 0a1.25 1.25 0 1 0 -2.5 0M136.55 182.3a1.25 1.25 0 1 0 2.5 0a1.25 1.25 0 1 0 -2.5 0M138.67 162.2a1.25 1.25 0 1 0 2.5 0a1.25 1.25 0 1 0 -2.5 0M196.83 143.4a1.25 1.25 0 1 0 2.5 0a1.25 1.25 0 1 0 -2.5 0M128.09 124.3a1.25 1.25 0 1 0 2.5 0a1.25 1.25 0 1 0 -2.5 0M103.77 169.4a1.25 1.25 0 1 0 2.5 0a1.25 1.25 0 1 0 -2.5 0M150.30 171.1a1.25 1.25 0 1 0 2.5 0a1.25 1.25 0 1 0 -2.5 0M215.86 114.5a1.25 1.25 0 1 0 2.5 0a1.25 1.25 0 1 0 -2.5 0M138.67 169.4a1.25 1.25 0 1 0 2.5 0a1.25 1.25 0 1 0 -2.5 0M141.84 174.6a1.25 1.25 0 1 0 2.5 0a1.25 1.25 0 1 0 -2.5 0M138.67 166.1a1.25 1.25 0 1 0 2.5 0a1.25 1.25 0 1 0 -2.5 0M147.13 134.4a1.25 1.25 0 1 0 2.5 0a1.25 1.25 0 1 0 -2.5 0M196.83 135.7a1.25 1.25 0 1 0 2.5 0a1.25 1.25 0 1 0 -2.5 0M160.87 141.8a1.25 1.25 0 1 0 2.5 0a1.25 1.25 0 1 0 -2.5 0M141.84 163.7a1.25 1.25 0 1 0 2.5 0a1.25 1.25 0 1 0 -2.5 0M223.27 143.3a1.25 1.25 0 1 0 2.5 0a1.25 1.25 0 1 0 -2.5 0M147.13 132.3a1.25 1.25 0 1 0 2.5 0a1.25 1.25 0 1 0 -2.5 0M147.13 183.7a1.25 1.25 0 1 0 2.5 0a1.25 1.25 0 1 0 -2.5 0M133.38 168.7a1.25 1.25 0 1 0 2.5 0a1.25 1.25 0 1 0 -2.5 0M133.38 152.7a1.25 1.25 0 1 0 2.5 0a1.25 1.25 0 1 0 -2.5 0M152.41 108.8a1.25 1.25 0 1 0 2.5 0a1.25 1.25 0 1 0 -2.5 0M136.55 160.5a1.25 1.25 0 1 0 2.5 0a1.25 1.25 0 1 0 -2.5 0M160.87 151.5a1.25 1.25 0 1 0 2.5 0a1.25 1.25 0 1 0 -2.5 0M147.13 151.5a1.25 1.25 0 1 0 2.5 0a1.25 1.25 0 1 0 -2.5 0M164.05 143.3a1.25 1.25 0 1 0 2.5 0a1.25 1.25 0 1 0 -2.5 0M133.38 134.5a1.25 1.25 0 1 0 2.5 0a1.25 1.25 0 1 0 -2.5 0M138.67 179.7a1.25 1.25 0 1 0 2.5 0a1.25 1.25 0 1 0 -2.5 0M147.13 131.6a1.25 1.25 0 1 0 2.5 0a1.25 1.25 0 1 0 -2.5 0M147.13 209.2a1.25 1.25 0 1 0 2.5 0a1.25 1.25 0 1 0 -2.5 0M190.48 146.0a1.25 1.25 0 1 0 2.5 0a1.25 1.25 0 1 0 -2.5 0M114.34 139.6a1.25 1.25 0 1 0 2.5 0a1.25 1.25 0 1 0 -2.5 0M92.14 130.1a1.25 1.25 0 1 0 2.5 0a1.25 1.25 0 1 0 -2.5 0M171.45 181.6a1.25 1.25 0 1 0 2.5 0a1.25 1.25 0 1 0 -2.5 0M136.55 143.1a1.25 1.25 0 1 0 2.5 0a1.25 1.25 0 1 0 -2.5 0M198.94 136.2a1.25 1.25 0 1 0 2.5 0a1.25 1.25 0 1 0 -2.5 0M141.84 133.5a1.25 1.25 0 1 0 2.5 0a1.25 1.25 0 1 0 -2.5 0M111.17 116.8a1.25 1.25 0 1 0 2.5 0a1.25 1.25 0 1 0 -2.5 0M157.70 167.0a1.25 1.25 0 1 0 2.5 0a1.25 1.25 0 1 0 -2.5 0M131.26 159.1a1.25 1.25 0 1 0 2.5 0a1.25 1.25 0 1 0 -2.5 0M122.80 152.4a1.25 1.25 0 1 0 2.5 0a1.25 1.25 0 1 0 -2.5 0M166.16 125.7a1.25 1.25 0 1 0 2.5 0a1.25 1.25 0 1 0 -2.5 0M124.92 128.9a1.25 1.25 0 1 0 2.5 0a1.25 1.25 0 1 0 -2.5 0M157.70 150.0a1.25 1.25 0 1 0 2.5 0a1.25 1.25 0 1 0 -2.5 0M190.48 106.7a1.25 1.25 0 1 0 2.5 0a1.25 1.25 0 1 0 -2.5 0M105.88 133.6a1.25 1.25 0 1 0 2.5 0a1.25 1.25 0 1 0 -2.5 0M133.38 182.8a1.25 1.25 0 1 0 2.5 0a1.25 1.25 0 1 0 -2.5 0M160.87 117.9a1.25 1.25 0 1 0 2.5 0a1.25 1.25 0 1 0 -2.5 0M212.69 189.8a1.25 1.25 0 1 0 2.5 0a1.25 1.25 0 1 0 -2.5 0M179.91 187.8a1.25 1.25 0 1 0 2.5 0a1.25 1.25 0 1 0 -2.5 0M131.26 162.9a1.25 1.25 0 1 0 2.5 0a1.25 1.25 0 1 0 -2.5 0M204.23 167.3a1.25 1.25 0 1 0 2.5 0a1.25 1.25 0 1 0 -2.5 0M133.38 154.8a1.25 1.25 0 1 0 2.5 0a1.25 1.25 0 1 0 -2.5 0M138.67 152.0a1.25 1.25 0 1 0 2.5 0a1.25 1.25 0 1 0 -2.5 0M157.70 174.4a1.25 1.25 0 1 0 2.5 0a1.25 1.25 0 1 0 -2.5 0M111.17 170.6a1.25 1.25 0 1 0 2.5 0a1.25 1.25 0 1 0 -2.5 0M190.48 136.2a1.25 1.25 0 1 0 2.5 0a1.25 1.25 0 1 0 -2.5 0M152.41 145.0a1.25 1.25 0 1 0 2.5 0a1.25 1.25 0 1 0 -2.5 0M128.09 157.9a1.25 1.25 0 1 0 2.5 0a1.25 1.25 0 1 0 -2.5 0M111.17 172.8a1.25 1.25 0 1 0 2.5 0a1.25 1.25 0 1 0 -2.5 0M157.70 152.5a1.25 1.25 0 1 0 2.5 0a1.25 1.25 0 1 0 -2.5 0M169.33 180.4a1.25 1.25 0 1 0 2.5 0a1.25 1.25 0 1 0 -2.5 0M131.26 187.1a1.25 1.25 0 1 0 2.5 0a1.25 1.25 0 1 0 -2.5 0M138.67 125.1a1.25 1.25 0 1 0 2.5 0a1.25 1.25 0 1 0 -2.5 0M164.05 134.7a1.25 1.25 0 1 0 2.5 0a1.25 1.25 0 1 0 -2.5 0M141.84 161.6a1.25 1.25 0 1 0 2.5 0a1.25 1.25 0 1 0 -2.5 0M95.31 106.3a1.25 1.25 0 1 0 2.5 0a1.25 1.25 0 1 0 -2.5 0M169.33 156.2a1.25 1.25 0 1 0 2.5 0a1.25 1.25 0 1 0 -2.5 0M152.41 135.1a1.25 1.25 0 1 0 2.5 0a1.25 1.25 0 1 0 -2.5 0M171.45 140.1a1.25 1.25 0 1 0 2.5 0a1.25 1.25 0 1 0 -2.5 0M122.80 147.9a1.25 1.25 0 1 0 2.5 0a1.25 1.25 0 1 0 -2.5 0M90.02 145.2a1.25 1.25 0 1 0 2.5 0a1.25 1.25 0 1 0 -2.5 0M109.06 108.7a1.25 1.25 0 1 0 2.5 0a1.25 1.25 0 1 0 -2.5 0M155.59 127.7a1.25 1.25 0 1 0 2.5 0a1.25 1.25 0 1 0 -2.5 0M155.59 211.7a1.25 1.25 0 1 0 2.5 0a1.25 1.25 0 1 0 -2.5 0M103.77 177.3a1.25 1.25 0 1 0 2.5 0a1.25 1.25 0 1 0 -2.5 0M133.38 139.1a1.25 1.25 0 1 0 2.5 0a1.25 1.25 0 1 0 -2.5 0M160.87 181.6a1.25 1.25 0 1 0 2.5 0a1.25 1.25 0 1 0 -2.5 0M160.87 118.7a1.25 1.25 0 1 0 2.5 0a1.25 1.25 0 1 0 -2.5 0M147.13 161.5a1.25 1.25 0 1 0 2.5 0a1.25 1.25 0 1 0 -2.5 0M196.83 137.5a1.25 1.25 0 1 0 2.5 0a1.25 1.25 0 1 0 -2.5 0M117.52 142.1a1.25 1.25 0 1 0 2.5 0a1.25 1.25 0 1 0 -2.5 0M86.85 126.2a1.25 1.25 0 1 0 2.5 0a1.25 1.25 0 1 0 -2.5 0M117.52 114.4a1.25 1.25 0 1 0 2.5 0a1.25 1.25 0 1 0 -2.5 0M111.17 188.9a1.25 1.25 0 1 0 2.5 0a1.25 1.25 0 1 0 -2.5 0M138.67 145.7a1.25 1.25 0 1 0 2.5 0a1.25 1.25 0 1 0 -2.5 0M103.77 120.9a1.25 1.25 0 1 0 2.5 0a1.25 1.25 0 1 0 -2.5 0M166.16 137.3a1.25 1.25 0 1 0 2.5 0a1.25 1.25 0 1 0 -2.5 0M183.08 160.2a1.25 1.25 0 1 0 2.5 0a1.25 1.25 0 1 0 -2.5 0M147.13 188.2a1.25 1.25 0 1 0 2.5 0a1.25 1.25 0 1 0 -2.5 0M150.30 194.8a1.25 1.25 0 1 0 2.5 0a1.25 1.25 0 1 0 -2.5 0M183.08 177.6a1.25 1.25 0 1 0 2.5 0a1.25 1.25 0 1 0 -2.5 0M164.05 147.3a1.25 1.25 0 1 0 2.5 0a1.25 1.25 0 1 0 -2.5 0M122.80 146.0a1.25 1.25 0 1 0 2.5 0a1.25 1.25 0 1 0 -2.5 0M166.16 113.4a1.25 1.25 0 1 0 2.5 0a1.25 1.25 0 1 0 -2.5 0M179.91 144.8a1.25 1.25 0 1 0 2.5 0a1.25 1.25 0 1 0 -2.5 0M155.59 130.8a1.25 1.25 0 1 0 2.5 0a1.25 1.25 0 1 0 -2.5 0M177.79 190.2a1.25 1.25 0 1 0 2.5 0a1.25 1.25 0 1 0 -2.5 0M166.16 145.6a1.25 1.25 0 1 0 2.5 0a1.25 1.25 0 1 0 -2.5 0M136.55 164.6a1.25 1.25 0 1 0 2.5 0a1.25 1.25 0 1 0 -2.5 0M138.67 167.2a1.25 1.25 0 1 0 2.5 0a1.25 1.25 0 1 0 -2.5 0M166.16 118.8a1.25 1.25 0 1 0 2.5 0a1.25 1.25 0 1 0 -2.5 0M128.09 151.0a1.25 1.25 0 1 0 2.5 0a1.25 1.25 0 1 0 -2.5 0M188.37 155.4a1.25 1.25 0 1 0 2.5 0a1.25 1.25 0 1 0 -2.5 0M190.48 153.2a1.25 1.25 0 1 0 2.5 0a1.25 1.25 0 1 0 -2.5 0M90.02 184.6a1.25 1.25 0 1 0 2.5 0a1.25 1.25 0 1 0 -2.5 0M141.84 195.2a1.25 1.25 0 1 0 2.5 0a1.25 1.25 0 1 0 -2.5 0M122.80 99.1a1.25 1.25 0 1 0 2.5 0a1.25 1.25 0 1 0 -2.5 0M124.92 149.0a1.25 1.25 0 1 0 2.5 0a1.25 1.25 0 1 0 -2.5 0M150.30 152.1a1.25 1.25 0 1 0 2.5 0a1.25 1.25 0 1 0 -2.5 0M138.67 145.3a1.25 1.25 0 1 0 2.5 0a1.25 1.25 0 1 0 -2.5 0M164.05 164.6a1.25 1.25 0 1 0 2.5 0a1.25 1.25 0 1 0 -2.5 0M155.59 159.7a1.25 1.25 0 1 0 2.5 0a1.25 1.25 0 1 0 -2.5 0M157.70 175.5a1.25 1.25 0 1 0 2.5 0a1.25 1.25 0 1 0 -2.5 0M119.63 141.2a1.25 1.25 0 1 0 2.5 0a1.25 1.25 0 1 0 -2.5 0M133.38 155.3a1.25 1.25 0 1 0 2.5 0a1.25 1.25 0 1 0 -2.5 0M202.12 125.9a1.25 1.25 0 1 0 2.5 0a1.25 1.25 0 1 0 -2.5 0M215.86 183.1a1.25 1.25 0 1 0 2.5 0a1.25 1.25 0 1 0 -2.5 0M128.09 132.5a1.25 1.25 0 1 0 2.5 0a1.25 1.25 0 1 0 -2.5 0M190.48 164.6a1.25 1.25 0 1 0 2.5 0a1.25 1.25 0 1 0 -2.5 0M131.26 145.4a1.25 1.25 0 1 0 2.5 0a1.25 1.25 0 1 0 -2.5 0M174.62 126.4a1.25 1.25 0 1 0 2.5 0a1.25 1.25 0 1 0 -2.5 0M150.30 165.1a1.25 1.25 0 1 0 2.5 0a1.25 1.25 0 1 0 -2.5 0M183.08 119.1a1.25 1.25 0 1 0 2.5 0a1.25 1.25 0 1 0 -2.5 0M117.52 170.0a1.25 1.25 0 1 0 2.5 0a1.25 1.25 0 1 0 -2.5 0M128.09 184.4a1.25 1.25 0 1 0 2.5 0a1.25 1.25 0 1 0 -2.5 0M164.05 154.0a1.25 1.25 0 1 0 2.5 0a1.25 1.25 0 1 0 -2.5 0M160.87 163.5a1.25 1.25 0 1 0 2.5 0a1.25 1.25 0 1 0 -2.5 0M141.84 147.0a1.25 1.25 0 1 0 2.5 0a1.25 1.25 0 1 0 -2.5 0M136.55 176.3a1.25 1.25 0 1 0 2.5 0a1.25 1.25 0 1 0 -2.5 0M136.55 152.4a1.25 1.25 0 1 0 2.5 0a1.25 1.25 0 1 0 -2.5 0M147.13 153.1a1.25 1.25 0 1 0 2.5 0a1.25 1.25 0 1 0 -2.5 0M117.52 180.1a1.25 1.25 0 1 0 2.5 0a1.25 1.25 0 1 0 -2.5 0M141.84 100.1a1.25 1.25 0 1 0 2.5 0a1.25 1.25 0 1 0 -2.5 0M128.09 143.5a1.25 1.25 0 1 0 2.5 0a1.25 1.25 0 1 0 -2.5 0M124.92 136.0a1.25 1.25 0 1 0 2.5 0a1.25 1.25 0 1 0 -2.5 0M204.23 136.1a1.25 1.25 0 1 0 2.5 0a1.25 1.25 0 1 0 -2.5 0M124.92 131.1a1.25 1.25 0 1 0 2.5 0a1.25 1.25 0 1 0 -2.5 0M157.70 173.6a1.25 1.25 0 1 0 2.5 0a1.25 1.25 0 1 0 -2.5 0M198.94 145.8a1.25 1.25 0 1 0 2.5 0a1.25 1.25 0 1 0 -2.5 0M171.45 103.9a1.25 1.25 0 1 0 2.5 0a1.25 1.25 0 1 0 -2.5 0M143.95 155.9a1.25 1.25 0 1 0 2.5 0a1.25 1.25 0 1 0 -2.5 0M183.08 159.7a1.25 1.25 0 1 0 2.5 0a1.25 1.25 0 1 0 -2.5 0M103.77 173.5a1.25 1.25 0 1 0 2.5 0a1.25 1.25 0 1 0 -2.5 0M109.06 160.6a1.25 1.25 0 1 0 2.5 0a1.25 1.25 0 1 0 -2.5 0M131.26 209.2a1.25 1.25 0 1 0 2.5 0a1.25 1.25 0 1 0 -2.5 0M136.55 151.8a1.25 1.25 0 1 0 2.5 0a1.25 1.25 0 1 0 -2.5 0M141.84 121.8a1.25 1.25 0 1 0 2.5 0a1.25 1.25 0 1 0 -2.5 0M223.27 145.0a1.25 1.25 0 1 0 2.5 0a1.25 1.25 0 1 0 -2.5 0M212.69 148.9a1.25 1.25 0 1 0 2.5 0a1.25 1.25 0 1 0 -2.5 0M143.95 149.2a1.25 1.25 0 1 0 2.5 0a1.25 1.25 0 1 0 -2.5 0M152.41 149.5a1.25 1.25 0 1 0 2.5 0a1.25 1.25 0 1 0 -2.5 0M117.52 177.7a1.25 1.25 0 1 0 2.5 0a1.25 1.25 0 1 0 -2.5 0M155.59 202.2a1.25 1.25 0 1 0 2.5 0a1.25 1.25 0 1 0 -2.5 0M105.88 98.4a1.25 1.25 0 1 0 2.5 0a1.25 1.25 0 1 0 -2.5 0M198.94 139.0a1.25 1.25 0 1 0 2.5 0a1.25 1.25 0 1 0 -2.5 0M128.09 209.0a1.25 1.25 0 1 0 2.5 0a1.25 1.25 0 1 0 -2.5 0M164.05 107.9a1.25 1.25 0 1 0 2.5 0a1.25 1.25 0 1 0 -2.5 0M105.88 159.7a1.25 1.25 0 1 0 2.5 0a1.25 1.25 0 1 0 -2.5 0M198.94 126.4a1.25 1.25 0 1 0 2.5 0a1.25 1.25 0 1 0 -2.5 0M166.16 154.7a1.25 1.25 0 1 0 2.5 0a1.25 1.25 0 1 0 -2.5 0M226.44 171.1a1.25 1.25 0 1 0 2.5 0a1.25 1.25 0 1 0 -2.5 0M147.13 128.0a1.25 1.25 0 1 0 2.5 0a1.25 1.25 0 1 0 -2.5 0M100.60 157.4a1.25 1.25 0 1 0 2.5 0a1.25 1.25 0 1 0 -2.5 0M109.06 133.5a1.25 1.25 0 1 0 2.5 0a1.25 1.25 0 1 0 -2.5 0M207.40 155.4a1.25 1.25 0 1 0 2.5 0a1.25 1.25 0 1 0 -2.5 0M124.92 151.6a1.25 1.25 0 1 0 2.5 0a1.25 1.25 0 1 0 -2.5 0M122.80 158.3a1.25 1.25 0 1 0 2.5 0a1.25 1.25 0 1 0 -2.5 0M166.16 140.2a1.25 1.25 0 1 0 2.5 0a1.25 1.25 0 1 0 -2.5 0M152.41 110.2a1.25 1.25 0 1 0 2.5 0a1.25 1.25 0 1 0 -2.5 0M160.87 124.1a1.25 1.25 0 1 0 2.5 0a1.25 1.25 0 1 0 -2.5 0M128.09 141.5a1.25 1.25 0 1 0 2.5 0a1.25 1.25 0 1 0 -2.5 0M92.14 144.8a1.25 1.25 0 1 0 2.5 0a1.25 1.25 0 1 0 -2.5 0M105.88 168.5a1.25 1.25 0 1 0 2.5 0a1.25 1.25 0 1 0 -2.5 0M86.85 98.6a1.25 1.25 0 1 0 2.5 0a1.25 1.25 0 1 0 -2.5 0M193.66 205.2a1.25 1.25 0 1 0 2.5 0a1.25 1.25 0 1 0 -2.5 0M177.79 179.0a1.25 1.25 0 1 0 2.5 0a1.25 1.25 0 1 0 -2.5 0M133.38 154.6a1.25 1.25 0 1 0 2.5 0a1.25 1.25 0 1 0 -2.5 0M166.16 147.8a1.25 1.25 0 1 0 2.5 0a1.25 1.25 0 1 0 -2.5 0M169.33 144.2a1.25 1.25 0 1 0 2.5 0a1.25 1.25 0 1 0 -2.5 0M166.16 162.5a1.25 1.25 0 1 0 2.5 0a1.25 1.25 0 1 0 -2.5 0M164.05 99.8a1.25 1.25 0 1 0 2.5 0a1.25 1.25 0 1 0 -2.5 0M177.79 118.1a1.25 1.25 0 1 0 2.5 0a1.25 1.25 0 1 0 -2.5 0M147.13 201.6a1.25 1.25 0 1 0 2.5 0a1.25 1.25 0 1 0 -2.5 0M86.85 172.8a1.25 1.25 0 1 0 2.5 0a1.25 1.25 0 1 0 -2.5 0M193.66 113.7a1.25 1.25 0 1 0 2.5 0a1.25 1.25 0 1 0 -2.5 0M166.16 163.3a1.25 1.25 0 1 0 2.5 0a1.25 1.25 0 1 0 -2.5 0M150.30 158.7a1.25 1.25 0 1 0 2.5 0a1.25 1.25 0 1 0 -2.5 0M117.52 184.5a1.25 1.25 0 1 0 2.5 0a1.25 1.25 0 1 0 -2.5 0M128.09 148.4a1.25 1.25 0 1 0 2.5 0a1.25 1.25 0 1 0 -2.5 0M171.45 182.7a1.25 1.25 0 1 0 2.5 0a1.25 1.25 0 1 0 -2.5 0M141.84 144.0a1.25 1.25 0 1 0 2.5 0a1.25 1.25 0 1 0 -2.5 0M174.62 143.1a1.25 1.25 0 1 0 2.5 0a1.25 1.25 0 1 0 -2.5 0M185.20 171.5a1.25 1.25 0 1 0 2.5 0a1.25 1.25 0 1 0 -2.5 0M193.66 138.9a1.25 1.25 0 1 0 2.5 0a1.25 1.25 0 1 0 -2.5 0M212.69 170.7a1.25 1.25 0 1 0 2.5 0a1.25 1.25 0 1 0 -2.5 0M155.59 132.8a1.25 1.25 0 1 0 2.5 0a1.25 1.25 0 1 0 -2.5 0M152.41 154.3a1.25 1.25 0 1 0 2.5 0a1.25 1.25 0 1 0 -2.5 0M124.92 161.3a1.25 1.25 0 1 0 2.5 0a1.25 1.25 0 1 0 -2.5 0M164.05 112.5a1.25 1.25 0 1 0 2.5 0a1.25 1.25 0 1 0 -2.5 0M136.55 122.9a1.25 1.25 0 1 0 2.5 0a1.25 1.25 0 1 0 -2.5 0M109.06 156.4a1.25 1.25 0 1 0 2.5 0a1.25 1.25 0 1 0 -2.5 0M171.45 144.1a1.25 1.25 0 1 0 2.5 0a1.25 1.25 0 1 0 -2.5 0M95.31 136.6a1.25 1.25 0 1 0 2.5 0a1.25 1.25 0 1 0 -2.5 0M136.55 150.1a1.25 1.25 0 1 0 2.5 0a1.25 1.25 0 1 0 -2.5 0M105.88 156.4a1.25 1.25 0 1 0 2.5 0a1.25 1.25 0 1 0 -2.5 0M193.66 162.2a1.25 1.25 0 1 0 2.5 0a1.25 1.25 0 1 0 -2.5 0M150.30 112.9a1.25 1.25 0 1 0 2.5 0a1.25 1.25 0 1 0 -2.5 0M166.16 111.0a1.25 1.25 0 1 0 2.5 0a1.25 1.25 0 1 0 -2.5 0M179.91 116.8a1.25 1.25 0 1 0 2.5 0a1.25 1.25 0 1 0 -2.5 0M198.94 184.1a1.25 1.25 0 1 0 2.5 0a1.25 1.25 0 1 0 -2.5 0M136.55 161.0a1.25 1.25 0 1 0 2.5 0a1.25 1.25 0 1 0 -2.5 0M166.16 147.6a1.25 1.25 0 1 0 2.5 0a1.25 1.25 0 1 0 -2.5 0M152.41 204.8a1.25 1.25 0 1 0 2.5 0a1.25 1.25 0 1 0 -2.5 0M174.62 124.1a1.25 1.25 0 1 0 2.5 0a1.25 1.25 0 1 0 -2.5 0M166.16 182.7a1.25 1.25 0 1 0 2.5 0a1.25 1.25 0 1 0 -2.5 0M202.12 127.2a1.25 1.25 0 1 0 2.5 0a1.25 1.25 0 1 0 -2.5 0M164.05 168.1a1.25 1.25 0 1 0 2.5 0a1.25 1.25 0 1 0 -2.5 0M131.26 140.6a1.25 1.25 0 1 0 2.5 0a1.25 1.25 0 1 0 -2.5 0M150.30 200.0a1.25 1.25 0 1 0 2.5 0a1.25 1.25 0 1 0 -2.5 0M155.59 174.1a1.25 1.25 0 1 0 2.5 0a1.25 1.25 0 1 0 -2.5 0M207.40 193.2a1.25 1.25 0 1 0 2.5 0a1.25 1.25 0 1 0 -2.5 0M124.92 188.6a1.25 1.25 0 1 0 2.5 0a1.25 1.25 0 1 0 -2.5 0M98.48 164.1a1.25 1.25 0 1 0 2.5 0a1.25 1.25 0 1 0 -2.5 0M141.84 146.2a1.25 1.25 0 1 0 2.5 0a1.25 1.25 0 1 0 -2.5 0M128.09 131.2a1.25 1.25 0 1 0 2.5 0a1.25 1.25 0 1 0 -2.5 0M143.95 179.9a1.25 1.25 0 1 0 2.5 0a1.25 1.25 0 1 0 -2.5 0M124.92 194.3a1.25 1.25 0 1 0 2.5 0a1.25 1.25 0 1 0 -2.5 0M147.13 158.0a1.25 1.25 0 1 0 2.5 0a1.25 1.25 0 1 0 -2.5 0M114.34 183.2a1.25 1.25 0 1 0 2.5 0a1.25 1.25 0 1 0 -2.5 0M207.40 191.3a1.25 1.25 0 1 0 2.5 0a1.25 1.25 0 1 0 -2.5 0M136.55 167.9a1.25 1.25 0 1 0 2.5 0a1.25 1.25 0 1 0 -2.5 0M164.05 126.2a1.25 1.25 0 1 0 2.5 0a1.25 1.25 0 1 0 -2.5 0M174.62 149.5a1.25 1.25 0 1 0 2.5 0a1.25 1.25 0 1 0 -2.5 0M160.87 103.1a1.25 1.25 0 1 0 2.5 0a1.25 1.25 0 1 0 -2.5 0M136.55 192.3a1.25 1.25 0 1 0 2.5 0a1.25 1.25 0 1 0 -2.5 0M131.26 151.3a1.25 1.25 0 1 0 2.5 0a1.25 1.25 0 1 0 -2.5 0M138.67 177.8a1.25 1.25 0 1 0 2.5 0a1.25 1.25 0 1 0 -2.5 0M164.05 130.4a1.25 1.25 0 1 0 2.5 0a1.25 1.25 0 1 0 -2.5 0M109.06 142.7a1.25 1.25 0 1 0 2.5 0a1.25 1.25 0 1 0 -2.5 0M117.52 121.8a1.25 1.25 0 1 0 2.5 0a1.25 1.25 0 1 0 -2.5 0M119.63 148.2a1.25 1.25 0 1 0 2.5 0a1.25 1.25 0 1 0 -2.5 0M128.09 159.1a1.25 1.25 0 1 0 2.5 0a1.25 1.25 0 1 0 -2.5 0M190.48 124.2a1.25 1.25 0 1 0 2.5 0a1.25 1.25 0 1 0 -2.5 0M143.95 208.3a1.25 1.25 0 1 0 2.5 0a1.25 1.25 0 1 0 -2.5 0M136.55 190.6a1.25 1.25 0 1 0 2.5 0a1.25 1.25 0 1 0 -2.5 0M150.30 195.9a1.25 1.25 0 1 0 2.5 0a1.25 1.25 0 1 0 -2.5 0M185.20 162.2a1.25 1.25 0 1 0 2.5 0a1.25 1.25 0 1 0 -2.5 0M122.80 168.2a1.25 1.25 0 1 0 2.5 0a1.25 1.25 0 1 0 -2.5 0M185.20 180.8a1.25 1.25 0 1 0 2.5 0a1.25 1.25 0 1 0 -2.5 0M84.73 132.2a1.25 1.25 0 1 0 2.5 0a1.25 1.25 0 1 0 -2.5 0M117.52 139.8a1.25 1.25 0 1 0 2.5 0a1.25 1.25 0 1 0 -2.5 0M204.23 171.1a1.25 1.25 0 1 0 2.5 0a1.25 1.25 0 1 0 -2.5 0M210.58 196.9a1.25 1.25 0 1 0 2.5 0a1.25 1.25 0 1 0 -2.5 0M152.41 97.0a1.25 1.25 0 1 0 2.5 0a1.25 1.25 0 1 0 -2.5 0M131.26 145.7a1.25 1.25 0 1 0 2.5 0a1.25 1.25 0 1 0 -2.5 0M177.79 172.4a1.25 1.25 0 1 0 2.5 0a1.25 1.25 0 1 0 -2.5 0M133.38 150.1a1.25 1.25 0 1 0 2.5 0a1.25 1.25 0 1 0 -2.5 0M210.58 147.7a1.25 1.25 0 1 0 2.5 0a1.25 1.25 0 1 0 -2.5 0M190.48 174.1a1.25 1.25 0 1 0 2.5 0a1.25 1.25 0 1 0 -2.5 0M174.62 135.1a1.25 1.25 0 1 0 2.5 0a1.25 1.25 0 1 0 -2.5 0M119.63 149.4a1.25 1.25 0 1 0 2.5 0a1.25 1.25 0 1 0 -2.5 0M183.08 168.9a1.25 1.25 0 1 0 2.5 0a1.25 1.25 0 1 0 -2.5 0M138.67 122.7a1.25 1.25 0 1 0 2.5 0a1.25 1.25 0 1 0 -2.5 0M138.67 165.5a1.25 1.25 0 1 0 2.5 0a1.25 1.25 0 1 0 -2.5 0M133.38 117.6a1.25 1.25 0 1 0 2.5 0a1.25 1.25 0 1 0 -2.5 0M141.84 149.5a1.25 1.25 0 1 0 2.5 0a1.25 1.25 0 1 0 -2.5 0M164.05 161.1a1.25 1.25 0 1 0 2.5 0a1.25 1.25 0 1 0 -2.5 0M177.79 122.3a1.25 1.25 0 1 0 2.5 0a1.25 1.25 0 1 0 -2.5 0M177.79 164.7a1.25 1.25 0 1 0 2.5 0a1.25 1.25 0 1 0 -2.5 0M136.55 137.6a1.25 1.25 0 1 0 2.5 0a1.25 1.25 0 1 0 -2.5 0M190.48 117.9a1.25 1.25 0 1 0 2.5 0a1.25 1.25 0 1 0 -2.5 0M124.92 162.1a1.25 1.25 0 1 0 2.5 0a1.25 1.25 0 1 0 -2.5 0M138.67 169.2a1.25 1.25 0 1 0 2.5 0a1.25 1.25 0 1 0 -2.5 0M111.17 130.0a1.25 1.25 0 1 0 2.5 0a1.25 1.25 0 1 0 -2.5 0M193.66 127.6a1.25 1.25 0 1 0 2.5 0a1.25 1.25 0 1 0 -2.5 0M150.30 138.9a1.25 1.25 0 1 0 2.5 0a1.25 1.25 0 1 0 -2.5 0M141.84 121.5a1.25 1.25 0 1 0 2.5 0a1.25 1.25 0 1 0 -2.5 0M183.08 169.2a1.25 1.25 0 1 0 2.5 0a1.25 1.25 0 1 0 -2.5 0M131.26 124.4a1.25 1.25 0 1 0 2.5 0a1.25 1.25 0 1 0 -2.5 0M160.87 162.0a1.25 1.25 0 1 0 2.5 0a1.25 1.25 0 1 0 -2.5 0M141.84 170.1a1.25 1.25 0 1 0 2.5 0a1.25 1.25 0 1 0 -2.5 0M128.09 160.2a1.25 1.25 0 1 0 2.5 0a1.25 1.25 0 1 0 -2.5 0M117.52 130.7a1.25 1.25 0 1 0 2.5 0a1.25 1.25 0 1 0 -2.5 0M177.79 163.8a1.25 1.25 0 1 0 2.5 0a1.25 1.25 0 1 0 -2.5 0M150.30 167.7a1.25 1.25 0 1 0 2.5 0a1.25 1.25 0 1 0 -2.5 0M122.80 150.3a1.25 1.25 0 1 0 2.5 0a1.25 1.25 0 1 0 -2.5 0M122.80 129.2a1.25 1.25 0 1 0 2.5 0a1.25 1.25 0 1 0 -2.5 0M147.13 208.4a1.25 1.25 0 1 0 2.5 0a1.25 1.25 0 1 0 -2.5 0M117.52 120.9a1.25 1.25 0 1 0 2.5 0a1.25 1.25 0 1 0 -2.5 0M141.84 181.2a1.25 1.25 0 1 0 2.5 0a1.25 1.25 0 1 0 -2.5 0M141.84 154.6a1.25 1.25 0 1 0 2.5 0a1.25 1.25 0 1 0 -2.5 0M143.95 140.4a1.25 1.25 0 1 0 2.5 0a1.25 1.25 0 1 0 -2.5 0M98.48 147.1a1.25 1.25 0 1 0 2.5 0a1.25 1.25 0 1 0 -2.5 0M105.88 99.1a1.25 1.25 0 1 0 2.5 0a1.25 1.25 0 1 0 -2.5 0M136.55 148.5a1.25 1.25 0 1 0 2.5 0a1.25 1.25 0 1 0 -2.5 0M147.13 168.2a1.25 1.25 0 1 0 2.5 0a1.25 1.25 0 1 0 -2.5 0M111.17 161.9a1.25 1.25 0 1 0 2.5 0a1.25 1.25 0 1 0 -2.5 0M217.98 146.2a1.25 1.25 0 1 0 2.5 0a1.25 1.25 0 1 0 -2.5 0M164.05 174.2a1.25 1.25 0 1 0 2.5 0a1.25 1.25 0 1 0 -2.5 0M198.94 171.4a1.25 1.25 0 1 0 2.5 0a1.25 1.25 0 1 0 -2.5 0M193.66 169.1a1.25 1.25 0 1 0 2.5 0a1.25 1.25 0 1 0 -2.5 0M138.67 106.3a1.25 1.25 0 1 0 2.5 0a1.25 1.25 0 1 0 -2.5 0M152.41 135.6a1.25 1.25 0 1 0 2.5 0a1.25 1.25 0 1 0 -2.5 0M95.31 181.6a1.25 1.25 0 1 0 2.5 0a1.25 1.25 0 1 0 -2.5 0M86.85 135.2a1.25 1.25 0 1 0 2.5 0a1.25 1.25 0 1 0 -2.5 0M179.91 153.8a1.25 1.25 0 1 0 2.5 0a1.25 1.25 0 1 0 -2.5 0M150.30 135.6a1.25 1.25 0 1 0 2.5 0a1.25 1.25 0 1 0 -2.5 0M221.15 145.3a1.25 1.25 0 1 0 2.5 0a1.25 1.25 0 1 0 -2.5 0M136.55 136.6a1.25 1.25 0 1 0 2.5 0a1.25 1.25 0 1 0 -2.5 0M169.33 147.0a1.25 1.25 0 1 0 2.5 0a1.25 1.25 0 1 0 -2.5 0M174.62 171.3a1.25 1.25 0 1 0 2.5 0a1.25 1.25 0 1 0 -2.5 0M117.52 155.8a1.25 1.25 0 1 0 2.5 0a1.25 1.25 0 1 0 -2.5 0M157.70 158.8a1.25 1.25 0 1 0 2.5 0a1.25 1.25 0 1 0 -2.5 0M160.87 192.4a1.25 1.25 0 1 0 2.5 0a1.25 1.25 0 1 0 -2.5 0M190.48 151.3a1.25 1.25 0 1 0 2.5 0a1.25 1.25 0 1 0 -2.5 0M196.83 180.2a1.25 1.25 0 1 0 2.5 0a1.25 1.25 0 1 0 -2.5 0M185.20 135.1a1.25 1.25 0 1 0 2.5 0a1.25 1.25 0 1 0 -2.5 0M174.62 93.5a1.25 1.25 0 1 0 2.5 0a1.25 1.25 0 1 0 -2.5 0M147.13 161.6a1.25 1.25 0 1 0 2.5 0a1.25 1.25 0 1 0 -2.5 0M174.62 163.5a1.25 1.25 0 1 0 2.5 0a1.25 1.25 0 1 0 -2.5 0M177.79 133.8a1.25 1.25 0 1 0 2.5 0a1.25 1.25 0 1 0 -2.5 0M193.66 176.7a1.25 1.25 0 1 0 2.5 0a1.25 1.25 0 1 0 -2.5 0M150.30 132.9a1.25 1.25 0 1 0 2.5 0a1.25 1.25 0 1 0 -2.5 0M164.05 166.3a1.25 1.25 0 1 0 2.5 0a1.25 1.25 0 1 0 -2.5 0M152.41 141.5a1.25 1.25 0 1 0 2.5 0a1.25 1.25 0 1 0 -2.5 0M150.30 161.1a1.25 1.25 0 1 0 2.5 0a1.25 1.25 0 1 0 -2.5 0M128.09 105.9a1.25 1.25 0 1 0 2.5 0a1.25 1.25 0 1 0 -2.5 0M136.55 117.9a1.25 1.25 0 1 0 2.5 0a1.25 1.25 0 1 0 -2.5 0M114.34 125.9a1.25 1.25 0 1 0 2.5 0a1.25 1.25 0 1 0 -2.5 0M141.84 183.6a1.25 1.25 0 1 0 2.5 0a1.25 1.25 0 1 0 -2.5 0M171.45 117.5a1.25 1.25 0 1 0 2.5 0a1.25 1.25 0 1 0 -2.5 0M169.33 161.8a1.25 1.25 0 1 0 2.5 0a1.25 1.25 0 1 0 -2.5 0M174.62 187.7a1.25 1.25 0 1 0 2.5 0a1.25 1.25 0 1 0 -2.5 0M143.95 141.0a1.25 1.25 0 1 0 2.5 0a1.25 1.25 0 1 0 -2.5 0M202.12 122.9a1.25 1.25 0 1 0 2.5 0a1.25 1.25 0 1 0 -2.5 0M131.26 189.6a1.25 1.25 0 1 0 2.5 0a1.25 1.25 0 1 0 -2.5 0M174.62 129.3a1.25 1.25 0 1 0 2.5 0a1.25 1.25 0 1 0 -2.5 0M160.87 156.3a1.25 1.25 0 1 0 2.5 0a1.25 1.25 0 1 0 -2.5 0M122.80 153.5a1.25 1.25 0 1 0 2.5 0a1.25 1.25 0 1 0 -2.5 0M124.92 134.6a1.25 1.25 0 1 0 2.5 0a1.25 1.25 0 1 0 -2.5 0M174.62 159.6a1.25 1.25 0 1 0 2.5 0a1.25 1.25 0 1 0 -2.5 0M147.13 167.7a1.25 1.25 0 1 0 2.5 0a1.25 1.25 0 1 0 -2.5 0M155.59 119.9a1.25 1.25 0 1 0 2.5 0a1.25 1.25 0 1 0 -2.5 0M150.30 122.0a1.25 1.25 0 1 0 2.5 0a1.25 1.25 0 1 0 -2.5 0M174.62 185.6a1.25 1.25 0 1 0 2.5 0a1.25 1.25 0 1 0 -2.5 0M128.09 115.0a1.25 1.25 0 1 0 2.5 0a1.25 1.25 0 1 0 -2.5 0M141.84 181.4a1.25 1.25 0 1 0 2.5 0a1.25 1.25 0 1 0 -2.5 0M164.05 112.3a1.25 1.25 0 1 0 2.5 0a1.25 1.25 0 1 0 -2.5 0M122.80 195.1a1.25 1.25 0 1 0 2.5 0a1.25 1.25 0 1 0 -2.5 0M147.13 100.0a1.25 1.25 0 1 0 2.5 0a1.25 1.25 0 1 0 -2.5 0M141.84 144.6a1.25 1.25 0 1 0 2.5 0a1.25 1.25 0 1 0 -2.5 0M150.30 154.7a1.25 1.25 0 1 0 2.5 0a1.25 1.25 0 1 0 -2.5 0M98.48 154.5a1.25 1.25 0 1 0 2.5 0a1.25 1.25 0 1 0 -2.5 0M221.15 123.4a1.25 1.25 0 1 0 2.5 0a1.25 1.25 0 1 0 -2.5 0M143.95 153.4a1.25 1.25 0 1 0 2.5 0a1.25 1.25 0 1 0 -2.5 0M166.16 132.6a1.25 1.25 0 1 0 2.5 0a1.25 1.25 0 1 0 -2.5 0M117.52 142.8a1.25 1.25 0 1 0 2.5 0a1.25 1.25 0 1 0 -2.5 0M109.06 176.5a1.25 1.25 0 1 0 2.5 0a1.25 1.25 0 1 0 -2.5 0M147.13 102.4a1.25 1.25 0 1 0 2.5 0a1.25 1.25 0 1 0 -2.5 0M136.55 152.5a1.25 1.25 0 1 0 2.5 0a1.25 1.25 0 1 0 -2.5 0M171.45 141.4a1.25 1.25 0 1 0 2.5 0a1.25 1.25 0 1 0 -2.5 0M119.63 139.9a1.25 1.25 0 1 0 2.5 0a1.25 1.25 0 1 0 -2.5 0M117.52 146.3a1.25 1.25 0 1 0 2.5 0a1.25 1.25 0 1 0 -2.5 0M157.70 102.4a1.25 1.25 0 1 0 2.5 0a1.25 1.25 0 1 0 -2.5 0M171.45 138.9a1.25 1.25 0 1 0 2.5 0a1.25 1.25 0 1 0 -2.5 0M183.08 157.3a1.25 1.25 0 1 0 2.5 0a1.25 1.25 0 1 0 -2.5 0M147.13 146.4a1.25 1.25 0 1 0 2.5 0a1.25 1.25 0 1 0 -2.5 0M155.59 157.5a1.25 1.25 0 1 0 2.5 0a1.25 1.25 0 1 0 -2.5 0M122.80 177.8a1.25 1.25 0 1 0 2.5 0a1.25 1.25 0 1 0 -2.5 0M198.94 120.0a1.25 1.25 0 1 0 2.5 0a1.25 1.25 0 1 0 -2.5 0M190.48 176.8a1.25 1.25 0 1 0 2.5 0a1.25 1.25 0 1 0 -2.5 0M190.48 116.7a1.25 1.25 0 1 0 2.5 0a1.25 1.25 0 1 0 -2.5 0M100.60 143.3a1.25 1.25 0 1 0 2.5 0a1.25 1.25 0 1 0 -2.5 0M179.91 127.3a1.25 1.25 0 1 0 2.5 0a1.25 1.25 0 1 0 -2.5 0M124.92 148.0a1.25 1.25 0 1 0 2.5 0a1.25 1.25 0 1 0 -2.5 0M164.05 157.5a1.25 1.25 0 1 0 2.5 0a1.25 1.25 0 1 0 -2.5 0M193.66 160.6a1.25 1.25 0 1 0 2.5 0a1.25 1.25 0 1 0 -2.5 0M141.84 173.8a1.25 1.25 0 1 0 2.5 0a1.25 1.25 0 1 0 -2.5 0M136.55 136.2a1.25 1.25 0 1 0 2.5 0a1.25 1.25 0 1 0 -2.5 0M117.52 108.8a1.25 1.25 0 1 0 2.5 0a1.25 1.25 0 1 0 -2.5 0M111.17 181.5a1.25 1.25 0 1 0 2.5 0a1.25 1.25 0 1 0 -2.5 0M169.33 164.1a1.25 1.25 0 1 0 2.5 0a1.25 1.25 0 1 0 -2.5 0M119.63 123.6a1.25 1.25 0 1 0 2.5 0a1.25 1.25 0 1 0 -2.5 0M171.45 123.9a1.25 1.25 0 1 0 2.5 0a1.25 1.25 0 1 0 -2.5 0M133.38 132.3a1.25 1.25 0 1 0 2.5 0a1.25 1.25 0 1 0 -2.5 0M128.09 159.0a1.25 1.25 0 1 0 2.5 0a1.25 1.25 0 1 0 -2.5 0M183.08 143.9a1.25 1.25 0 1 0 2.5 0a1.25 1.25 0 1 0 -2.5 0M179.91 168.6a1.25 1.25 0 1 0 2.5 0a1.25 1.25 0 1 0 -2.5 0M117.52 134.4a1.25 1.25 0 1 0 2.5 0a1.25 1.25 0 1 0 -2.5 0M141.84 148.0a1.25 1.25 0 1 0 2.5 0a1.25 1.25 0 1 0 -2.5 0M147.13 140.7a1.25 1.25 0 1 0 2.5 0a1.25 1.25 0 1 0 -2.5 0M171.45 155.2a1.25 1.25 0 1 0 2.5 0a1.25 1.25 0 1 0 -2.5 0M122.80 128.0a1.25 1.25 0 1 0 2.5 0a1.25 1.25 0 1 0 -2.5 0M133.38 146.4a1.25 1.25 0 1 0 2.5 0a1.25 1.25 0 1 0 -2.5 0M141.84 168.6a1.25 1.25 0 1 0 2.5 0a1.25 1.25 0 1 0 -2.5 0M171.45 111.0a1.25 1.25 0 1 0 2.5 0a1.25 1.25 0 1 0 -2.5 0M179.91 143.5a1.25 1.25 0 1 0 2.5 0a1.25 1.25 0 1 0 -2.5 0M128.09 155.2a1.25 1.25 0 1 0 2.5 0a1.25 1.25 0 1 0 -2.5 0M221.15 155.9a1.25 1.25 0 1 0 2.5 0a1.25 1.25 0 1 0 -2.5 0M160.87 108.8a1.25 1.25 0 1 0 2.5 0a1.25 1.25 0 1 0 -2.5 0M122.80 145.2a1.25 1.25 0 1 0 2.5 0a1.25 1.25 0 1 0 -2.5 0M103.77 138.2a1.25 1.25 0 1 0 2.5 0a1.25 1.25 0 1 0 -2.5 0M131.26 170.2a1.25 1.25 0 1 0 2.5 0a1.25 1.25 0 1 0 -2.5 0M84.73 154.4a1.25 1.25 0 1 0 2.5 0a1.25 1.25 0 1 0 -2.5 0M152.41 165.2a1.25 1.25 0 1 0 2.5 0a1.25 1.25 0 1 0 -2.5 0M166.16 173.1a1.25 1.25 0 1 0 2.5 0a1.25 1.25 0 1 0 -2.5 0M196.83 180.0a1.25 1.25 0 1 0 2.5 0a1.25 1.25 0 1 0 -2.5 0M164.05 159.6a1.25 1.25 0 1 0 2.5 0a1.25 1.25 0 1 0 -2.5 0M98.48 182.0a1.25 1.25 0 1 0 2.5 0a1.25 1.25 0 1 0 -2.5 0M136.55 132.6a1.25 1.25 0 1 0 2.5 0a1.25 1.25 0 1 0 -2.5 0M171.45 130.4a1.25 1.25 0 1 0 2.5 0a1.25 1.25 0 1 0 -2.5 0M90.02 171.1a1.25 1.25 0 1 0 2.5 0a1.25 1.25 0 1 0 -2.5 0M119.63 138.3a1.25 1.25 0 1 0 2.5 0a1.25 1.25 0 1 0 -2.5 0M169.33 171.0a1.25 1.25 0 1 0 2.5 0a1.25 1.25 0 1 0 -2.5 0M147.13 142.7a1.25 1.25 0 1 0 2.5 0a1.25 1.25 0 1 0 -2.5 0M92.14 136.3a1.25 1.25 0 1 0 2.5 0a1.25 1.25 0 1 0 -2.5 0M131.26 196.1a1.25 1.25 0 1 0 2.5 0a1.25 1.25 0 1 0 -2.5 0M131.26 138.5a1.25 1.25 0 1 0 2.5 0a1.25 1.25 0 1 0 -2.5 0M119.63 151.8a1.25 1.25 0 1 0 2.5 0a1.25 1.25 0 1 0 -2.5 0M155.59 167.9a1.25 1.25 0 1 0 2.5 0a1.25 1.25 0 1 0 -2.5 0M157.70 172.6a1.25 1.25 0 1 0 2.5 0a1.25 1.25 0 1 0 -2.5 0M204.23 117.7a1.25 1.25 0 1 0 2.5 0a1.25 1.25 0 1 0 -2.5 0M105.88 145.4a1.25 1.25 0 1 0 2.5 0a1.25 1.25 0 1 0 -2.5 0M147.13 159.8a1.25 1.25 0 1 0 2.5 0a1.25 1.25 0 1 0 -2.5 0M147.13 145.9a1.25 1.25 0 1 0 2.5 0a1.25 1.25 0 1 0 -2.5 0M183.08 188.9a1.25 1.25 0 1 0 2.5 0a1.25 1.25 0 1 0 -2.5 0M177.79 178.2a1.25 1.25 0 1 0 2.5 0a1.25 1.25 0 1 0 -2.5 0M122.80 141.3a1.25 1.25 0 1 0 2.5 0a1.25 1.25 0 1 0 -2.5 0M174.62 186.0a1.25 1.25 0 1 0 2.5 0a1.25 1.25 0 1 0 -2.5 0M185.20 154.0a1.25 1.25 0 1 0 2.5 0a1.25 1.25 0 1 0 -2.5 0M138.67 189.8a1.25 1.25 0 1 0 2.5 0a1.25 1.25 0 1 0 -2.5 0M183.08 151.6a1.25 1.25 0 1 0 2.5 0a1.25 1.25 0 1 0 -2.5 0M152.41 142.5a1.25 1.25 0 1 0 2.5 0a1.25 1.25 0 1 0 -2.5 0M152.41 154.5a1.25 1.25 0 1 0 2.5 0a1.25 1.25 0 1 0 -2.5 0M141.84 140.3a1.25 1.25 0 1 0 2.5 0a1.25 1.25 0 1 0 -2.5 0M177.79 187.5a1.25 1.25 0 1 0 2.5 0a1.25 1.25 0 1 0 -2.5 0M155.59 169.9a1.25 1.25 0 1 0 2.5 0a1.25 1.25 0 1 0 -2.5 0M111.17 162.8a1.25 1.25 0 1 0 2.5 0a1.25 1.25 0 1 0 -2.5 0M138.67 117.1a1.25 1.25 0 1 0 2.5 0a1.25 1.25 0 1 0 -2.5 0M128.09 169.9a1.25 1.25 0 1 0 2.5 0a1.25 1.25 0 1 0 -2.5 0M157.70 155.9a1.25 1.25 0 1 0 2.5 0a1.25 1.25 0 1 0 -2.5 0M141.84 123.5a1.25 1.25 0 1 0 2.5 0a1.25 1.25 0 1 0 -2.5 0M174.62 151.9a1.25 1.25 0 1 0 2.5 0a1.25 1.25 0 1 0 -2.5 0M226.44 134.8a1.25 1.25 0 1 0 2.5 0a1.25 1.25 0 1 0 -2.5 0M124.92 183.2a1.25 1.25 0 1 0 2.5 0a1.25 1.25 0 1 0 -2.5 0M138.67 129.5a1.25 1.25 0 1 0 2.5 0a1.25 1.25 0 1 0 -2.5 0M100.60 140.1a1.25 1.25 0 1 0 2.5 0a1.25 1.25 0 1 0 -2.5 0M150.30 138.1a1.25 1.25 0 1 0 2.5 0a1.25 1.25 0 1 0 -2.5 0M103.77 205.2a1.25 1.25 0 1 0 2.5 0a1.25 1.25 0 1 0 -2.5 0M210.58 128.8a1.25 1.25 0 1 0 2.5 0a1.25 1.25 0 1 0 -2.5 0M105.88 165.7a1.25 1.25 0 1 0 2.5 0a1.25 1.25 0 1 0 -2.5 0M136.55 125.6a1.25 1.25 0 1 0 2.5 0a1.25 1.25 0 1 0 -2.5 0M141.84 163.9a1.25 1.25 0 1 0 2.5 0a1.25 1.25 0 1 0 -2.5 0M98.48 148.4a1.25 1.25 0 1 0 2.5 0a1.25 1.25 0 1 0 -2.5 0M141.84 198.3a1.25 1.25 0 1 0 2.5 0a1.25 1.25 0 1 0 -2.5 0M212.69 190.3a1.25 1.25 0 1 0 2.5 0a1.25 1.25 0 1 0 -2.5 0M124.92 128.1a1.25 1.25 0 1 0 2.5 0a1.25 1.25 0 1 0 -2.5 0M103.77 177.0a1.25 1.25 0 1 0 2.5 0a1.25 1.25 0 1 0 -2.5 0M152.41 150.6a1.25 1.25 0 1 0 2.5 0a1.25 1.25 0 1 0 -2.5 0M152.41 159.2a1.25 1.25 0 1 0 2.5 0a1.25 1.25 0 1 0 -2.5 0M114.34 185.7a1.25 1.25 0 1 0 2.5 0a1.25 1.25 0 1 0 -2.5 0M100.60 160.5a1.25 1.25 0 1 0 2.5 0a1.25 1.25 0 1 0 -2.5 0M124.92 160.2a1.25 1.25 0 1 0 2.5 0a1.25 1.25 0 1 0 -2.5 0M155.59 141.6a1.25 1.25 0 1 0 2.5 0a1.25 1.25 0 1 0 -2.5 0M166.16 168.9a1.25 1.25 0 1 0 2.5 0a1.25 1.25 0 1 0 -2.5 0M122.80 172.3a1.25 1.25 0 1 0 2.5 0a1.25 1.25 0 1 0 -2.5 0M133.38 119.2a1.25 1.25 0 1 0 2.5 0a1.25 1.25 0 1 0 -2.5 0M166.16 119.5a1.25 1.25 0 1 0 2.5 0a1.25 1.25 0 1 0 -2.5 0M188.37 156.4a1.25 1.25 0 1 0 2.5 0a1.25 1.25 0 1 0 -2.5 0M128.09 182.7a1.25 1.25 0 1 0 2.5 0a1.25 1.25 0 1 0 -2.5 0M150.30 145.8a1.25 1.25 0 1 0 2.5 0a1.25 1.25 0 1 0 -2.5 0M117.52 117.2a1.25 1.25 0 1 0 2.5 0a1.25 1.25 0 1 0 -2.5 0M160.87 157.9a1.25 1.25 0 1 0 2.5 0a1.25 1.25 0 1 0 -2.5 0M143.95 173.5a1.25 1.25 0 1 0 2.5 0a1.25 1.25 0 1 0 -2.5 0M138.67 164.3a1.25 1.25 0 1 0 2.5 0a1.25 1.25 0 1 0 -2.5 0M212.69 184.0a1.25 1.25 0 1 0 2.5 0a1.25 1.25 0 1 0 -2.5 0M136.55 157.7a1.25 1.25 0 1 0 2.5 0a1.25 1.25 0 1 0 -2.5 0M114.34 188.9a1.25 1.25 0 1 0 2.5 0a1.25 1.25 0 1 0 -2.5 0M152.41 151.1a1.25 1.25 0 1 0 2.5 0a1.25 1.25 0 1 0 -2.5 0M152.41 134.7a1.25 1.25 0 1 0 2.5 0a1.25 1.25 0 1 0 -2.5 0M111.17 141.7a1.25 1.25 0 1 0 2.5 0a1.25 1.25 0 1 0 -2.5 0M183.08 182.6a1.25 1.25 0 1 0 2.5 0a1.25 1.25 0 1 0 -2.5 0M215.86 148.8a1.25 1.25 0 1 0 2.5 0a1.25 1.25 0 1 0 -2.5 0M128.09 166.6a1.25 1.25 0 1 0 2.5 0a1.25 1.25 0 1 0 -2.5 0M119.63 193.6a1.25 1.25 0 1 0 2.5 0a1.25 1.25 0 1 0 -2.5 0M141.84 159.3a1.25 1.25 0 1 0 2.5 0a1.25 1.25 0 1 0 -2.5 0M193.66 135.9a1.25 1.25 0 1 0 2.5 0a1.25 1.25 0 1 0 -2.5 0M128.09 150.5a1.25 1.25 0 1 0 2.5 0a1.25 1.25 0 1 0 -2.5 0M122.80 165.0a1.25 1.25 0 1 0 2.5 0a1.25 1.25 0 1 0 -2.5 0M128.09 173.6a1.25 1.25 0 1 0 2.5 0a1.25 1.25 0 1 0 -2.5 0M155.59 159.2a1.25 1.25 0 1 0 2.5 0a1.25 1.25 0 1 0 -2.5 0M152.41 145.4a1.25 1.25 0 1 0 2.5 0a1.25 1.25 0 1 0 -2.5 0M138.67 152.6a1.25 1.25 0 1 0 2.5 0a1.25 1.25 0 1 0 -2.5 0M193.66 128.2a1.25 1.25 0 1 0 2.5 0a1.25 1.25 0 1 0 -2.5 0M128.09 130.0a1.25 1.25 0 1 0 2.5 0a1.25 1.25 0 1 0 -2.5 0M185.20 166.3a1.25 1.25 0 1 0 2.5 0a1.25 1.25 0 1 0 -2.5 0M155.59 145.6a1.25 1.25 0 1 0 2.5 0a1.25 1.25 0 1 0 -2.5 0M119.63 154.5a1.25 1.25 0 1 0 2.5 0a1.25 1.25 0 1 0 -2.5 0M133.38 145.7a1.25 1.25 0 1 0 2.5 0a1.25 1.25 0 1 0 -2.5 0M150.30 148.8a1.25 1.25 0 1 0 2.5 0a1.25 1.25 0 1 0 -2.5 0M138.67 186.1a1.25 1.25 0 1 0 2.5 0a1.25 1.25 0 1 0 -2.5 0M171.45 147.2a1.25 1.25 0 1 0 2.5 0a1.25 1.25 0 1 0 -2.5 0M103.77 166.3a1.25 1.25 0 1 0 2.5 0a1.25 1.25 0 1 0 -2.5 0M150.30 145.3a1.25 1.25 0 1 0 2.5 0a1.25 1.25 0 1 0 -2.5 0M221.15 151.7a1.25 1.25 0 1 0 2.5 0a1.25 1.25 0 1 0 -2.5 0M128.09 114.3a1.25 1.25 0 1 0 2.5 0a1.25 1.25 0 1 0 -2.5 0M117.52 157.9a1.25 1.25 0 1 0 2.5 0a1.25 1.25 0 1 0 -2.5 0M141.84 146.7a1.25 1.25 0 1 0 2.5 0a1.25 1.25 0 1 0 -2.5 0M100.60 145.4a1.25 1.25 0 1 0 2.5 0a1.25 1.25 0 1 0 -2.5 0M212.69 108.1a1.25 1.25 0 1 0 2.5 0a1.25 1.25 0 1 0 -2.5 0M166.16 180.0a1.25 1.25 0 1 0 2.5 0a1.25 1.25 0 1 0 -2.5 0M122.80 113.4a1.25 1.25 0 1 0 2.5 0a1.25 1.25 0 1 0 -2.5 0M169.33 123.5a1.25 1.25 0 1 0 2.5 0a1.25 1.25 0 1 0 -2.5 0M131.26 117.8a1.25 1.25 0 1 0 2.5 0a1.25 1.25 0 1 0 -2.5 0M111.17 147.5a1.25 1.25 0 1 0 2.5 0a1.25 1.25 0 1 0 -2.5 0M131.26 175.5a1.25 1.25 0 1 0 2.5 0a1.25 1.25 0 1 0 -2.5 0M155.59 174.9a1.25 1.25 0 1 0 2.5 0a1.25 1.25 0 1 0 -2.5 0M133.38 121.0a1.25 1.25 0 1 0 2.5 0a1.25 1.25 0 1 0 -2.5 0M164.05 167.4a1.25 1.25 0 1 0 2.5 0a1.25 1.25 0 1 0 -2.5 0M169.33 164.8a1.25 1.25 0 1 0 2.5 0a1.25 1.25 0 1 0 -2.5 0M174.62 170.4a1.25 1.25 0 1 0 2.5 0a1.25 1.25 0 1 0 -2.5 0M124.92 128.1a1.25 1.25 0 1 0 2.5 0a1.25 1.25 0 1 0 -2.5 0M198.94 180.6a1.25 1.25 0 1 0 2.5 0a1.25 1.25 0 1 0 -2.5 0M157.70 159.9a1.25 1.25 0 1 0 2.5 0a1.25 1.25 0 1 0 -2.5 0M183.08 163.1a1.25 1.25 0 1 0 2.5 0a1.25 1.25 0 1 0 -2.5 0M122.80 149.1a1.25 1.25 0 1 0 2.5 0a1.25 1.25 0 1 0 -2.5 0M152.41 157.2a1.25 1.25 0 1 0 2.5 0a1.25 1.25 0 1 0 -2.5 0M84.73 177.2a1.25 1.25 0 1 0 2.5 0a1.25 1.25 0 1 0 -2.5 0M133.38 164.4a1.25 1.25 0 1 0 2.5 0a1.25 1.25 0 1 0 -2.5 0M119.63 161.3a1.25 1.25 0 1 0 2.5 0a1.25 1.25 0 1 0 -2.5 0M114.34 100.6a1.25 1.25 0 1 0 2.5 0a1.25 1.25 0 1 0 -2.5 0M217.98 136.1a1.25 1.25 0 1 0 2.5 0a1.25 1.25 0 1 0 -2.5 0M100.60 153.9a1.25 1.25 0 1 0 2.5 0a1.25 1.25 0 1 0 -2.5 0M141.84 149.3a1.25 1.25 0 1 0 2.5 0a1.25 1.25 0 1 0 -2.5 0M141.84 161.1a1.25 1.25 0 1 0 2.5 0a1.25 1.25 0 1 0 -2.5 0M164.05 111.1a1.25 1.25 0 1 0 2.5 0a1.25 1.25 0 1 0 -2.5 0M183.08 160.1a1.25 1.25 0 1 0 2.5 0a1.25 1.25 0 1 0 -2.5 0M100.60 176.8a1.25 1.25 0 1 0 2.5 0a1.25 1.25 0 1 0 -2.5 0M122.80 173.6a1.25 1.25 0 1 0 2.5 0a1.25 1.25 0 1 0 -2.5 0M171.45 170.3a1.25 1.25 0 1 0 2.5 0a1.25 1.25 0 1 0 -2.5 0M179.91 181.2a1.25 1.25 0 1 0 2.5 0a1.25 1.25 0 1 0 -2.5 0M131.26 142.4a1.25 1.25 0 1 0 2.5 0a1.25 1.25 0 1 0 -2.5 0M128.09 171.2a1.25 1.25 0 1 0 2.5 0a1.25 1.25 0 1 0 -2.5 0M114.34 172.9a1.25 1.25 0 1 0 2.5 0a1.25 1.25 0 1 0 -2.5 0M157.70 128.6a1.25 1.25 0 1 0 2.5 0a1.25 1.25 0 1 0 -2.5 0M212.69 118.4a1.25 1.25 0 1 0 2.5 0a1.25 1.25 0 1 0 -2.5 0M157.70 146.1a1.25 1.25 0 1 0 2.5 0a1.25 1.25 0 1 0 -2.5 0M122.80 180.7a1.25 1.25 0 1 0 2.5 0a1.25 1.25 0 1 0 -2.5 0M119.63 139.4a1.25 1.25 0 1 0 2.5 0a1.25 1.25 0 1 0 -2.5 0M122.80 169.2a1.25 1.25 0 1 0 2.5 0a1.25 1.25 0 1 0 -2.5 0M98.48 143.3a1.25 1.25 0 1 0 2.5 0a1.25 1.25 0 1 0 -2.5 0M215.86 148.6a1.25 1.25 0 1 0 2.5 0a1.25 1.25 0 1 0 -2.5 0M147.13 184.8a1.25 1.25 0 1 0 2.5 0a1.25 1.25 0 1 0 -2.5 0M133.38 130.0a1.25 1.25 0 1 0 2.5 0a1.25 1.25 0 1 0 -2.5 0M152.41 155.5a1.25 1.25 0 1 0 2.5 0a1.25 1.25 0 1 0 -2.5 0M204.23 184.2a1.25 1.25 0 1 0 2.5 0a1.25 1.25 0 1 0 -2.5 0M155.59 129.5a1.25 1.25 0 1 0 2.5 0a1.25 1.25 0 1 0 -2.5 0M188.37 173.9a1.25 1.25 0 1 0 2.5 0a1.25 1.25 0 1 0 -2.5 0M147.13 151.3a1.25 1.25 0 1 0 2.5 0a1.25 1.25 0 1 0 -2.5 0M133.38 180.0a1.25 1.25 0 1 0 2.5 0a1.25 1.25 0 1 0 -2.5 0M157.70 187.1a1.25 1.25 0 1 0 2.5 0a1.25 1.25 0 1 0 -2.5 0M171.45 187.8a1.25 1.25 0 1 0 2.5 0a1.25 1.25 0 1 0 -2.5 0M185.20 198.9a1.25 1.25 0 1 0 2.5 0a1.25 1.25 0 1 0 -2.5 0M152.41 165.1a1.25 1.25 0 1 0 2.5 0a1.25 1.25 0 1 0 -2.5 0M136.55 118.8a1.25 1.25 0 1 0 2.5 0a1.25 1.25 0 1 0 -2.5 0M133.38 125.3a1.25 1.25 0 1 0 2.5 0a1.25 1.25 0 1 0 -2.5 0M155.59 177.6a1.25 1.25 0 1 0 2.5 0a1.25 1.25 0 1 0 -2.5 0M128.09 174.4a1.25 1.25 0 1 0 2.5 0a1.25 1.25 0 1 0 -2.5 0M133.38 113.2a1.25 1.25 0 1 0 2.5 0a1.25 1.25 0 1 0 -2.5 0M164.05 134.5a1.25 1.25 0 1 0 2.5 0a1.25 1.25 0 1 0 -2.5 0M166.16 154.9a1.25 1.25 0 1 0 2.5 0a1.25 1.25 0 1 0 -2.5 0M164.05 165.2a1.25 1.25 0 1 0 2.5 0a1.25 1.25 0 1 0 -2.5 0M122.80 163.7a1.25 1.25 0 1 0 2.5 0a1.25 1.25 0 1 0 -2.5 0M155.59 171.7a1.25 1.25 0 1 0 2.5 0a1.25 1.25 0 1 0 -2.5 0M150.30 99.7a1.25 1.25 0 1 0 2.5 0a1.25 1.25 0 1 0 -2.5 0M133.38 112.1a1.25 1.25 0 1 0 2.5 0a1.25 1.25 0 1 0 -2.5 0M152.41 162.2a1.25 1.25 0 1 0 2.5 0a1.25 1.25 0 1 0 -2.5 0M177.79 135.0a1.25 1.25 0 1 0 2.5 0a1.25 1.25 0 1 0 -2.5 0M138.67 138.7a1.25 1.25 0 1 0 2.5 0a1.25 1.25 0 1 0 -2.5 0M157.70 170.3a1.25 1.25 0 1 0 2.5 0a1.25 1.25 0 1 0 -2.5 0M114.34 176.6a1.25 1.25 0 1 0 2.5 0a1.25 1.25 0 1 0 -2.5 0M136.55 169.6a1.25 1.25 0 1 0 2.5 0a1.25 1.25 0 1 0 -2.5 0M119.63 148.6a1.25 1.25 0 1 0 2.5 0a1.25 1.25 0 1 0 -2.5 0M103.77 117.6a1.25 1.25 0 1 0 2.5 0a1.25 1.25 0 1 0 -2.5 0M160.87 148.9a1.25 1.25 0 1 0 2.5 0a1.25 1.25 0 1 0 -2.5 0M141.84 161.2a1.25 1.25 0 1 0 2.5 0a1.25 1.25 0 1 0 -2.5 0M174.62 122.7a1.25 1.25 0 1 0 2.5 0a1.25 1.25 0 1 0 -2.5 0M157.70 111.6a1.25 1.25 0 1 0 2.5 0a1.25 1.25 0 1 0 -2.5 0M100.60 145.5a1.25 1.25 0 1 0 2.5 0a1.25 1.25 0 1 0 -2.5 0M152.41 161.0a1.25 1.25 0 1 0 2.5 0a1.25 1.25 0 1 0 -2.5 0M95.31 143.2a1.25 1.25 0 1 0 2.5 0a1.25 1.25 0 1 0 -2.5 0M117.52 137.6a1.25 1.25 0 1 0 2.5 0a1.25 1.25 0 1 0 -2.5 0M202.12 125.4a1.25 1.25 0 1 0 2.5 0a1.25 1.25 0 1 0 -2.5 0M150.30 129.0a1.25 1.25 0 1 0 2.5 0a1.25 1.25 0 1 0 -2.5 0M190.48 176.7a1.25 1.25 0 1 0 2.5 0a1.25 1.25 0 1 0 -2.5 0M111.17 155.4a1.25 1.25 0 1 0 2.5 0a1.25 1.25 0 1 0 -2.5 0M90.02 161.8a1.25 1.25 0 1 0 2.5 0a1.25 1.25 0 1 0 -2.5 0M122.80 136.4a1.25 1.25 0 1 0 2.5 0a1.25 1.25 0 1 0 -2.5 0M193.66 185.4a1.25 1.25 0 1 0 2.5 0a1.25 1.25 0 1 0 -2.5 0M179.91 203.0a1.25 1.25 0 1 0 2.5 0a1.25 1.25 0 1 0 -2.5 0M185.20 154.3a1.25 1.25 0 1 0 2.5 0a1.25 1.25 0 1 0 -2.5 0M138.67 167.2a1.25 1.25 0 1 0 2.5 0a1.25 1.25 0 1 0 -2.5 0M141.84 166.0a1.25 1.25 0 1 0 2.5 0a1.25 1.25 0 1 0 -2.5 0M138.67 157.6a1.25 1.25 0 1 0 2.5 0a1.25 1.25 0 1 0 -2.5 0M147.13 178.6a1.25 1.25 0 1 0 2.5 0a1.25 1.25 0 1 0 -2.5 0M217.98 155.3a1.25 1.25 0 1 0 2.5 0a1.25 1.25 0 1 0 -2.5 0M138.67 184.2a1.25 1.25 0 1 0 2.5 0a1.25 1.25 0 1 0 -2.5 0M198.94 187.6a1.25 1.25 0 1 0 2.5 0a1.25 1.25 0 1 0 -2.5 0M111.17 138.9a1.25 1.25 0 1 0 2.5 0a1.25 1.25 0 1 0 -2.5 0M128.09 162.3a1.25 1.25 0 1 0 2.5 0a1.25 1.25 0 1 0 -2.5 0M157.70 126.1a1.25 1.25 0 1 0 2.5 0a1.25 1.25 0 1 0 -2.5 0M128.09 146.5a1.25 1.25 0 1 0 2.5 0a1.25 1.25 0 1 0 -2.5 0M131.26 172.8a1.25 1.25 0 1 0 2.5 0a1.25 1.25 0 1 0 -2.5 0M138.67 169.1a1.25 1.25 0 1 0 2.5 0a1.25 1.25 0 1 0 -2.5 0M128.09 180.9a1.25 1.25 0 1 0 2.5 0a1.25 1.25 0 1 0 -2.5 0M207.40 157.6a1.25 1.25 0 1 0 2.5 0a1.25 1.25 0 1 0 -2.5 0M188.37 142.8a1.25 1.25 0 1 0 2.5 0a1.25 1.25 0 1 0 -2.5 0M105.88 153.1a1.25 1.25 0 1 0 2.5 0a1.25 1.25 0 1 0 -2.5 0M215.86 152.1a1.25 1.25 0 1 0 2.5 0a1.25 1.25 0 1 0 -2.5 0M143.95 180.1a1.25 1.25 0 1 0 2.5 0a1.25 1.25 0 1 0 -2.5 0M143.95 122.6a1.25 1.25 0 1 0 2.5 0a1.25 1.25 0 1 0 -2.5 0M138.67 139.6a1.25 1.25 0 1 0 2.5 0a1.25 1.25 0 1 0 -2.5 0M177.79 130.6a1.25 1.25 0 1 0 2.5 0a1.25 1.25 0 1 0 -2.5 0M171.45 186.0a1.25 1.25 0 1 0 2.5 0a1.25 1.25 0 1 0 -2.5 0M128.09 159.8a1.25 1.25 0 1 0 2.5 0a1.25 1.25 0 1 0 -2.5 0M147.13 174.9a1.25 1.25 0 1 0 2.5 0a1.25 1.25 0 1 0 -2.5 0M105.88 112.2a1.25 1.25 0 1 0 2.5 0a1.25 1.25 0 1 0 -2.5 0M223.27 163.1a1.25 1.25 0 1 0 2.5 0a1.25 1.25 0 1 0 -2.5 0M119.63 95.1a1.25 1.25 0 1 0 2.5 0a1.25 1.25 0 1 0 -2.5 0M117.52 142.2a1.25 1.25 0 1 0 2.5 0a1.25 1.25 0 1 0 -2.5 0M122.80 169.1a1.25 1.25 0 1 0 2.5 0a1.25 1.25 0 1 0 -2.5 0M150.30 123.3a1.25 1.25 0 1 0 2.5 0a1.25 1.25 0 1 0 -2.5 0M171.45 111.1a1.25 1.25 0 1 0 2.5 0a1.25 1.25 0 1 0 -2.5 0M133.38 159.0a1.25 1.25 0 1 0 2.5 0a1.25 1.25 0 1 0 -2.5 0M147.13 170.2a1.25 1.25 0 1 0 2.5 0a1.25 1.25 0 1 0 -2.5 0M133.38 155.9a1.25 1.25 0 1 0 2.5 0a1.25 1.25 0 1 0 -2.5 0M196.83 187.8a1.25 1.25 0 1 0 2.5 0a1.25 1.25 0 1 0 -2.5 0M152.41 183.0a1.25 1.25 0 1 0 2.5 0a1.25 1.25 0 1 0 -2.5 0M98.48 208.5a1.25 1.25 0 1 0 2.5 0a1.25 1.25 0 1 0 -2.5 0M204.23 172.5a1.25 1.25 0 1 0 2.5 0a1.25 1.25 0 1 0 -2.5 0M157.70 189.5a1.25 1.25 0 1 0 2.5 0a1.25 1.25 0 1 0 -2.5 0M226.44 154.2a1.25 1.25 0 1 0 2.5 0a1.25 1.25 0 1 0 -2.5 0M124.92 147.0a1.25 1.25 0 1 0 2.5 0a1.25 1.25 0 1 0 -2.5 0M131.26 128.1a1.25 1.25 0 1 0 2.5 0a1.25 1.25 0 1 0 -2.5 0M138.67 148.4a1.25 1.25 0 1 0 2.5 0a1.25 1.25 0 1 0 -2.5 0M105.88 159.1a1.25 1.25 0 1 0 2.5 0a1.25 1.25 0 1 0 -2.5 0M133.38 121.6a1.25 1.25 0 1 0 2.5 0a1.25 1.25 0 1 0 -2.5 0M193.66 175.5a1.25 1.25 0 1 0 2.5 0a1.25 1.25 0 1 0 -2.5 0M171.45 211.7a1.25 1.25 0 1 0 2.5 0a1.25 1.25 0 1 0 -2.5 0M84.73 187.0a1.25 1.25 0 1 0 2.5 0a1.25 1.25 0 1 0 -2.5 0M196.83 168.6a1.25 1.25 0 1 0 2.5 0a1.25 1.25 0 1 0 -2.5 0M157.70 141.9a1.25 1.25 0 1 0 2.5 0a1.25 1.25 0 1 0 -2.5 0M177.79 130.7a1.25 1.25 0 1 0 2.5 0a1.25 1.25 0 1 0 -2.5 0M147.13 181.7a1.25 1.25 0 1 0 2.5 0a1.25 1.25 0 1 0 -2.5 0M152.41 128.1a1.25 1.25 0 1 0 2.5 0a1.25 1.25 0 1 0 -2.5 0M147.13 145.6a1.25 1.25 0 1 0 2.5 0a1.25 1.25 0 1 0 -2.5 0M147.13 139.1a1.25 1.25 0 1 0 2.5 0a1.25 1.25 0 1 0 -2.5 0M114.34 180.0a1.25 1.25 0 1 0 2.5 0a1.25 1.25 0 1 0 -2.5 0M185.20 163.2a1.25 1.25 0 1 0 2.5 0a1.25 1.25 0 1 0 -2.5 0M152.41 211.3a1.25 1.25 0 1 0 2.5 0a1.25 1.25 0 1 0 -2.5 0M157.70 153.7a1.25 1.25 0 1 0 2.5 0a1.25 1.25 0 1 0 -2.5 0M157.70 165.9a1.25 1.25 0 1 0 2.5 0a1.25 1.25 0 1 0 -2.5 0M136.55 137.0a1.25 1.25 0 1 0 2.5 0a1.25 1.25 0 1 0 -2.5 0M143.95 126.5a1.25 1.25 0 1 0 2.5 0a1.25 1.25 0 1 0 -2.5 0M105.88 176.8a1.25 1.25 0 1 0 2.5 0a1.25 1.25 0 1 0 -2.5 0M155.59 132.3a1.25 1.25 0 1 0 2.5 0a1.25 1.25 0 1 0 -2.5 0M155.59 128.0a1.25 1.25 0 1 0 2.5 0a1.25 1.25 0 1 0 -2.5 0M138.67 162.2a1.25 1.25 0 1 0 2.5 0a1.25 1.25 0 1 0 -2.5 0M98.48 103.9a1.25 1.25 0 1 0 2.5 0a1.25 1.25 0 1 0 -2.5 0M198.94 177.5a1.25 1.25 0 1 0 2.5 0a1.25 1.25 0 1 0 -2.5 0M138.67 191.9a1.25 1.25 0 1 0 2.5 0a1.25 1.25 0 1 0 -2.5 0M143.95 154.5a1.25 1.25 0 1 0 2.5 0a1.25 1.25 0 1 0 -2.5 0M136.55 109.9a1.25 1.25 0 1 0 2.5 0a1.25 1.25 0 1 0 -2.5 0M128.09 140.4a1.25 1.25 0 1 0 2.5 0a1.25 1.25 0 1 0 -2.5 0M133.38 199.3a1.25 1.25 0 1 0 2.5 0a1.25 1.25 0 1 0 -2.5 0M111.17 166.5a1.25 1.25 0 1 0 2.5 0a1.25 1.25 0 1 0 -2.5 0M128.09 122.2a1.25 1.25 0 1 0 2.5 0a1.25 1.25 0 1 0 -2.5 0M190.48 160.7a1.25 1.25 0 1 0 2.5 0a1.25 1.25 0 1 0 -2.5 0M124.92 102.7a1.25 1.25 0 1 0 2.5 0a1.25 1.25 0 1 0 -2.5 0M95.31 107.6a1.25 1.25 0 1 0 2.5 0a1.25 1.25 0 1 0 -2.5 0M105.88 185.8a1.25 1.25 0 1 0 2.5 0a1.25 1.25 0 1 0 -2.5 0M188.37 141.7a1.25 1.25 0 1 0 2.5 0a1.25 1.25 0 1 0 -2.5 0M193.66 145.1a1.25 1.25 0 1 0 2.5 0a1.25 1.25 0 1 0 -2.5 0M150.30 154.4a1.25 1.25 0 1 0 2.5 0a1.25 1.25 0 1 0 -2.5 0M157.70 151.8a1.25 1.25 0 1 0 2.5 0a1.25 1.25 0 1 0 -2.5 0M157.70 162.4a1.25 1.25 0 1 0 2.5 0a1.25 1.25 0 1 0 -2.5 0M141.84 130.0a1.25 1.25 0 1 0 2.5 0a1.25 1.25 0 1 0 -2.5 0M171.45 132.5a1.25 1.25 0 1 0 2.5 0a1.25 1.25 0 1 0 -2.5 0M114.34 118.6a1.25 1.25 0 1 0 2.5 0a1.25 1.25 0 1 0 -2.5 0M131.26 130.1a1.25 1.25 0 1 0 2.5 0a1.25 1.25 0 1 0 -2.5 0M141.84 168.1a1.25 1.25 0 1 0 2.5 0a1.25 1.25 0 1 0 -2.5 0M98.48 162.1a1.25 1.25 0 1 0 2.5 0a1.25 1.25 0 1 0 -2.5 0M114.34 159.1a1.25 1.25 0 1 0 2.5 0a1.25 1.25 0 1 0 -2.5 0M160.87 151.4a1.25 1.25 0 1 0 2.5 0a1.25 1.25 0 1 0 -2.5 0M157.70 172.1a1.25 1.25 0 1 0 2.5 0a1.25 1.25 0 1 0 -2.5 0M179.91 161.6a1.25 1.25 0 1 0 2.5 0a1.25 1.25 0 1 0 -2.5 0M157.70 166.1a1.25 1.25 0 1 0 2.5 0a1.25 1.25 0 1 0 -2.5 0M174.62 158.5a1.25 1.25 0 1 0 2.5 0a1.25 1.25 0 1 0 -2.5 0M143.95 112.2a1.25 1.25 0 1 0 2.5 0a1.25 1.25 0 1 0 -2.5 0M166.16 120.4a1.25 1.25 0 1 0 2.5 0a1.25 1.25 0 1 0 -2.5 0M109.06 164.8a1.25 1.25 0 1 0 2.5 0a1.25 1.25 0 1 0 -2.5 0M138.67 151.1a1.25 1.25 0 1 0 2.5 0a1.25 1.25 0 1 0 -2.5 0M114.34 160.0a1.25 1.25 0 1 0 2.5 0a1.25 1.25 0 1 0 -2.5 0M128.09 175.5a1.25 1.25 0 1 0 2.5 0a1.25 1.25 0 1 0 -2.5 0M190.48 142.2a1.25 1.25 0 1 0 2.5 0a1.25 1.25 0 1 0 -2.5 0M212.69 208.0a1.25 1.25 0 1 0 2.5 0a1.25 1.25 0 1 0 -2.5 0M147.13 149.8a1.25 1.25 0 1 0 2.5 0a1.25 1.25 0 1 0 -2.5 0M131.26 162.8a1.25 1.25 0 1 0 2.5 0a1.25 1.25 0 1 0 -2.5 0M174.62 189.2a1.25 1.25 0 1 0 2.5 0a1.25 1.25 0 1 0 -2.5 0M160.87 144.2a1.25 1.25 0 1 0 2.5 0a1.25 1.25 0 1 0 -2.5 0M226.44 134.1a1.25 1.25 0 1 0 2.5 0a1.25 1.25 0 1 0 -2.5 0M169.33 150.9a1.25 1.25 0 1 0 2.5 0a1.25 1.25 0 1 0 -2.5 0M84.73 141.5a1.25 1.25 0 1 0 2.5 0a1.25 1.25 0 1 0 -2.5 0M147.13 179.8a1.25 1.25 0 1 0 2.5 0a1.25 1.25 0 1 0 -2.5 0M136.55 144.8a1.25 1.25 0 1 0 2.5 0a1.25 1.25 0 1 0 -2.5 0M119.63 116.8a1.25 1.25 0 1 0 2.5 0a1.25 1.25 0 1 0 -2.5 0M150.30 186.1a1.25 1.25 0 1 0 2.5 0a1.25 1.25 0 1 0 -2.5 0M147.13 99.3a1.25 1.25 0 1 0 2.5 0a1.25 1.25 0 1 0 -2.5 0M133.38 202.4a1.25 1.25 0 1 0 2.5 0a1.25 1.25 0 1 0 -2.5 0M207.40 135.7a1.25 1.25 0 1 0 2.5 0a1.25 1.25 0 1 0 -2.5 0M157.70 173.0a1.25 1.25 0 1 0 2.5 0a1.25 1.25 0 1 0 -2.5 0M160.87 151.8a1.25 1.25 0 1 0 2.5 0a1.25 1.25 0 1 0 -2.5 0M150.30 157.5a1.25 1.25 0 1 0 2.5 0a1.25 1.25 0 1 0 -2.5 0M193.66 158.4a1.25 1.25 0 1 0 2.5 0a1.25 1.25 0 1 0 -2.5 0M111.17 128.8a1.25 1.25 0 1 0 2.5 0a1.25 1.25 0 1 0 -2.5 0M193.66 166.1a1.25 1.25 0 1 0 2.5 0a1.25 1.25 0 1 0 -2.5 0M138.67 151.1a1.25 1.25 0 1 0 2.5 0a1.25 1.25 0 1 0 -2.5 0M204.23 128.4a1.25 1.25 0 1 0 2.5 0a1.25 1.25 0 1 0 -2.5 0M202.12 162.2a1.25 1.25 0 1 0 2.5 0a1.25 1.25 0 1 0 -2.5 0M131.26 170.2a1.25 1.25 0 1 0 2.5 0a1.25 1.25 0 1 0 -2.5 0M155.59 172.1a1.25 1.25 0 1 0 2.5 0a1.25 1.25 0 1 0 -2.5 0M157.70 180.5a1.25 1.25 0 1 0 2.5 0a1.25 1.25 0 1 0 -2.5 0M103.77 137.9a1.25 1.25 0 1 0 2.5 0a1.25 1.25 0 1 0 -2.5 0M136.55 153.9a1.25 1.25 0 1 0 2.5 0a1.25 1.25 0 1 0 -2.5 0M124.92 176.3a1.25 1.25 0 1 0 2.5 0a1.25 1.25 0 1 0 -2.5 0M198.94 173.6a1.25 1.25 0 1 0 2.5 0a1.25 1.25 0 1 0 -2.5 0M215.86 196.9a1.25 1.25 0 1 0 2.5 0a1.25 1.25 0 1 0 -2.5 0M122.80 169.6a1.25 1.25 0 1 0 2.5 0a1.25 1.25 0 1 0 -2.5 0M128.09 106.6a1.25 1.25 0 1 0 2.5 0a1.25 1.25 0 1 0 -2.5 0M105.88 199.1a1.25 1.25 0 1 0 2.5 0a1.25 1.25 0 1 0 -2.5 0M155.59 107.5a1.25 1.25 0 1 0 2.5 0a1.25 1.25 0 1 0 -2.5 0M174.62 159.2a1.25 1.25 0 1 0 2.5 0a1.25 1.25 0 1 0 -2.5 0M221.15 165.0a1.25 1.25 0 1 0 2.5 0a1.25 1.25 0 1 0 -2.5 0M109.06 169.5a1.25 1.25 0 1 0 2.5 0a1.25 1.25 0 1 0 -2.5 0M179.91 190.6a1.25 1.25 0 1 0 2.5 0a1.25 1.25 0 1 0 -2.5 0M141.84 140.4a1.25 1.25 0 1 0 2.5 0a1.25 1.25 0 1 0 -2.5 0M122.80 164.2a1.25 1.25 0 1 0 2.5 0a1.25 1.25 0 1 0 -2.5 0M133.38 173.8a1.25 1.25 0 1 0 2.5 0a1.25 1.25 0 1 0 -2.5 0M122.80 157.5a1.25 1.25 0 1 0 2.5 0a1.25 1.25 0 1 0 -2.5 0M160.87 117.3a1.25 1.25 0 1 0 2.5 0a1.25 1.25 0 1 0 -2.5 0M143.95 169.2a1.25 1.25 0 1 0 2.5 0a1.25 1.25 0 1 0 -2.5 0M190.48 163.0a1.25 1.25 0 1 0 2.5 0a1.25 1.25 0 1 0 -2.5 0M128.09 121.0a1.25 1.25 0 1 0 2.5 0a1.25 1.25 0 1 0 -2.5 0M95.31 180.9a1.25 1.25 0 1 0 2.5 0a1.25 1.25 0 1 0 -2.5 0M117.52 133.3a1.25 1.25 0 1 0 2.5 0a1.25 1.25 0 1 0 -2.5 0M157.70 93.8a1.25 1.25 0 1 0 2.5 0a1.25 1.25 0 1 0 -2.5 0M103.77 155.0a1.25 1.25 0 1 0 2.5 0a1.25 1.25 0 1 0 -2.5 0M122.80 199.1a1.25 1.25 0 1 0 2.5 0a1.25 1.25 0 1 0 -2.5 0M164.05 132.8a1.25 1.25 0 1 0 2.5 0a1.25 1.25 0 1 0 -2.5 0M105.88 163.0a1.25 1.25 0 1 0 2.5 0a1.25 1.25 0 1 0 -2.5 0M177.79 123.4a1.25 1.25 0 1 0 2.5 0a1.25 1.25 0 1 0 -2.5 0M157.70 143.7a1.25 1.25 0 1 0 2.5 0a1.25 1.25 0 1 0 -2.5 0M128.09 148.4a1.25 1.25 0 1 0 2.5 0a1.25 1.25 0 1 0 -2.5 0M143.95 179.6a1.25 1.25 0 1 0 2.5 0a1.25 1.25 0 1 0 -2.5 0M131.26 125.0a1.25 1.25 0 1 0 2.5 0a1.25 1.25 0 1 0 -2.5 0M133.38 143.8a1.25 1.25 0 1 0 2.5 0a1.25 1.25 0 1 0 -2.5 0M133.38 143.9a1.25 1.25 0 1 0 2.5 0a1.25 1.25 0 1 0 -2.5 0M147.13 143.9a1.25 1.25 0 1 0 2.5 0a1.25 1.25 0 1 0 -2.5 0M141.84 143.7a1.25 1.25 0 1 0 2.5 0a1.25 1.25 0 1 0 -2.5 0M122.80 148.9a1.25 1.25 0 1 0 2.5 0a1.25 1.25 0 1 0 -2.5 0M117.52 156.1a1.25 1.25 0 1 0 2.5 0a1.25 1.25 0 1 0 -2.5 0M111.17 168.6a1.25 1.25 0 1 0 2.5 0a1.25 1.25 0 1 0 -2.5 0M138.67 164.3a1.25 1.25 0 1 0 2.5 0a1.25 1.25 0 1 0 -2.5 0M190.48 128.1a1.25 1.25 0 1 0 2.5 0a1.25 1.25 0 1 0 -2.5 0M183.08 128.7a1.25 1.25 0 1 0 2.5 0a1.25 1.25 0 1 0 -2.5 0M122.80 179.4a1.25 1.25 0 1 0 2.5 0a1.25 1.25 0 1 0 -2.5 0M217.98 173.7a1.25 1.25 0 1 0 2.5 0a1.25 1.25 0 1 0 -2.5 0M136.55 146.3a1.25 1.25 0 1 0 2.5 0a1.25 1.25 0 1 0 -2.5 0M109.06 145.4a1.25 1.25 0 1 0 2.5 0a1.25 1.25 0 1 0 -2.5 0M169.33 140.0a1.25 1.25 0 1 0 2.5 0a1.25 1.25 0 1 0 -2.5 0M138.67 171.6a1.25 1.25 0 1 0 2.5 0a1.25 1.25 0 1 0 -2.5 0M136.55 163.0a1.25 1.25 0 1 0 2.5 0a1.25 1.25 0 1 0 -2.5 0M119.63 98.8a1.25 1.25 0 1 0 2.5 0a1.25 1.25 0 1 0 -2.5 0M124.92 183.0a1.25 1.25 0 1 0 2.5 0a1.25 1.25 0 1 0 -2.5 0M150.30 116.1a1.25 1.25 0 1 0 2.5 0a1.25 1.25 0 1 0 -2.5 0M179.91 135.1a1.25 1.25 0 1 0 2.5 0a1.25 1.25 0 1 0 -2.5 0M90.02 125.7a1.25 1.25 0 1 0 2.5 0a1.25 1.25 0 1 0 -2.5 0M84.73 146.6a1.25 1.25 0 1 0 2.5 0a1.25 1.25 0 1 0 -2.5 0M183.08 154.8a1.25 1.25 0 1 0 2.5 0a1.25 1.25 0 1 0 -2.5 0M119.63 131.8a1.25 1.25 0 1 0 2.5 0a1.25 1.25 0 1 0 -2.5 0M169.33 158.3a1.25 1.25 0 1 0 2.5 0a1.25 1.25 0 1 0 -2.5 0M150.30 154.8a1.25 1.25 0 1 0 2.5 0a1.25 1.25 0 1 0 -2.5 0M193.66 162.2a1.25 1.25 0 1 0 2.5 0a1.25 1.25 0 1 0 -2.5 0M179.91 143.9a1.25 1.25 0 1 0 2.5 0a1.25 1.25 0 1 0 -2.5 0M136.55 155.1a1.25 1.25 0 1 0 2.5 0a1.25 1.25 0 1 0 -2.5 0M138.67 160.9a1.25 1.25 0 1 0 2.5 0a1.25 1.25 0 1 0 -2.5 0M155.59 138.0a1.25 1.25 0 1 0 2.5 0a1.25 1.25 0 1 0 -2.5 0M171.45 149.1a1.25 1.25 0 1 0 2.5 0a1.25 1.25 0 1 0 -2.5 0M124.92 185.9a1.25 1.25 0 1 0 2.5 0a1.25 1.25 0 1 0 -2.5 0M103.77 152.2a1.25 1.25 0 1 0 2.5 0a1.25 1.25 0 1 0 -2.5 0M150.30 117.2a1.25 1.25 0 1 0 2.5 0a1.25 1.25 0 1 0 -2.5 0M143.95 142.4a1.25 1.25 0 1 0 2.5 0a1.25 1.25 0 1 0 -2.5 0M138.67 112.9a1.25 1.25 0 1 0 2.5 0a1.25 1.25 0 1 0 -2.5 0M114.34 195.4a1.25 1.25 0 1 0 2.5 0a1.25 1.25 0 1 0 -2.5 0M166.16 144.2a1.25 1.25 0 1 0 2.5 0a1.25 1.25 0 1 0 -2.5 0M98.48 201.3a1.25 1.25 0 1 0 2.5 0a1.25 1.25 0 1 0 -2.5 0M131.26 136.8a1.25 1.25 0 1 0 2.5 0a1.25 1.25 0 1 0 -2.5 0M196.83 172.4a1.25 1.25 0 1 0 2.5 0a1.25 1.25 0 1 0 -2.5 0M111.17 155.9a1.25 1.25 0 1 0 2.5 0a1.25 1.25 0 1 0 -2.5 0M160.87 142.7a1.25 1.25 0 1 0 2.5 0a1.25 1.25 0 1 0 -2.5 0M160.87 176.2a1.25 1.25 0 1 0 2.5 0a1.25 1.25 0 1 0 -2.5 0M160.87 172.6a1.25 1.25 0 1 0 2.5 0a1.25 1.25 0 1 0 -2.5 0M98.48 161.1a1.25 1.25 0 1 0 2.5 0a1.25 1.25 0 1 0 -2.5 0M183.08 136.0a1.25 1.25 0 1 0 2.5 0a1.25 1.25 0 1 0 -2.5 0M150.30 118.9a1.25 1.25 0 1 0 2.5 0a1.25 1.25 0 1 0 -2.5 0M164.05 174.7a1.25 1.25 0 1 0 2.5 0a1.25 1.25 0 1 0 -2.5 0M155.59 178.5a1.25 1.25 0 1 0 2.5 0a1.25 1.25 0 1 0 -2.5 0M147.13 152.9a1.25 1.25 0 1 0 2.5 0a1.25 1.25 0 1 0 -2.5 0M193.66 187.4a1.25 1.25 0 1 0 2.5 0a1.25 1.25 0 1 0 -2.5 0M202.12 192.2a1.25 1.25 0 1 0 2.5 0a1.25 1.25 0 1 0 -2.5 0M95.31 138.1a1.25 1.25 0 1 0 2.5 0a1.25 1.25 0 1 0 -2.5 0M122.80 166.8a1.25 1.25 0 1 0 2.5 0a1.25 1.25 0 1 0 -2.5 0M138.67 113.8a1.25 1.25 0 1 0 2.5 0a1.25 1.25 0 1 0 -2.5 0M86.85 174.8a1.25 1.25 0 1 0 2.5 0a1.25 1.25 0 1 0 -2.5 0M204.23 117.9a1.25 1.25 0 1 0 2.5 0a1.25 1.25 0 1 0 -2.5 0M122.80 121.5a1.25 1.25 0 1 0 2.5 0a1.25 1.25 0 1 0 -2.5 0M166.16 163.6a1.25 1.25 0 1 0 2.5 0a1.25 1.25 0 1 0 -2.5 0M152.41 149.3a1.25 1.25 0 1 0 2.5 0a1.25 1.25 0 1 0 -2.5 0M114.34 146.0a1.25 1.25 0 1 0 2.5 0a1.25 1.25 0 1 0 -2.5 0M133.38 152.2a1.25 1.25 0 1 0 2.5 0a1.25 1.25 0 1 0 -2.5 0M150.30 175.7a1.25 1.25 0 1 0 2.5 0a1.25 1.25 0 1 0 -2.5 0M174.62 120.2a1.25 1.25 0 1 0 2.5 0a1.25 1.25 0 1 0 -2.5 0M133.38 135.5a1.25 1.25 0 1 0 2.5 0a1.25 1.25 0 1 0 -2.5 0M136.55 152.5a1.25 1.25 0 1 0 2.5 0a1.25 1.25 0 1 0 -2.5 0M196.83 151.1a1.25 1.25 0 1 0 2.5 0a1.25 1.25 0 1 0 -2.5 0M155.59 194.0a1.25 1.25 0 1 0 2.5 0a1.25 1.25 0 1 0 -2.5 0M124.92 136.8a1.25 1.25 0 1 0 2.5 0a1.25 1.25 0 1 0 -2.5 0M109.06 166.1a1.25 1.25 0 1 0 2.5 0a1.25 1.25 0 1 0 -2.5 0M133.38 149.7a1.25 1.25 0 1 0 2.5 0a1.25 1.25 0 1 0 -2.5 0M117.52 129.1a1.25 1.25 0 1 0 2.5 0a1.25 1.25 0 1 0 -2.5 0M133.38 176.3a1.25 1.25 0 1 0 2.5 0a1.25 1.25 0 1 0 -2.5 0M171.45 146.7a1.25 1.25 0 1 0 2.5 0a1.25 1.25 0 1 0 -2.5 0M152.41 148.7a1.25 1.25 0 1 0 2.5 0a1.25 1.25 0 1 0 -2.5 0M160.87 161.2a1.25 1.25 0 1 0 2.5 0a1.25 1.25 0 1 0 -2.5 0M217.98 173.6a1.25 1.25 0 1 0 2.5 0a1.25 1.25 0 1 0 -2.5 0M111.17 176.1a1.25 1.25 0 1 0 2.5 0a1.25 1.25 0 1 0 -2.5 0M160.87 151.3a1.25 1.25 0 1 0 2.5 0a1.25 1.25 0 1 0 -2.5 0M138.67 138.1a1.25 1.25 0 1 0 2.5 0a1.25 1.25 0 1 0 -2.5 0M150.30 165.4a1.25 1.25 0 1 0 2.5 0a1.25 1.25 0 1 0 -2.5 0M147.13 119.6a1.25 1.25 0 1 0 2.5 0a1.25 1.25 0 1 0 -2.5 0M136.55 158.6a1.25 1.25 0 1 0 2.5 0a1.25 1.25 0 1 0 -2.5 0M166.16 136.6a1.25 1.25 0 1 0 2.5 0a1.25 1.25 0 1 0 -2.5 0M90.02 153.5a1.25 1.25 0 1 0 2.5 0a1.25 1.25 0 1 0 -2.5 0M155.59 152.9a1.25 1.25 0 1 0 2.5 0a1.25 1.25 0 1 0 -2.5 0M169.33 127.4a1.25 1.25 0 1 0 2.5 0a1.25 1.25 0 1 0 -2.5 0M117.52 132.8a1.25 1.25 0 1 0 2.5 0a1.25 1.25 0 1 0 -2.5 0M117.52 118.8a1.25 1.25 0 1 0 2.5 0a1.25 1.25 0 1 0 -2.5 0M226.44 124.8a1.25 1.25 0 1 0 2.5 0a1.25 1.25 0 1 0 -2.5 0M119.63 148.4a1.25 1.25 0 1 0 2.5 0a1.25 1.25 0 1 0 -2.5 0M133.38 130.6a1.25 1.25 0 1 0 2.5 0a1.25 1.25 0 1 0 -2.5 0M122.80 136.2a1.25 1.25 0 1 0 2.5 0a1.25 1.25 0 1 0 -2.5 0M124.92 136.9a1.25 1.25 0 1 0 2.5 0a1.25 1.25 0 1 0 -2.5 0M124.92 128.2a1.25 1.25 0 1 0 2.5 0a1.25 1.25 0 1 0 -2.5 0M90.02 144.1a1.25 1.25 0 1 0 2.5 0a1.25 1.25 0 1 0 -2.5 0M122.80 135.5a1.25 1.25 0 1 0 2.5 0a1.25 1.25 0 1 0 -2.5 0M157.70 175.0a1.25 1.25 0 1 0 2.5 0a1.25 1.25 0 1 0 -2.5 0M141.84 128.0a1.25 1.25 0 1 0 2.5 0a1.25 1.25 0 1 0 -2.5 0M198.94 126.2a1.25 1.25 0 1 0 2.5 0a1.25 1.25 0 1 0 -2.5 0M171.45 204.3a1.25 1.25 0 1 0 2.5 0a1.25 1.25 0 1 0 -2.5 0M188.37 132.3a1.25 1.25 0 1 0 2.5 0a1.25 1.25 0 1 0 -2.5 0M190.48 170.3a1.25 1.25 0 1 0 2.5 0a1.25 1.25 0 1 0 -2.5 0M177.79 172.8a1.25 1.25 0 1 0 2.5 0a1.25 1.25 0 1 0 -2.5 0M147.13 133.5a1.25 1.25 0 1 0 2.5 0a1.25 1.25 0 1 0 -2.5 0M179.91 175.5a1.25 1.25 0 1 0 2.5 0a1.25 1.25 0 1 0 -2.5 0M100.60 142.2a1.25 1.25 0 1 0 2.5 0a1.25 1.25 0 1 0 -2.5 0M177.79 169.1a1.25 1.25 0 1 0 2.5 0a1.25 1.25 0 1 0 -2.5 0M171.45 183.7a1.25 1.25 0 1 0 2.5 0a1.25 1.25 0 1 0 -2.5 0M155.59 104.9a1.25 1.25 0 1 0 2.5 0a1.25 1.25 0 1 0 -2.5 0M105.88 168.9a1.25 1.25 0 1 0 2.5 0a1.25 1.25 0 1 0 -2.5 0M198.94 184.6a1.25 1.25 0 1 0 2.5 0a1.25 1.25 0 1 0 -2.5 0M124.92 159.7a1.25 1.25 0 1 0 2.5 0a1.25 1.25 0 1 0 -2.5 0M169.33 105.4a1.25 1.25 0 1 0 2.5 0a1.25 1.25 0 1 0 -2.5 0M95.31 190.4a1.25 1.25 0 1 0 2.5 0a1.25 1.25 0 1 0 -2.5 0M138.67 121.7a1.25 1.25 0 1 0 2.5 0a1.25 1.25 0 1 0 -2.5 0M124.92 169.4a1.25 1.25 0 1 0 2.5 0a1.25 1.25 0 1 0 -2.5 0M122.80 144.6a1.25 1.25 0 1 0 2.5 0a1.25 1.25 0 1 0 -2.5 0M124.92 152.0a1.25 1.25 0 1 0 2.5 0a1.25 1.25 0 1 0 -2.5 0M217.98 127.0a1.25 1.25 0 1 0 2.5 0a1.25 1.25 0 1 0 -2.5 0M143.95 171.2a1.25 1.25 0 1 0 2.5 0a1.25 1.25 0 1 0 -2.5 0M157.70 102.9a1.25 1.25 0 1 0 2.5 0a1.25 1.25 0 1 0 -2.5 0M103.77 185.5a1.25 1.25 0 1 0 2.5 0a1.25 1.25 0 1 0 -2.5 0M207.40 148.5a1.25 1.25 0 1 0 2.5 0a1.25 1.25 0 1 0 -2.5 0M133.38 129.6a1.25 1.25 0 1 0 2.5 0a1.25 1.25 0 1 0 -2.5 0M124.92 132.3a1.25 1.25 0 1 0 2.5 0a1.25 1.25 0 1 0 -2.5 0M133.38 125.6a1.25 1.25 0 1 0 2.5 0a1.25 1.25 0 1 0 -2.5 0M95.31 153.4a1.25 1.25 0 1 0 2.5 0a1.25 1.25 0 1 0 -2.5 0M103.77 110.8a1.25 1.25 0 1 0 2.5 0a1.25 1.25 0 1 0 -2.5 0M111.17 126.6a1.25 1.25 0 1 0 2.5 0a1.25 1.25 0 1 0 -2.5 0M128.09 174.0a1.25 1.25 0 1 0 2.5 0a1.25 1.25 0 1 0 -2.5 0M171.45 162.2a1.25 1.25 0 1 0 2.5 0a1.25 1.25 0 1 0 -2.5 0M185.20 171.2a1.25 1.25 0 1 0 2.5 0a1.25 1.25 0 1 0 -2.5 0M133.38 157.3a1.25 1.25 0 1 0 2.5 0a1.25 1.25 0 1 0 -2.5 0M157.70 145.3a1.25 1.25 0 1 0 2.5 0a1.25 1.25 0 1 0 -2.5 0M160.87 163.0a1.25 1.25 0 1 0 2.5 0a1.25 1.25 0 1 0 -2.5 0M138.67 154.5a1.25 1.25 0 1 0 2.5 0a1.25 1.25 0 1 0 -2.5 0M152.41 131.3a1.25 1.25 0 1 0 2.5 0a1.25 1.25 0 1 0 -2.5 0M128.09 127.4a1.25 1.25 0 1 0 2.5 0a1.25 1.25 0 1 0 -2.5 0M166.16 113.4a1.25 1.25 0 1 0 2.5 0a1.25 1.25 0 1 0 -2.5 0M147.13 167.1a1.25 1.25 0 1 0 2.5 0a1.25 1.25 0 1 0 -2.5 0M152.41 169.1a1.25 1.25 0 1 0 2.5 0a1.25 1.25 0 1 0 -2.5 0M150.30 164.6a1.25 1.25 0 1 0 2.5 0a1.25 1.25 0 1 0 -2.5 0M122.80 172.5a1.25 1.25 0 1 0 2.5 0a1.25 1.25 0 1 0 -2.5 0M105.88 172.3a1.25 1.25 0 1 0 2.5 0a1.25 1.25 0 1 0 -2.5 0M141.84 131.2a1.25 1.25 0 1 0 2.5 0a1.25 1.25 0 1 0 -2.5 0M128.09 115.8a1.25 1.25 0 1 0 2.5 0a1.25 1.25 0 1 0 -2.5 0M128.09 177.7a1.25 1.25 0 1 0 2.5 0a1.25 1.25 0 1 0 -2.5 0M141.84 130.8a1.25 1.25 0 1 0 2.5 0a1.25 1.25 0 1 0 -2.5 0M122.80 206.1a1.25 1.25 0 1 0 2.5 0a1.25 1.25 0 1 0 -2.5 0M160.87 136.9a1.25 1.25 0 1 0 2.5 0a1.25 1.25 0 1 0 -2.5 0M157.70 107.0a1.25 1.25 0 1 0 2.5 0a1.25 1.25 0 1 0 -2.5 0M117.52 124.1a1.25 1.25 0 1 0 2.5 0a1.25 1.25 0 1 0 -2.5 0M157.70 172.3a1.25 1.25 0 1 0 2.5 0a1.25 1.25 0 1 0 -2.5 0M117.52 171.5a1.25 1.25 0 1 0 2.5 0a1.25 1.25 0 1 0 -2.5 0M171.45 159.4a1.25 1.25 0 1 0 2.5 0a1.25 1.25 0 1 0 -2.5 0M166.16 117.7a1.25 1.25 0 1 0 2.5 0a1.25 1.25 0 1 0 -2.5 0M143.95 141.0a1.25 1.25 0 1 0 2.5 0a1.25 1.25 0 1 0 -2.5 0M177.79 146.2a1.25 1.25 0 1 0 2.5 0a1.25 1.25 0 1 0 -2.5 0M183.08 138.5a1.25 1.25 0 1 0 2.5 0a1.25 1.25 0 1 0 -2.5 0M160.87 179.3a1.25 1.25 0 1 0 2.5 0a1.25 1.25 0 1 0 -2.5 0M95.31 204.1a1.25 1.25 0 1 0 2.5 0a1.25 1.25 0 1 0 -2.5 0M150.30 166.3a1.25 1.25 0 1 0 2.5 0a1.25 1.25 0 1 0 -2.5 0M152.41 164.0a1.25 1.25 0 1 0 2.5 0a1.25 1.25 0 1 0 -2.5 0M174.62 144.4a1.25 1.25 0 1 0 2.5 0a1.25 1.25 0 1 0 -2.5 0M114.34 147.8a1.25 1.25 0 1 0 2.5 0a1.25 1.25 0 1 0 -2.5 0M157.70 162.9a1.25 1.25 0 1 0 2.5 0a1.25 1.25 0 1 0 -2.5 0M157.70 166.1a1.25 1.25 0 1 0 2.5 0a1.25 1.25 0 1 0 -2.5 0M109.06 111.9a1.25 1.25 0 1 0 2.5 0a1.25 1.25 0 1 0 -2.5 0M119.63 148.0a1.25 1.25 0 1 0 2.5 0a1.25 1.25 0 1 0 -2.5 0M188.37 101.0a1.25 1.25 0 1 0 2.5 0a1.25 1.25 0 1 0 -2.5 0M174.62 101.4a1.25 1.25 0 1 0 2.5 0a1.25 1.25 0 1 0 -2.5 0M141.84 127.8a1.25 1.25 0 1 0 2.5 0a1.25 1.25 0 1 0 -2.5 0M185.20 131.6a1.25 1.25 0 1 0 2.5 0a1.25 1.25 0 1 0 -2.5 0M152.41 191.2a1.25 1.25 0 1 0 2.5 0a1.25 1.25 0 1 0 -2.5 0M131.26 114.6a1.25 1.25 0 1 0 2.5 0a1.25 1.25 0 1 0 -2.5 0M100.60 141.8a1.25 1.25 0 1 0 2.5 0a1.25 1.25 0 1 0 -2.5 0M183.08 134.5a1.25 1.25 0 1 0 2.5 0a1.25 1.25 0 1 0 -2.5 0M138.67 123.3a1.25 1.25 0 1 0 2.5 0a1.25 1.25 0 1 0 -2.5 0M152.41 146.0a1.25 1.25 0 1 0 2.5 0a1.25 1.25 0 1 0 -2.5 0M95.31 171.5a1.25 1.25 0 1 0 2.5 0a1.25 1.25 0 1 0 -2.5 0M128.09 162.0a1.25 1.25 0 1 0 2.5 0a1.25 1.25 0 1 0 -2.5 0M155.59 176.1a1.25 1.25 0 1 0 2.5 0a1.25 1.25 0 1 0 -2.5 0M136.55 124.2a1.25 1.25 0 1 0 2.5 0a1.25 1.25 0 1 0 -2.5 0M122.80 148.9a1.25 1.25 0 1 0 2.5 0a1.25 1.25 0 1 0 -2.5 0M111.17 145.7a1.25 1.25 0 1 0 2.5 0a1.25 1.25 0 1 0 -2.5 0M152.41 162.3a1.25 1.25 0 1 0 2.5 0a1.25 1.25 0 1 0 -2.5 0M133.38 152.3a1.25 1.25 0 1 0 2.5 0a1.25 1.25 0 1 0 -2.5 0M133.38 179.5a1.25 1.25 0 1 0 2.5 0a1.25 1.25 0 1 0 -2.5 0M136.55 146.2a1.25 1.25 0 1 0 2.5 0a1.25 1.25 0 1 0 -2.5 0M124.92 177.3a1.25 1.25 0 1 0 2.5 0a1.25 1.25 0 1 0 -2.5 0M133.38 142.0a1.25 1.25 0 1 0 2.5 0a1.25 1.25 0 1 0 -2.5 0M124.92 155.5a1.25 1.25 0 1 0 2.5 0a1.25 1.25 0 1 0 -2.5 0M143.95 138.1a1.25 1.25 0 1 0 2.5 0a1.25 1.25 0 1 0 -2.5 0M105.88 119.1a1.25 1.25 0 1 0 2.5 0a1.25 1.25 0 1 0 -2.5 0M111.17 135.7a1.25 1.25 0 1 0 2.5 0a1.25 1.25 0 1 0 -2.5 0M143.95 145.7a1.25 1.25 0 1 0 2.5 0a1.25 1.25 0 1 0 -2.5 0M138.67 126.9a1.25 1.25 0 1 0 2.5 0a1.25 1.25 0 1 0 -2.5 0M150.30 164.3a1.25 1.25 0 1 0 2.5 0a1.25 1.25 0 1 0 -2.5 0M171.45 139.7a1.25 1.25 0 1 0 2.5 0a1.25 1.25 0 1 0 -2.5 0M188.37 188.3a1.25 1.25 0 1 0 2.5 0a1.25 1.25 0 1 0 -2.5 0M157.70 167.7a1.25 1.25 0 1 0 2.5 0a1.25 1.25 0 1 0 -2.5 0M141.84 94.8a1.25 1.25 0 1 0 2.5 0a1.25 1.25 0 1 0 -2.5 0M119.63 142.1a1.25 1.25 0 1 0 2.5 0a1.25 1.25 0 1 0 -2.5 0M95.31 141.2a1.25 1.25 0 1 0 2.5 0a1.25 1.25 0 1 0 -2.5 0M103.77 131.5a1.25 1.25 0 1 0 2.5 0a1.25 1.25 0 1 0 -2.5 0M84.73 149.9a1.25 1.25 0 1 0 2.5 0a1.25 1.25 0 1 0 -2.5 0M111.17 158.5a1.25 1.25 0 1 0 2.5 0a1.25 1.25 0 1 0 -2.5 0M100.60 154.4a1.25 1.25 0 1 0 2.5 0a1.25 1.25 0 1 0 -2.5 0M114.34 120.0a1.25 1.25 0 1 0 2.5 0a1.25 1.25 0 1 0 -2.5 0M143.95 106.3a1.25 1.25 0 1 0 2.5 0a1.25 1.25 0 1 0 -2.5 0M131.26 162.9a1.25 1.25 0 1 0 2.5 0a1.25 1.25 0 1 0 -2.5 0M177.79 153.5a1.25 1.25 0 1 0 2.5 0a1.25 1.25 0 1 0 -2.5 0M177.79 138.5a1.25 1.25 0 1 0 2.5 0a1.25 1.25 0 1 0 -2.5 0M183.08 180.3a1.25 1.25 0 1 0 2.5 0a1.25 1.25 0 1 0 -2.5 0M174.62 148.2a1.25 1.25 0 1 0 2.5 0a1.25 1.25 0 1 0 -2.5 0M152.41 121.4a1.25 1.25 0 1 0 2.5 0a1.25 1.25 0 1 0 -2.5 0M128.09 118.2a1.25 1.25 0 1 0 2.5 0a1.25 1.25 0 1 0 -2.5 0M136.55 156.5a1.25 1.25 0 1 0 2.5 0a1.25 1.25 0 1 0 -2.5 0M138.67 147.8a1.25 1.25 0 1 0 2.5 0a1.25 1.25 0 1 0 -2.5 0M157.70 125.5a1.25 1.25 0 1 0 2.5 0a1.25 1.25 0 1 0 -2.5 0M111.17 137.9a1.25 1.25 0 1 0 2.5 0a1.25 1.25 0 1 0 -2.5 0M100.60 115.4a1.25 1.25 0 1 0 2.5 0a1.25 1.25 0 1 0 -2.5 0M155.59 147.9a1.25 1.25 0 1 0 2.5 0a1.25 1.25 0 1 0 -2.5 0M217.98 195.7a1.25 1.25 0 1 0 2.5 0a1.25 1.25 0 1 0 -2.5 0M185.20 171.0a1.25 1.25 0 1 0 2.5 0a1.25 1.25 0 1 0 -2.5 0M103.77 190.0a1.25 1.25 0 1 0 2.5 0a1.25 1.25 0 1 0 -2.5 0M124.92 143.2a1.25 1.25 0 1 0 2.5 0a1.25 1.25 0 1 0 -2.5 0M84.73 111.2a1.25 1.25 0 1 0 2.5 0a1.25 1.25 0 1 0 -2.5 0M119.63 132.2a1.25 1.25 0 1 0 2.5 0a1.25 1.25 0 1 0 -2.5 0M223.27 163.9a1.25 1.25 0 1 0 2.5 0a1.25 1.25 0 1 0 -2.5 0M210.58 203.6a1.25 1.25 0 1 0 2.5 0a1.25 1.25 0 1 0 -2.5 0M114.34 147.6a1.25 1.25 0 1 0 2.5 0a1.25 1.25 0 1 0 -2.5 0M133.38 166.3a1.25 1.25 0 1 0 2.5 0a1.25 1.25 0 1 0 -2.5 0M119.63 164.8a1.25 1.25 0 1 0 2.5 0a1.25 1.25 0 1 0 -2.5 0M105.88 146.8a1.25 1.25 0 1 0 2.5 0a1.25 1.25 0 1 0 -2.5 0M133.38 160.3a1.25 1.25 0 1 0 2.5 0a1.25 1.25 0 1 0 -2.5 0M147.13 169.2a1.25 1.25 0 1 0 2.5 0a1.25 1.25 0 1 0 -2.5 0M152.41 188.2a1.25 1.25 0 1 0 2.5 0a1.25 1.25 0 1 0 -2.5 0M169.33 126.7a1.25 1.25 0 1 0 2.5 0a1.25 1.25 0 1 0 -2.5 0M198.94 177.2a1.25 1.25 0 1 0 2.5 0a1.25 1.25 0 1 0 -2.5 0M141.84 199.8a1.25 1.25 0 1 0 2.5 0a1.25 1.25 0 1 0 -2.5 0M138.67 163.2a1.25 1.25 0 1 0 2.5 0a1.25 1.25 0 1 0 -2.5 0M143.95 143.2a1.25 1.25 0 1 0 2.5 0a1.25 1.25 0 1 0 -2.5 0M160.87 184.4a1.25 1.25 0 1 0 2.5 0a1.25 1.25 0 1 0 -2.5 0M138.67 152.5a1.25 1.25 0 1 0 2.5 0a1.25 1.25 0 1 0 -2.5 0M114.34 193.3a1.25 1.25 0 1 0 2.5 0a1.25 1.25 0 1 0 -2.5 0M128.09 118.0a1.25 1.25 0 1 0 2.5 0a1.25 1.25 0 1 0 -2.5 0M171.45 183.9a1.25 1.25 0 1 0 2.5 0a1.25 1.25 0 1 0 -2.5 0M114.34 151.5a1.25 1.25 0 1 0 2.5 0a1.25 1.25 0 1 0 -2.5 0M174.62 178.0a1.25 1.25 0 1 0 2.5 0a1.25 1.25 0 1 0 -2.5 0M105.88 163.9a1.25 1.25 0 1 0 2.5 0a1.25 1.25 0 1 0 -2.5 0M166.16 144.2a1.25 1.25 0 1 0 2.5 0a1.25 1.25 0 1 0 -2.5 0M166.16 168.1a1.25 1.25 0 1 0 2.5 0a1.25 1.25 0 1 0 -2.5 0M136.55 154.0a1.25 1.25 0 1 0 2.5 0a1.25 1.25 0 1 0 -2.5 0M143.95 120.1a1.25 1.25 0 1 0 2.5 0a1.25 1.25 0 1 0 -2.5 0M212.69 131.8a1.25 1.25 0 1 0 2.5 0a1.25 1.25 0 1 0 -2.5 0M131.26 149.6a1.25 1.25 0 1 0 2.5 0a1.25 1.25 0 1 0 -2.5 0M122.80 144.1a1.25 1.25 0 1 0 2.5 0a1.25 1.25 0 1 0 -2.5 0M157.70 184.8a1.25 1.25 0 1 0 2.5 0a1.25 1.25 0 1 0 -2.5 0M185.20 181.5a1.25 1.25 0 1 0 2.5 0a1.25 1.25 0 1 0 -2.5 0M155.59 180.9a1.25 1.25 0 1 0 2.5 0a1.25 1.25 0 1 0 -2.5 0M138.67 139.9a1.25 1.25 0 1 0 2.5 0a1.25 1.25 0 1 0 -2.5 0M183.08 155.9a1.25 1.25 0 1 0 2.5 0a1.25 1.25 0 1 0 -2.5 0M122.80 159.5a1.25 1.25 0 1 0 2.5 0a1.25 1.25 0 1 0 -2.5 0M109.06 149.7a1.25 1.25 0 1 0 2.5 0a1.25 1.25 0 1 0 -2.5 0M190.48 131.1a1.25 1.25 0 1 0 2.5 0a1.25 1.25 0 1 0 -2.5 0M86.85 135.5a1.25 1.25 0 1 0 2.5 0a1.25 1.25 0 1 0 -2.5 0M109.06 148.2a1.25 1.25 0 1 0 2.5 0a1.25 1.25 0 1 0 -2.5 0M152.41 138.5a1.25 1.25 0 1 0 2.5 0a1.25 1.25 0 1 0 -2.5 0M157.70 191.9a1.25 1.25 0 1 0 2.5 0a1.25 1.25 0 1 0 -2.5 0M215.86 151.2a1.25 1.25 0 1 0 2.5 0a1.25 1.25 0 1 0 -2.5 0M157.70 124.8a1.25 1.25 0 1 0 2.5 0a1.25 1.25 0 1 0 -2.5 0M128.09 106.3a1.25 1.25 0 1 0 2.5 0a1.25 1.25 0 1 0 -2.5 0M198.94 159.0a1.25 1.25 0 1 0 2.5 0a1.25 1.25 0 1 0 -2.5 0M185.20 115.5a1.25 1.25 0 1 0 2.5 0a1.25 1.25 0 1 0 -2.5 0M188.37 131.0a1.25 1.25 0 1 0 2.5 0a1.25 1.25 0 1 0 -2.5 0M185.20 162.6a1.25 1.25 0 1 0 2.5 0a1.25 1.25 0 1 0 -2.5 0M164.05 194.1a1.25 1.25 0 1 0 2.5 0a1.25 1.25 0 1 0 -2.5 0M103.77 140.6a1.25 1.25 0 1 0 2.5 0a1.25 1.25 0 1 0 -2.5 0M114.34 166.4a1.25 1.25 0 1 0 2.5 0a1.25 1.25 0 1 0 -2.5 0M226.44 123.2a1.25 1.25 0 1 0 2.5 0a1.25 1.25 0 1 0 -2.5 0M147.13 140.8a1.25 1.25 0 1 0 2.5 0a1.25 1.25 0 1 0 -2.5 0M95.31 186.9a1.25 1.25 0 1 0 2.5 0a1.25 1.25 0 1 0 -2.5 0M147.13 163.3a1.25 1.25 0 1 0 2.5 0a1.25 1.25 0 1 0 -2.5 0M179.91 142.3a1.25 1.25 0 1 0 2.5 0a1.25 1.25 0 1 0 -2.5 0M157.70 117.3a1.25 1.25 0 1 0 2.5 0a1.25 1.25 0 1 0 -2.5 0M84.73 133.9a1.25 1.25 0 1 0 2.5 0a1.25 1.25 0 1 0 -2.5 0M147.13 185.7a1.25 1.25 0 1 0 2.5 0a1.25 1.25 0 1 0 -2.5 0M138.67 157.3a1.25 1.25 0 1 0 2.5 0a1.25 1.25 0 1 0 -2.5 0M212.69 177.1a1.25 1.25 0 1 0 2.5 0a1.25 1.25 0 1 0 -2.5 0M143.95 126.6a1.25 1.25 0 1 0 2.5 0a1.25 1.25 0 1 0 -2.5 0M141.84 142.2a1.25 1.25 0 1 0 2.5 0a1.25 1.25 0 1 0 -2.5 0M131.26 103.8a1.25 1.25 0 1 0 2.5 0a1.25 1.25 0 1 0 -2.5 0M138.67 116.9a1.25 1.25 0 1 0 2.5 0a1.25 1.25 0 1 0 -2.5 0M152.41 170.9a1.25 1.25 0 1 0 2.5 0a1.25 1.25 0 1 0 -2.5 0M128.09 209.2a1.25 1.25 0 1 0 2.5 0a1.25 1.25 0 1 0 -2.5 0M117.52 156.5a1.25 1.25 0 1 0 2.5 0a1.25 1.25 0 1 0 -2.5 0M109.06 164.1a1.25 1.25 0 1 0 2.5 0a1.25 1.25 0 1 0 -2.5 0M147.13 148.6a1.25 1.25 0 1 0 2.5 0a1.25 1.25 0 1 0 -2.5 0M133.38 170.4a1.25 1.25 0 1 0 2.5 0a1.25 1.25 0 1 0 -2.5 0M133.38 168.1a1.25 1.25 0 1 0 2.5 0a1.25 1.25 0 1 0 -2.5 0M100.60 128.8a1.25 1.25 0 1 0 2.5 0a1.25 1.25 0 1 0 -2.5 0M119.63 143.7a1.25 1.25 0 1 0 2.5 0a1.25 1.25 0 1 0 -2.5 0M92.14 166.6a1.25 1.25 0 1 0 2.5 0a1.25 1.25 0 1 0 -2.5 0M179.91 142.0a1.25 1.25 0 1 0 2.5 0a1.25 1.25 0 1 0 -2.5 0M188.37 176.9a1.25 1.25 0 1 0 2.5 0a1.25 1.25 0 1 0 -2.5 0M157.70 151.5a1.25 1.25 0 1 0 2.5 0a1.25 1.25 0 1 0 -2.5 0M141.84 126.2a1.25 1.25 0 1 0 2.5 0a1.25 1.25 0 1 0 -2.5 0M160.87 165.4a1.25 1.25 0 1 0 2.5 0a1.25 1.25 0 1 0 -2.5 0M103.77 185.2a1.25 1.25 0 1 0 2.5 0a1.25 1.25 0 1 0 -2.5 0M105.88 145.5a1.25 1.25 0 1 0 2.5 0a1.25 1.25 0 1 0 -2.5 0M188.37 163.9a1.25 1.25 0 1 0 2.5 0a1.25 1.25 0 1 0 -2.5 0M114.34 103.0a1.25 1.25 0 1 0 2.5 0a1.25 1.25 0 1 0 -2.5 0M141.84 154.9a1.25 1.25 0 1 0 2.5 0a1.25 1.25 0 1 0 -2.5 0M122.80 167.9a1.25 1.25 0 1 0 2.5 0a1.25 1.25 0 1 0 -2.5 0M122.80 211.2a1.25 1.25 0 1 0 2.5 0a1.25 1.25 0 1 0 -2.5 0M174.62 175.9a1.25 1.25 0 1 0 2.5 0a1.25 1.25 0 1 0 -2.5 0M193.66 153.0a1.25 1.25 0 1 0 2.5 0a1.25 1.25 0 1 0 -2.5 0M100.60 136.6a1.25 1.25 0 1 0 2.5 0a1.25 1.25 0 1 0 -2.5 0M124.92 127.5a1.25 1.25 0 1 0 2.5 0a1.25 1.25 0 1 0 -2.5 0M179.91 135.6a1.25 1.25 0 1 0 2.5 0a1.25 1.25 0 1 0 -2.5 0M190.48 171.9a1.25 1.25 0 1 0 2.5 0a1.25 1.25 0 1 0 -2.5 0M207.40 175.9a1.25 1.25 0 1 0 2.5 0a1.25 1.25 0 1 0 -2.5 0M212.69 132.8a1.25 1.25 0 1 0 2.5 0a1.25 1.25 0 1 0 -2.5 0M131.26 169.2a1.25 1.25 0 1 0 2.5 0a1.25 1.25 0 1 0 -2.5 0M114.34 167.5a1.25 1.25 0 1 0 2.5 0a1.25 1.25 0 1 0 -2.5 0M177.79 168.6a1.25 1.25 0 1 0 2.5 0a1.25 1.25 0 1 0 -2.5 0M136.55 116.5a1.25 1.25 0 1 0 2.5 0a1.25 1.25 0 1 0 -2.5 0M143.95 202.5a1.25 1.25 0 1 0 2.5 0a1.25 1.25 0 1 0 -2.5 0M133.38 122.2a1.25 1.25 0 1 0 2.5 0a1.25 1.25 0 1 0 -2.5 0M131.26 128.0a1.25 1.25 0 1 0 2.5 0a1.25 1.25 0 1 0 -2.5 0M177.79 111.5a1.25 1.25 0 1 0 2.5 0a1.25 1.25 0 1 0 -2.5 0M114.34 138.3a1.25 1.25 0 1 0 2.5 0a1.25 1.25 0 1 0 -2.5 0M122.80 130.8a1.25 1.25 0 1 0 2.5 0a1.25 1.25 0 1 0 -2.5 0M147.13 175.7a1.25 1.25 0 1 0 2.5 0a1.25 1.25 0 1 0 -2.5 0M133.38 189.8a1.25 1.25 0 1 0 2.5 0a1.25 1.25 0 1 0 -2.5 0M138.67 151.1a1.25 1.25 0 1 0 2.5 0a1.25 1.25 0 1 0 -2.5 0M92.14 136.8a1.25 1.25 0 1 0 2.5 0a1.25 1.25 0 1 0 -2.5 0M117.52 142.8a1.25 1.25 0 1 0 2.5 0a1.25 1.25 0 1 0 -2.5 0M183.08 127.1a1.25 1.25 0 1 0 2.5 0a1.25 1.25 0 1 0 -2.5 0M138.67 121.7a1.25 1.25 0 1 0 2.5 0a1.25 1.25 0 1 0 -2.5 0M185.20 154.7a1.25 1.25 0 1 0 2.5 0a1.25 1.25 0 1 0 -2.5 0M124.92 151.8a1.25 1.25 0 1 0 2.5 0a1.25 1.25 0 1 0 -2.5 0M171.45 137.9a1.25 1.25 0 1 0 2.5 0a1.25 1.25 0 1 0 -2.5 0M150.30 174.2a1.25 1.25 0 1 0 2.5 0a1.25 1.25 0 1 0 -2.5 0M157.70 122.1a1.25 1.25 0 1 0 2.5 0a1.25 1.25 0 1 0 -2.5 0M183.08 152.4a1.25 1.25 0 1 0 2.5 0a1.25 1.25 0 1 0 -2.5 0M190.48 171.3a1.25 1.25 0 1 0 2.5 0a1.25 1.25 0 1 0 -2.5 0M117.52 154.5a1.25 1.25 0 1 0 2.5 0a1.25 1.25 0 1 0 -2.5 0M111.17 185.9a1.25 1.25 0 1 0 2.5 0a1.25 1.25 0 1 0 -2.5 0M133.38 177.3a1.25 1.25 0 1 0 2.5 0a1.25 1.25 0 1 0 -2.5 0M136.55 160.6a1.25 1.25 0 1 0 2.5 0a1.25 1.25 0 1 0 -2.5 0M169.33 168.4a1.25 1.25 0 1 0 2.5 0a1.25 1.25 0 1 0 -2.5 0M143.95 144.3a1.25 1.25 0 1 0 2.5 0a1.25 1.25 0 1 0 -2.5 0M150.30 141.2a1.25 1.25 0 1 0 2.5 0a1.25 1.25 0 1 0 -2.5 0M98.48 150.1a1.25 1.25 0 1 0 2.5 0a1.25 1.25 0 1 0 -2.5 0M141.84 152.3a1.25 1.25 0 1 0 2.5 0a1.25 1.25 0 1 0 -2.5 0M160.87 183.2a1.25 1.25 0 1 0 2.5 0a1.25 1.25 0 1 0 -2.5 0M212.69 166.8a1.25 1.25 0 1 0 2.5 0a1.25 1.25 0 1 0 -2.5 0M171.45 160.1a1.25 1.25 0 1 0 2.5 0a1.25 1.25 0 1 0 -2.5 0M147.13 172.5a1.25 1.25 0 1 0 2.5 0a1.25 1.25 0 1 0 -2.5 0M109.06 130.8a1.25 1.25 0 1 0 2.5 0a1.25 1.25 0 1 0 -2.5 0M141.84 138.1a1.25 1.25 0 1 0 2.5 0a1.25 1.25 0 1 0 -2.5 0M143.95 174.9a1.25 1.25 0 1 0 2.5 0a1.25 1.25 0 1 0 -2.5 0M138.67 165.2a1.25 1.25 0 1 0 2.5 0a1.25 1.25 0 1 0 -2.5 0M147.13 155.4a1.25 1.25 0 1 0 2.5 0a1.25 1.25 0 1 0 -2.5 0M160.87 151.8a1.25 1.25 0 1 0 2.5 0a1.25 1.25 0 1 0 -2.5 0M157.70 114.5a1.25 1.25 0 1 0 2.5 0a1.25 1.25 0 1 0 -2.5 0M114.34 168.4a1.25 1.25 0 1 0 2.5 0a1.25 1.25 0 1 0 -2.5 0M100.60 141.9a1.25 1.25 0 1 0 2.5 0a1.25 1.25 0 1 0 -2.5 0M155.59 137.6a1.25 1.25 0 1 0 2.5 0a1.25 1.25 0 1 0 -2.5 0M109.06 120.0a1.25 1.25 0 1 0 2.5 0a1.25 1.25 0 1 0 -2.5 0M136.55 179.8a1.25 1.25 0 1 0 2.5 0a1.25 1.25 0 1 0 -2.5 0M138.67 161.0a1.25 1.25 0 1 0 2.5 0a1.25 1.25 0 1 0 -2.5 0M119.63 147.5a1.25 1.25 0 1 0 2.5 0a1.25 1.25 0 1 0 -2.5 0M171.45 151.0a1.25 1.25 0 1 0 2.5 0a1.25 1.25 0 1 0 -2.5 0M166.16 196.5a1.25 1.25 0 1 0 2.5 0a1.25 1.25 0 1 0 -2.5 0M147.13 144.1a1.25 1.25 0 1 0 2.5 0a1.25 1.25 0 1 0 -2.5 0M164.05 117.1a1.25 1.25 0 1 0 2.5 0a1.25 1.25 0 1 0 -2.5 0M174.62 139.5a1.25 1.25 0 1 0 2.5 0a1.25 1.25 0 1 0 -2.5 0M133.38 158.0a1.25 1.25 0 1 0 2.5 0a1.25 1.25 0 1 0 -2.5 0M164.05 183.1a1.25 1.25 0 1 0 2.5 0a1.25 1.25 0 1 0 -2.5 0M147.13 181.2a1.25 1.25 0 1 0 2.5 0a1.25 1.25 0 1 0 -2.5 0M141.84 155.6a1.25 1.25 0 1 0 2.5 0a1.25 1.25 0 1 0 -2.5 0M128.09 174.1a1.25 1.25 0 1 0 2.5 0a1.25 1.25 0 1 0 -2.5 0M212.69 177.4a1.25 1.25 0 1 0 2.5 0a1.25 1.25 0 1 0 -2.5 0M152.41 198.8a1.25 1.25 0 1 0 2.5 0a1.25 1.25 0 1 0 -2.5 0M103.77 140.9a1.25 1.25 0 1 0 2.5 0a1.25 1.25 0 1 0 -2.5 0M160.87 133.5a1.25 1.25 0 1 0 2.5 0a1.25 1.25 0 1 0 -2.5 0M152.41 139.5a1.25 1.25 0 1 0 2.5 0a1.25 1.25 0 1 0 -2.5 0M169.33 153.1a1.25 1.25 0 1 0 2.5 0a1.25 1.25 0 1 0 -2.5 0M196.83 113.7a1.25 1.25 0 1 0 2.5 0a1.25 1.25 0 1 0 -2.5 0M150.30 158.0a1.25 1.25 0 1 0 2.5 0a1.25 1.25 0 1 0 -2.5 0M119.63 154.5a1.25 1.25 0 1 0 2.5 0a1.25 1.25 0 1 0 -2.5 0M223.27 189.9a1.25 1.25 0 1 0 2.5 0a1.25 1.25 0 1 0 -2.5 0M179.91 158.2a1.25 1.25 0 1 0 2.5 0a1.25 1.25 0 1 0 -2.5 0M190.48 167.7a1.25 1.25 0 1 0 2.5 0a1.25 1.25 0 1 0 -2.5 0M133.38 167.8a1.25 1.25 0 1 0 2.5 0a1.25 1.25 0 1 0 -2.5 0M164.05 116.3a1.25 1.25 0 1 0 2.5 0a1.25 1.25 0 1 0 -2.5 0M95.31 131.9a1.25 1.25 0 1 0 2.5 0a1.25 1.25 0 1 0 -2.5 0M157.70 128.8a1.25 1.25 0 1 0 2.5 0a1.25 1.25 0 1 0 -2.5 0M86.85 143.3a1.25 1.25 0 1 0 2.5 0a1.25 1.25 0 1 0 -2.5 0M111.17 177.7a1.25 1.25 0 1 0 2.5 0a1.25 1.25 0 1 0 -2.5 0M100.60 151.6a1.25 1.25 0 1 0 2.5 0a1.25 1.25 0 1 0 -2.5 0M185.20 129.4a1.25 1.25 0 1 0 2.5 0a1.25 1.25 0 1 0 -2.5 0M177.79 178.9a1.25 1.25 0 1 0 2.5 0a1.25 1.25 0 1 0 -2.5 0M124.92 158.7a1.25 1.25 0 1 0 2.5 0a1.25 1.25 0 1 0 -2.5 0M188.37 157.2a1.25 1.25 0 1 0 2.5 0a1.25 1.25 0 1 0 -2.5 0M143.95 127.8a1.25 1.25 0 1 0 2.5 0a1.25 1.25 0 1 0 -2.5 0M90.02 150.5a1.25 1.25 0 1 0 2.5 0a1.25 1.25 0 1 0 -2.5 0M131.26 134.6a1.25 1.25 0 1 0 2.5 0a1.25 1.25 0 1 0 -2.5 0M95.31 134.6a1.25 1.25 0 1 0 2.5 0a1.25 1.25 0 1 0 -2.5 0M143.95 161.7a1.25 1.25 0 1 0 2.5 0a1.25 1.25 0 1 0 -2.5 0M155.59 149.5a1.25 1.25 0 1 0 2.5 0a1.25 1.25 0 1 0 -2.5 0M119.63 186.5a1.25 1.25 0 1 0 2.5 0a1.25 1.25 0 1 0 -2.5 0M171.45 168.4a1.25 1.25 0 1 0 2.5 0a1.25 1.25 0 1 0 -2.5 0M179.91 141.1a1.25 1.25 0 1 0 2.5 0a1.25 1.25 0 1 0 -2.5 0M114.34 141.6a1.25 1.25 0 1 0 2.5 0a1.25 1.25 0 1 0 -2.5 0M160.87 145.1a1.25 1.25 0 1 0 2.5 0a1.25 1.25 0 1 0 -2.5 0M138.67 152.3a1.25 1.25 0 1 0 2.5 0a1.25 1.25 0 1 0 -2.5 0M133.38 130.8a1.25 1.25 0 1 0 2.5 0a1.25 1.25 0 1 0 -2.5 0M210.58 139.0a1.25 1.25 0 1 0 2.5 0a1.25 1.25 0 1 0 -2.5 0M119.63 149.8a1.25 1.25 0 1 0 2.5 0a1.25 1.25 0 1 0 -2.5 0M131.26 194.7a1.25 1.25 0 1 0 2.5 0a1.25 1.25 0 1 0 -2.5 0M164.05 92.5a1.25 1.25 0 1 0 2.5 0a1.25 1.25 0 1 0 -2.5 0M169.33 175.5a1.25 1.25 0 1 0 2.5 0a1.25 1.25 0 1 0 -2.5 0M114.34 110.5a1.25 1.25 0 1 0 2.5 0a1.25 1.25 0 1 0 -2.5 0M196.83 160.8a1.25 1.25 0 1 0 2.5 0a1.25 1.25 0 1 0 -2.5 0M217.98 123.1a1.25 1.25 0 1 0 2.5 0a1.25 1.25 0 1 0 -2.5 0M226.44 177.9a1.25 1.25 0 1 0 2.5 0a1.25 1.25 0 1 0 -2.5 0M147.13 152.8a1.25 1.25 0 1 0 2.5 0a1.25 1.25 0 1 0 -2.5 0M128.09 163.7a1.25 1.25 0 1 0 2.5 0a1.25 1.25 0 1 0 -2.5 0M111.17 130.5a1.25 1.25 0 1 0 2.5 0a1.25 1.25 0 1 0 -2.5 0M155.59 128.5a1.25 1.25 0 1 0 2.5 0a1.25 1.25 0 1 0 -2.5 0M138.67 148.6a1.25 1.25 0 1 0 2.5 0a1.25 1.25 0 1 0 -2.5 0M122.80 148.9a1.25 1.25 0 1 0 2.5 0a1.25 1.25 0 1 0 -2.5 0M86.85 176.8a1.25 1.25 0 1 0 2.5 0a1.25 1.25 0 1 0 -2.5 0M133.38 110.0a1.25 1.25 0 1 0 2.5 0a1.25 1.25 0 1 0 -2.5 0M136.55 165.1a1.25 1.25 0 1 0 2.5 0a1.25 1.25 0 1 0 -2.5 0M131.26 208.3a1.25 1.25 0 1 0 2.5 0a1.25 1.25 0 1 0 -2.5 0M103.77 153.4a1.25 1.25 0 1 0 2.5 0a1.25 1.25 0 1 0 -2.5 0M133.38 186.9a1.25 1.25 0 1 0 2.5 0a1.25 1.25 0 1 0 -2.5 0M138.67 139.8a1.25 1.25 0 1 0 2.5 0a1.25 1.25 0 1 0 -2.5 0M109.06 183.6a1.25 1.25 0 1 0 2.5 0a1.25 1.25 0 1 0 -2.5 0M166.16 142.5a1.25 1.25 0 1 0 2.5 0a1.25 1.25 0 1 0 -2.5 0M141.84 196.0a1.25 1.25 0 1 0 2.5 0a1.25 1.25 0 1 0 -2.5 0M147.13 121.4a1.25 1.25 0 1 0 2.5 0a1.25 1.25 0 1 0 -2.5 0M155.59 154.3a1.25 1.25 0 1 0 2.5 0a1.25 1.25 0 1 0 -2.5 0M133.38 132.8a1.25 1.25 0 1 0 2.5 0a1.25 1.25 0 1 0 -2.5 0M138.67 158.5a1.25 1.25 0 1 0 2.5 0a1.25 1.25 0 1 0 -2.5 0M160.87 99.0a1.25 1.25 0 1 0 2.5 0a1.25 1.25 0 1 0 -2.5 0M169.33 159.6a1.25 1.25 0 1 0 2.5 0a1.25 1.25 0 1 0 -2.5 0M174.62 136.7a1.25 1.25 0 1 0 2.5 0a1.25 1.25 0 1 0 -2.5 0M136.55 155.6a1.25 1.25 0 1 0 2.5 0a1.25 1.25 0 1 0 -2.5 0M171.45 121.6a1.25 1.25 0 1 0 2.5 0a1.25 1.25 0 1 0 -2.5 0M185.20 193.4a1.25 1.25 0 1 0 2.5 0a1.25 1.25 0 1 0 -2.5 0M103.77 193.2a1.25 1.25 0 1 0 2.5 0a1.25 1.25 0 1 0 -2.5 0M131.26 138.9a1.25 1.25 0 1 0 2.5 0a1.25 1.25 0 1 0 -2.5 0M141.84 173.3a1.25 1.25 0 1 0 2.5 0a1.25 1.25 0 1 0 -2.5 0M141.84 180.2a1.25 1.25 0 1 0 2.5 0a1.25 1.25 0 1 0 -2.5 0M215.86 144.1a1.25 1.25 0 1 0 2.5 0a1.25 1.25 0 1 0 -2.5 0M188.37 156.2a1.25 1.25 0 1 0 2.5 0a1.25 1.25 0 1 0 -2.5 0M138.67 151.2a1.25 1.25 0 1 0 2.5 0a1.25 1.25 0 1 0 -2.5 0M103.77 166.7a1.25 1.25 0 1 0 2.5 0a1.25 1.25 0 1 0 -2.5 0M114.34 181.2a1.25 1.25 0 1 0 2.5 0a1.25 1.25 0 1 0 -2.5 0M196.83 136.4a1.25 1.25 0 1 0 2.5 0a1.25 1.25 0 1 0 -2.5 0M95.31 136.2a1.25 1.25 0 1 0 2.5 0a1.25 1.25 0 1 0 -2.5 0M166.16 118.4a1.25 1.25 0 1 0 2.5 0a1.25 1.25 0 1 0 -2.5 0M122.80 167.7a1.25 1.25 0 1 0 2.5 0a1.25 1.25 0 1 0 -2.5 0M133.38 179.2a1.25 1.25 0 1 0 2.5 0a1.25 1.25 0 1 0 -2.5 0M217.98 134.4a1.25 1.25 0 1 0 2.5 0a1.25 1.25 0 1 0 -2.5 0M155.59 136.1a1.25 1.25 0 1 0 2.5 0a1.25 1.25 0 1 0 -2.5 0M160.87 179.2a1.25 1.25 0 1 0 2.5 0a1.25 1.25 0 1 0 -2.5 0M183.08 168.4a1.25 1.25 0 1 0 2.5 0a1.25 1.25 0 1 0 -2.5 0M86.85 130.0a1.25 1.25 0 1 0 2.5 0a1.25 1.25 0 1 0 -2.5 0M98.48 187.5a1.25 1.25 0 1 0 2.5 0a1.25 1.25 0 1 0 -2.5 0M122.80 146.5a1.25 1.25 0 1 0 2.5 0a1.25 1.25 0 1 0 -2.5 0M169.33 207.6a1.25 1.25 0 1 0 2.5 0a1.25 1.25 0 1 0 -2.5 0M109.06 134.7a1.25 1.25 0 1 0 2.5 0a1.25 1.25 0 1 0 -2.5 0M95.31 159.0a1.25 1.25 0 1 0 2.5 0a1.25 1.25 0 1 0 -2.5 0M188.37 203.9a1.25 1.25 0 1 0 2.5 0a1.25 1.25 0 1 0 -2.5 0M133.38 156.2a1.25 1.25 0 1 0 2.5 0a1.25 1.25 0 1 0 -2.5 0M179.91 157.1a1.25 1.25 0 1 0 2.5 0a1.25 1.25 0 1 0 -2.5 0M160.87 159.7a1.25 1.25 0 1 0 2.5 0a1.25 1.25 0 1 0 -2.5 0M136.55 140.5a1.25 1.25 0 1 0 2.5 0a1.25 1.25 0 1 0 -2.5 0M212.69 201.7a1.25 1.25 0 1 0 2.5 0a1.25 1.25 0 1 0 -2.5 0M136.55 170.9a1.25 1.25 0 1 0 2.5 0a1.25 1.25 0 1 0 -2.5 0M117.52 148.5a1.25 1.25 0 1 0 2.5 0a1.25 1.25 0 1 0 -2.5 0M114.34 149.2a1.25 1.25 0 1 0 2.5 0a1.25 1.25 0 1 0 -2.5 0M152.41 168.5a1.25 1.25 0 1 0 2.5 0a1.25 1.25 0 1 0 -2.5 0M111.17 170.9a1.25 1.25 0 1 0 2.5 0a1.25 1.25 0 1 0 -2.5 0M122.80 138.6a1.25 1.25 0 1 0 2.5 0a1.25 1.25 0 1 0 -2.5 0M202.12 164.5a1.25 1.25 0 1 0 2.5 0a1.25 1.25 0 1 0 -2.5 0M150.30 132.0a1.25 1.25 0 1 0 2.5 0a1.25 1.25 0 1 0 -2.5 0M188.37 163.3a1.25 1.25 0 1 0 2.5 0a1.25 1.25 0 1 0 -2.5 0M157.70 109.7a1.25 1.25 0 1 0 2.5 0a1.25 1.25 0 1 0 -2.5 0M124.92 173.3a1.25 1.25 0 1 0 2.5 0a1.25 1.25 0 1 0 -2.5 0M119.63 161.9a1.25 1.25 0 1 0 2.5 0a1.25 1.25 0 1 0 -2.5 0M150.30 132.5a1.25 1.25 0 1 0 2.5 0a1.25 1.25 0 1 0 -2.5 0M147.13 154.2a1.25 1.25 0 1 0 2.5 0a1.25 1.25 0 1 0 -2.5 0M128.09 130.2a1.25 1.25 0 1 0 2.5 0a1.25 1.25 0 1 0 -2.5 0M128.09 133.9a1.25 1.25 0 1 0 2.5 0a1.25 1.25 0 1 0 -2.5 0M202.12 133.7a1.25 1.25 0 1 0 2.5 0a1.25 1.25 0 1 0 -2.5 0M183.08 190.4a1.25 1.25 0 1 0 2.5 0a1.25 1.25 0 1 0 -2.5 0M155.59 131.3a1.25 1.25 0 1 0 2.5 0a1.25 1.25 0 1 0 -2.5 0M133.38 152.4a1.25 1.25 0 1 0 2.5 0a1.25 1.25 0 1 0 -2.5 0M131.26 145.1a1.25 1.25 0 1 0 2.5 0a1.25 1.25 0 1 0 -2.5 0M124.92 139.4a1.25 1.25 0 1 0 2.5 0a1.25 1.25 0 1 0 -2.5 0M124.92 142.5a1.25 1.25 0 1 0 2.5 0a1.25 1.25 0 1 0 -2.5 0M103.77 137.0a1.25 1.25 0 1 0 2.5 0a1.25 1.25 0 1 0 -2.5 0M141.84 158.2a1.25 1.25 0 1 0 2.5 0a1.25 1.25 0 1 0 -2.5 0M204.23 141.8a1.25 1.25 0 1 0 2.5 0a1.25 1.25 0 1 0 -2.5 0M160.87 158.3a1.25 1.25 0 1 0 2.5 0a1.25 1.25 0 1 0 -2.5 0M136.55 155.7a1.25 1.25 0 1 0 2.5 0a1.25 1.25 0 1 0 -2.5 0M179.91 141.6a1.25 1.25 0 1 0 2.5 0a1.25 1.25 0 1 0 -2.5 0M136.55 125.8a1.25 1.25 0 1 0 2.5 0a1.25 1.25 0 1 0 -2.5 0M160.87 106.4a1.25 1.25 0 1 0 2.5 0a1.25 1.25 0 1 0 -2.5 0M138.67 121.6a1.25 1.25 0 1 0 2.5 0a1.25 1.25 0 1 0 -2.5 0M95.31 146.9a1.25 1.25 0 1 0 2.5 0a1.25 1.25 0 1 0 -2.5 0M157.70 174.1a1.25 1.25 0 1 0 2.5 0a1.25 1.25 0 1 0 -2.5 0M128.09 142.4a1.25 1.25 0 1 0 2.5 0a1.25 1.25 0 1 0 -2.5 0M138.67 178.8a1.25 1.25 0 1 0 2.5 0a1.25 1.25 0 1 0 -2.5 0M157.70 179.5a1.25 1.25 0 1 0 2.5 0a1.25 1.25 0 1 0 -2.5 0M103.77 200.9a1.25 1.25 0 1 0 2.5 0a1.25 1.25 0 1 0 -2.5 0M164.05 119.7a1.25 1.25 0 1 0 2.5 0a1.25 1.25 0 1 0 -2.5 0M166.16 122.4a1.25 1.25 0 1 0 2.5 0a1.25 1.25 0 1 0 -2.5 0M226.44 184.0a1.25 1.25 0 1 0 2.5 0a1.25 1.25 0 1 0 -2.5 0M174.62 150.1a1.25 1.25 0 1 0 2.5 0a1.25 1.25 0 1 0 -2.5 0M155.59 142.6a1.25 1.25 0 1 0 2.5 0a1.25 1.25 0 1 0 -2.5 0M124.92 109.5a1.25 1.25 0 1 0 2.5 0a1.25 1.25 0 1 0 -2.5 0M143.95 113.4a1.25 1.25 0 1 0 2.5 0a1.25 1.25 0 1 0 -2.5 0M103.77 173.3a1.25 1.25 0 1 0 2.5 0a1.25 1.25 0 1 0 -2.5 0M157.70 143.6a1.25 1.25 0 1 0 2.5 0a1.25 1.25 0 1 0 -2.5 0M138.67 193.7a1.25 1.25 0 1 0 2.5 0a1.25 1.25 0 1 0 -2.5 0M133.38 154.3a1.25 1.25 0 1 0 2.5 0a1.25 1.25 0 1 0 -2.5 0M143.95 150.5a1.25 1.25 0 1 0 2.5 0a1.25 1.25 0 1 0 -2.5 0M160.87 160.2a1.25 1.25 0 1 0 2.5 0a1.25 1.25 0 1 0 -2.5 0M152.41 182.7a1.25 1.25 0 1 0 2.5 0a1.25 1.25 0 1 0 -2.5 0M109.06 159.3a1.25 1.25 0 1 0 2.5 0a1.25 1.25 0 1 0 -2.5 0M196.83 96.4a1.25 1.25 0 1 0 2.5 0a1.25 1.25 0 1 0 -2.5 0M143.95 168.9a1.25 1.25 0 1 0 2.5 0a1.25 1.25 0 1 0 -2.5 0M155.59 152.2a1.25 1.25 0 1 0 2.5 0a1.25 1.25 0 1 0 -2.5 0M143.95 126.4a1.25 1.25 0 1 0 2.5 0a1.25 1.25 0 1 0 -2.5 0M117.52 128.0a1.25 1.25 0 1 0 2.5 0a1.25 1.25 0 1 0 -2.5 0M152.41 162.1a1.25 1.25 0 1 0 2.5 0a1.25 1.25 0 1 0 -2.5 0M131.26 112.1a1.25 1.25 0 1 0 2.5 0a1.25 1.25 0 1 0 -2.5 0M117.52 111.9a1.25 1.25 0 1 0 2.5 0a1.25 1.25 0 1 0 -2.5 0M147.13 146.0a1.25 1.25 0 1 0 2.5 0a1.25 1.25 0 1 0 -2.5 0M171.45 144.3a1.25 1.25 0 1 0 2.5 0a1.25 1.25 0 1 0 -2.5 0M166.16 155.1a1.25 1.25 0 1 0 2.5 0a1.25 1.25 0 1 0 -2.5 0M150.30 136.6a1.25 1.25 0 1 0 2.5 0a1.25 1.25 0 1 0 -2.5 0M124.92 142.4a1.25 1.25 0 1 0 2.5 0a1.25 1.25 0 1 0 -2.5 0M133.38 120.0a1.25 1.25 0 1 0 2.5 0a1.25 1.25 0 1 0 -2.5 0M138.67 196.2a1.25 1.25 0 1 0 2.5 0a1.25 1.25 0 1 0 -2.5 0M103.77 123.7a1.25 1.25 0 1 0 2.5 0a1.25 1.25 0 1 0 -2.5 0M171.45 155.6a1.25 1.25 0 1 0 2.5 0a1.25 1.25 0 1 0 -2.5 0M147.13 112.4a1.25 1.25 0 1 0 2.5 0a1.25 1.25 0 1 0 -2.5 0M105.88 117.1a1.25 1.25 0 1 0 2.5 0a1.25 1.25 0 1 0 -2.5 0M202.12 157.4a1.25 1.25 0 1 0 2.5 0a1.25 1.25 0 1 0 -2.5 0M223.27 154.5a1.25 1.25 0 1 0 2.5 0a1.25 1.25 0 1 0 -2.5 0M105.88 161.6a1.25 1.25 0 1 0 2.5 0a1.25 1.25 0 1 0 -2.5 0M138.67 178.1a1.25 1.25 0 1 0 2.5 0a1.25 1.25 0 1 0 -2.5 0M119.63 155.5a1.25 1.25 0 1 0 2.5 0a1.25 1.25 0 1 0 -2.5 0M171.45 131.3a1.25 1.25 0 1 0 2.5 0a1.25 1.25 0 1 0 -2.5 0M105.88 155.7a1.25 1.25 0 1 0 2.5 0a1.25 1.25 0 1 0 -2.5 0M160.87 187.8a1.25 1.25 0 1 0 2.5 0a1.25 1.25 0 1 0 -2.5 0M155.59 153.0a1.25 1.25 0 1 0 2.5 0a1.25 1.25 0 1 0 -2.5 0M185.20 182.4a1.25 1.25 0 1 0 2.5 0a1.25 1.25 0 1 0 -2.5 0M92.14 147.7a1.25 1.25 0 1 0 2.5 0a1.25 1.25 0 1 0 -2.5 0M119.63 132.9a1.25 1.25 0 1 0 2.5 0a1.25 1.25 0 1 0 -2.5 0M136.55 126.9a1.25 1.25 0 1 0 2.5 0a1.25 1.25 0 1 0 -2.5 0M179.91 123.1a1.25 1.25 0 1 0 2.5 0a1.25 1.25 0 1 0 -2.5 0M147.13 174.7a1.25 1.25 0 1 0 2.5 0a1.25 1.25 0 1 0 -2.5 0M157.70 154.2a1.25 1.25 0 1 0 2.5 0a1.25 1.25 0 1 0 -2.5 0M117.52 157.7a1.25 1.25 0 1 0 2.5 0a1.25 1.25 0 1 0 -2.5 0M138.67 132.7a1.25 1.25 0 1 0 2.5 0a1.25 1.25 0 1 0 -2.5 0M131.26 134.1a1.25 1.25 0 1 0 2.5 0a1.25 1.25 0 1 0 -2.5 0M133.38 160.1a1.25 1.25 0 1 0 2.5 0a1.25 1.25 0 1 0 -2.5 0M117.52 150.0a1.25 1.25 0 1 0 2.5 0a1.25 1.25 0 1 0 -2.5 0M171.45 131.1a1.25 1.25 0 1 0 2.5 0a1.25 1.25 0 1 0 -2.5 0M152.41 171.5a1.25 1.25 0 1 0 2.5 0a1.25 1.25 0 1 0 -2.5 0M92.14 208.1a1.25 1.25 0 1 0 2.5 0a1.25 1.25 0 1 0 -2.5 0M169.33 145.2a1.25 1.25 0 1 0 2.5 0a1.25 1.25 0 1 0 -2.5 0M124.92 148.4a1.25 1.25 0 1 0 2.5 0a1.25 1.25 0 1 0 -2.5 0M103.77 164.9a1.25 1.25 0 1 0 2.5 0a1.25 1.25 0 1 0 -2.5 0M188.37 120.8a1.25 1.25 0 1 0 2.5 0a1.25 1.25 0 1 0 -2.5 0M141.84 156.8a1.25 1.25 0 1 0 2.5 0a1.25 1.25 0 1 0 -2.5 0M155.59 173.7a1.25 1.25 0 1 0 2.5 0a1.25 1.25 0 1 0 -2.5 0M138.67 147.0a1.25 1.25 0 1 0 2.5 0a1.25 1.25 0 1 0 -2.5 0M141.84 106.5a1.25 1.25 0 1 0 2.5 0a1.25 1.25 0 1 0 -2.5 0M95.31 179.8a1.25 1.25 0 1 0 2.5 0a1.25 1.25 0 1 0 -2.5 0M169.33 132.1a1.25 1.25 0 1 0 2.5 0a1.25 1.25 0 1 0 -2.5 0M119.63 186.7a1.25 1.25 0 1 0 2.5 0a1.25 1.25 0 1 0 -2.5 0M143.95 134.8a1.25 1.25 0 1 0 2.5 0a1.25 1.25 0 1 0 -2.5 0M141.84 166.4a1.25 1.25 0 1 0 2.5 0a1.25 1.25 0 1 0 -2.5 0M114.34 163.3a1.25 1.25 0 1 0 2.5 0a1.25 1.25 0 1 0 -2.5 0M105.88 132.9a1.25 1.25 0 1 0 2.5 0a1.25 1.25 0 1 0 -2.5 0M190.48 202.8a1.25 1.25 0 1 0 2.5 0a1.25 1.25 0 1 0 -2.5 0M122.80 158.8a1.25 1.25 0 1 0 2.5 0a1.25 1.25 0 1 0 -2.5 0M124.92 174.7a1.25 1.25 0 1 0 2.5 0a1.25 1.25 0 1 0 -2.5 0M147.13 122.4a1.25 1.25 0 1 0 2.5 0a1.25 1.25 0 1 0 -2.5 0M124.92 150.9a1.25 1.25 0 1 0 2.5 0a1.25 1.25 0 1 0 -2.5 0M193.66 179.4a1.25 1.25 0 1 0 2.5 0a1.25 1.25 0 1 0 -2.5 0M157.70 131.5a1.25 1.25 0 1 0 2.5 0a1.25 1.25 0 1 0 -2.5 0M150.30 157.3a1.25 1.25 0 1 0 2.5 0a1.25 1.25 0 1 0 -2.5 0M124.92 143.7a1.25 1.25 0 1 0 2.5 0a1.25 1.25 0 1 0 -2.5 0M150.30 128.8a1.25 1.25 0 1 0 2.5 0a1.25 1.25 0 1 0 -2.5 0M111.17 181.4a1.25 1.25 0 1 0 2.5 0a1.25 1.25 0 1 0 -2.5 0M131.26 136.1a1.25 1.25 0 1 0 2.5 0a1.25 1.25 0 1 0 -2.5 0M133.38 128.3a1.25 1.25 0 1 0 2.5 0a1.25 1.25 0 1 0 -2.5 0M166.16 178.2a1.25 1.25 0 1 0 2.5 0a1.25 1.25 0 1 0 -2.5 0M136.55 112.1a1.25 1.25 0 1 0 2.5 0a1.25 1.25 0 1 0 -2.5 0M103.77 144.2a1.25 1.25 0 1 0 2.5 0a1.25 1.25 0 1 0 -2.5 0M143.95 168.6a1.25 1.25 0 1 0 2.5 0a1.25 1.25 0 1 0 -2.5 0M138.67 159.7a1.25 1.25 0 1 0 2.5 0a1.25 1.25 0 1 0 -2.5 0M128.09 153.4a1.25 1.25 0 1 0 2.5 0a1.25 1.25 0 1 0 -2.5 0M174.62 142.4a1.25 1.25 0 1 0 2.5 0a1.25 1.25 0 1 0 -2.5 0M188.37 190.8a1.25 1.25 0 1 0 2.5 0a1.25 1.25 0 1 0 -2.5 0M122.80 182.6a1.25 1.25 0 1 0 2.5 0a1.25 1.25 0 1 0 -2.5 0M122.80 117.3a1.25 1.25 0 1 0 2.5 0a1.25 1.25 0 1 0 -2.5 0M124.92 98.7a1.25 1.25 0 1 0 2.5 0a1.25 1.25 0 1 0 -2.5 0M174.62 158.6a1.25 1.25 0 1 0 2.5 0a1.25 1.25 0 1 0 -2.5 0M117.52 191.0a1.25 1.25 0 1 0 2.5 0a1.25 1.25 0 1 0 -2.5 0M177.79 178.8a1.25 1.25 0 1 0 2.5 0a1.25 1.25 0 1 0 -2.5 0M169.33 109.3a1.25 1.25 0 1 0 2.5 0a1.25 1.25 0 1 0 -2.5 0M166.16 148.4a1.25 1.25 0 1 0 2.5 0a1.25 1.25 0 1 0 -2.5 0M169.33 182.3a1.25 1.25 0 1 0 2.5 0a1.25 1.25 0 1 0 -2.5 0M141.84 119.2a1.25 1.25 0 1 0 2.5 0a1.25 1.25 0 1 0 -2.5 0M183.08 141.4a1.25 1.25 0 1 0 2.5 0a1.25 1.25 0 1 0 -2.5 0M185.20 172.2a1.25 1.25 0 1 0 2.5 0a1.25 1.25 0 1 0 -2.5 0M157.70 184.4a1.25 1.25 0 1 0 2.5 0a1.25 1.25 0 1 0 -2.5 0M143.95 195.1a1.25 1.25 0 1 0 2.5 0a1.25 1.25 0 1 0 -2.5 0M196.83 154.6a1.25 1.25 0 1 0 2.5 0a1.25 1.25 0 1 0 -2.5 0M204.23 142.0a1.25 1.25 0 1 0 2.5 0a1.25 1.25 0 1 0 -2.5 0M124.92 111.8a1.25 1.25 0 1 0 2.5 0a1.25 1.25 0 1 0 -2.5 0M177.79 112.9a1.25 1.25 0 1 0 2.5 0a1.25 1.25 0 1 0 -2.5 0M147.13 126.3a1.25 1.25 0 1 0 2.5 0a1.25 1.25 0 1 0 -2.5 0M136.55 168.4a1.25 1.25 0 1 0 2.5 0a1.25 1.25 0 1 0 -2.5 0M124.92 137.7a1.25 1.25 0 1 0 2.5 0a1.25 1.25 0 1 0 -2.5 0M117.52 158.3a1.25 1.25 0 1 0 2.5 0a1.25 1.25 0 1 0 -2.5 0M179.91 151.2a1.25 1.25 0 1 0 2.5 0a1.25 1.25 0 1 0 -2.5 0M114.34 163.0a1.25 1.25 0 1 0 2.5 0a1.25 1.25 0 1 0 -2.5 0M169.33 153.7a1.25 1.25 0 1 0 2.5 0a1.25 1.25 0 1 0 -2.5 0M131.26 124.9a1.25 1.25 0 1 0 2.5 0a1.25 1.25 0 1 0 -2.5 0M198.94 140.9a1.25 1.25 0 1 0 2.5 0a1.25 1.25 0 1 0 -2.5 0M210.58 193.8a1.25 1.25 0 1 0 2.5 0a1.25 1.25 0 1 0 -2.5 0M190.48 166.8a1.25 1.25 0 1 0 2.5 0a1.25 1.25 0 1 0 -2.5 0M92.14 180.6a1.25 1.25 0 1 0 2.5 0a1.25 1.25 0 1 0 -2.5 0M103.77 194.5a1.25 1.25 0 1 0 2.5 0a1.25 1.25 0 1 0 -2.5 0M128.09 152.7a1.25 1.25 0 1 0 2.5 0a1.25 1.25 0 1 0 -2.5 0M147.13 134.6a1.25 1.25 0 1 0 2.5 0a1.25 1.25 0 1 0 -2.5 0M169.33 139.7a1.25 1.25 0 1 0 2.5 0a1.25 1.25 0 1 0 -2.5 0M136.55 165.9a1.25 1.25 0 1 0 2.5 0a1.25 1.25 0 1 0 -2.5 0M147.13 172.3a1.25 1.25 0 1 0 2.5 0a1.25 1.25 0 1 0 -2.5 0M143.95 131.5a1.25 1.25 0 1 0 2.5 0a1.25 1.25 0 1 0 -2.5 0M109.06 164.1a1.25 1.25 0 1 0 2.5 0a1.25 1.25 0 1 0 -2.5 0M221.15 113.0a1.25 1.25 0 1 0 2.5 0a1.25 1.25 0 1 0 -2.5 0M217.98 128.4a1.25 1.25 0 1 0 2.5 0a1.25 1.25 0 1 0 -2.5 0M147.13 125.8a1.25 1.25 0 1 0 2.5 0a1.25 1.25 0 1 0 -2.5 0M141.84 146.6a1.25 1.25 0 1 0 2.5 0a1.25 1.25 0 1 0 -2.5 0M226.44 179.7a1.25 1.25 0 1 0 2.5 0a1.25 1.25 0 1 0 -2.5 0M147.13 119.1a1.25 1.25 0 1 0 2.5 0a1.25 1.25 0 1 0 -2.5 0M169.33 168.1a1.25 1.25 0 1 0 2.5 0a1.25 1.25 0 1 0 -2.5 0M133.38 151.0a1.25 1.25 0 1 0 2.5 0a1.25 1.25 0 1 0 -2.5 0M157.70 130.7a1.25 1.25 0 1 0 2.5 0a1.25 1.25 0 1 0 -2.5 0M86.85 159.5a1.25 1.25 0 1 0 2.5 0a1.25 1.25 0 1 0 -2.5 0M164.05 188.3a1.25 1.25 0 1 0 2.5 0a1.25 1.25 0 1 0 -2.5 0M138.67 121.7a1.25 1.25 0 1 0 2.5 0a1.25 1.25 0 1 0 -2.5 0M160.87 105.3a1.25 1.25 0 1 0 2.5 0a1.25 1.25 0 1 0 -2.5 0M150.30 174.3a1.25 1.25 0 1 0 2.5 0a1.25 1.25 0 1 0 -2.5 0M169.33 120.4a1.25 1.25 0 1 0 2.5 0a1.25 1.25 0 1 0 -2.5 0M155.59 98.8a1.25 1.25 0 1 0 2.5 0a1.25 1.25 0 1 0 -2.5 0M141.84 102.1a1.25 1.25 0 1 0 2.5 0a1.25 1.25 0 1 0 -2.5 0M160.87 122.4a1.25 1.25 0 1 0 2.5 0a1.25 1.25 0 1 0 -2.5 0M124.92 166.8a1.25 1.25 0 1 0 2.5 0a1.25 1.25 0 1 0 -2.5 0M204.23 191.3a1.25 1.25 0 1 0 2.5 0a1.25 1.25 0 1 0 -2.5 0M117.52 166.7a1.25 1.25 0 1 0 2.5 0a1.25 1.25 0 1 0 -2.5 0M133.38 135.2a1.25 1.25 0 1 0 2.5 0a1.25 1.25 0 1 0 -2.5 0M179.91 112.4a1.25 1.25 0 1 0 2.5 0a1.25 1.25 0 1 0 -2.5 0M136.55 113.0a1.25 1.25 0 1 0 2.5 0a1.25 1.25 0 1 0 -2.5 0M183.08 153.4a1.25 1.25 0 1 0 2.5 0a1.25 1.25 0 1 0 -2.5 0M207.40 138.9a1.25 1.25 0 1 0 2.5 0a1.25 1.25 0 1 0 -2.5 0M177.79 161.2a1.25 1.25 0 1 0 2.5 0a1.25 1.25 0 1 0 -2.5 0M133.38 196.6a1.25 1.25 0 1 0 2.5 0a1.25 1.25 0 1 0 -2.5 0M164.05 120.3a1.25 1.25 0 1 0 2.5 0a1.25 1.25 0 1 0 -2.5 0M117.52 125.4a1.25 1.25 0 1 0 2.5 0a1.25 1.25 0 1 0 -2.5 0M152.41 147.7a1.25 1.25 0 1 0 2.5 0a1.25 1.25 0 1 0 -2.5 0M183.08 136.8a1.25 1.25 0 1 0 2.5 0a1.25 1.25 0 1 0 -2.5 0M131.26 155.2a1.25 1.25 0 1 0 2.5 0a1.25 1.25 0 1 0 -2.5 0M183.08 187.6a1.25 1.25 0 1 0 2.5 0a1.25 1.25 0 1 0 -2.5 0M111.17 163.3a1.25 1.25 0 1 0 2.5 0a1.25 1.25 0 1 0 -2.5 0M117.52 135.8a1.25 1.25 0 1 0 2.5 0a1.25 1.25 0 1 0 -2.5 0M136.55 162.0a1.25 1.25 0 1 0 2.5 0a1.25 1.25 0 1 0 -2.5 0M169.33 162.5a1.25 1.25 0 1 0 2.5 0a1.25 1.25 0 1 0 -2.5 0M133.38 159.0a1.25 1.25 0 1 0 2.5 0a1.25 1.25 0 1 0 -2.5 0M166.16 124.4a1.25 1.25 0 1 0 2.5 0a1.25 1.25 0 1 0 -2.5 0M90.02 165.2a1.25 1.25 0 1 0 2.5 0a1.25 1.25 0 1 0 -2.5 0M138.67 140.1a1.25 1.25 0 1 0 2.5 0a1.25 1.25 0 1 0 -2.5 0M164.05 125.3a1.25 1.25 0 1 0 2.5 0a1.25 1.25 0 1 0 -2.5 0M131.26 142.0a1.25 1.25 0 1 0 2.5 0a1.25 1.25 0 1 0 -2.5 0M92.14 191.6a1.25 1.25 0 1 0 2.5 0a1.25 1.25 0 1 0 -2.5 0M100.60 106.5a1.25 1.25 0 1 0 2.5 0a1.25 1.25 0 1 0 -2.5 0M171.45 131.3a1.25 1.25 0 1 0 2.5 0a1.25 1.25 0 1 0 -2.5 0M202.12 176.3a1.25 1.25 0 1 0 2.5 0a1.25 1.25 0 1 0 -2.5 0M136.55 162.0a1.25 1.25 0 1 0 2.5 0a1.25 1.25 0 1 0 -2.5 0M215.86 135.4a1.25 1.25 0 1 0 2.5 0a1.25 1.25 0 1 0 -2.5 0M109.06 170.1a1.25 1.25 0 1 0 2.5 0a1.25 1.25 0 1 0 -2.5 0M171.45 134.6a1.25 1.25 0 1 0 2.5 0a1.25 1.25 0 1 0 -2.5 0M157.70 185.9a1.25 1.25 0 1 0 2.5 0a1.25 1.25 0 1 0 -2.5 0M188.37 149.7a1.25 1.25 0 1 0 2.5 0a1.25 1.25 0 1 0 -2.5 0M103.77 126.9a1.25 1.25 0 1 0 2.5 0a1.25 1.25 0 1 0 -2.5 0M185.20 164.5a1.25 1.25 0 1 0 2.5 0a1.25 1.25 0 1 0 -2.5 0M152.41 148.1a1.25 1.25 0 1 0 2.5 0a1.25 1.25 0 1 0 -2.5 0M119.63 139.8a1.25 1.25 0 1 0 2.5 0a1.25 1.25 0 1 0 -2.5 0M133.38 111.5a1.25 1.25 0 1 0 2.5 0a1.25 1.25 0 1 0 -2.5 0M138.67 118.4a1.25 1.25 0 1 0 2.5 0a1.25 1.25 0 1 0 -2.5 0M157.70 146.0a1.25 1.25 0 1 0 2.5 0a1.25 1.25 0 1 0 -2.5 0M119.63 142.9a1.25 1.25 0 1 0 2.5 0a1.25 1.25 0 1 0 -2.5 0M119.63 160.6a1.25 1.25 0 1 0 2.5 0a1.25 1.25 0 1 0 -2.5 0M150.30 162.9a1.25 1.25 0 1 0 2.5 0a1.25 1.25 0 1 0 -2.5 0M143.95 164.8a1.25 1.25 0 1 0 2.5 0a1.25 1.25 0 1 0 -2.5 0M164.05 168.6a1.25 1.25 0 1 0 2.5 0a1.25 1.25 0 1 0 -2.5 0M179.91 130.9a1.25 1.25 0 1 0 2.5 0a1.25 1.25 0 1 0 -2.5 0M95.31 157.0a1.25 1.25 0 1 0 2.5 0a1.25 1.25 0 1 0 -2.5 0M143.95 176.5a1.25 1.25 0 1 0 2.5 0a1.25 1.25 0 1 0 -2.5 0M155.59 176.5a1.25 1.25 0 1 0 2.5 0a1.25 1.25 0 1 0 -2.5 0M147.13 156.7a1.25 1.25 0 1 0 2.5 0a1.25 1.25 0 1 0 -2.5 0M114.34 139.8a1.25 1.25 0 1 0 2.5 0a1.25 1.25 0 1 0 -2.5 0M171.45 170.8a1.25 1.25 0 1 0 2.5 0a1.25 1.25 0 1 0 -2.5 0M217.98 184.4a1.25 1.25 0 1 0 2.5 0a1.25 1.25 0 1 0 -2.5 0M138.67 148.7a1.25 1.25 0 1 0 2.5 0a1.25 1.25 0 1 0 -2.5 0M122.80 127.1a1.25 1.25 0 1 0 2.5 0a1.25 1.25 0 1 0 -2.5 0M174.62 183.2a1.25 1.25 0 1 0 2.5 0a1.25 1.25 0 1 0 -2.5 0M147.13 166.3a1.25 1.25 0 1 0 2.5 0a1.25 1.25 0 1 0 -2.5 0M150.30 206.3a1.25 1.25 0 1 0 2.5 0a1.25 1.25 0 1 0 -2.5 0M131.26 182.4a1.25 1.25 0 1 0 2.5 0a1.25 1.25 0 1 0 -2.5 0M143.95 187.5a1.25 1.25 0 1 0 2.5 0a1.25 1.25 0 1 0 -2.5 0M122.80 147.0a1.25 1.25 0 1 0 2.5 0a1.25 1.25 0 1 0 -2.5 0M92.14 160.9a1.25 1.25 0 1 0 2.5 0a1.25 1.25 0 1 0 -2.5 0M185.20 135.5a1.25 1.25 0 1 0 2.5 0a1.25 1.25 0 1 0 -2.5 0M155.59 178.2a1.25 1.25 0 1 0 2.5 0a1.25 1.25 0 1 0 -2.5 0M141.84 151.7a1.25 1.25 0 1 0 2.5 0a1.25 1.25 0 1 0 -2.5 0M198.94 151.1a1.25 1.25 0 1 0 2.5 0a1.25 1.25 0 1 0 -2.5 0M138.67 140.0a1.25 1.25 0 1 0 2.5 0a1.25 1.25 0 1 0 -2.5 0M188.37 105.7a1.25 1.25 0 1 0 2.5 0a1.25 1.25 0 1 0 -2.5 0M174.62 156.9a1.25 1.25 0 1 0 2.5 0a1.25 1.25 0 1 0 -2.5 0M136.55 177.0a1.25 1.25 0 1 0 2.5 0a1.25 1.25 0 1 0 -2.5 0M109.06 140.5a1.25 1.25 0 1 0 2.5 0a1.25 1.25 0 1 0 -2.5 0M160.87 174.7a1.25 1.25 0 1 0 2.5 0a1.25 1.25 0 1 0 -2.5 0M152.41 129.7a1.25 1.25 0 1 0 2.5 0a1.25 1.25 0 1 0 -2.5 0M183.08 148.5a1.25 1.25 0 1 0 2.5 0a1.25 1.25 0 1 0 -2.5 0M100.60 148.5a1.25 1.25 0 1 0 2.5 0a1.25 1.25 0 1 0 -2.5 0M141.84 196.8a1.25 1.25 0 1 0 2.5 0a1.25 1.25 0 1 0 -2.5 0M152.41 196.4a1.25 1.25 0 1 0 2.5 0a1.25 1.25 0 1 0 -2.5 0M157.70 171.4a1.25 1.25 0 1 0 2.5 0a1.25 1.25 0 1 0 -2.5 0M150.30 156.3a1.25 1.25 0 1 0 2.5 0a1.25 1.25 0 1 0 -2.5 0M155.59 211.3a1.25 1.25 0 1 0 2.5 0a1.25 1.25 0 1 0 -2.5 0M84.73 164.2a1.25 1.25 0 1 0 2.5 0a1.25 1.25 0 1 0 -2.5 0M133.38 148.3a1.25 1.25 0 1 0 2.5 0a1.25 1.25 0 1 0 -2.5 0M124.92 170.5a1.25 1.25 0 1 0 2.5 0a1.25 1.25 0 1 0 -2.5 0M100.60 127.0a1.25 1.25 0 1 0 2.5 0a1.25 1.25 0 1 0 -2.5 0M150.30 148.3a1.25 1.25 0 1 0 2.5 0a1.25 1.25 0 1 0 -2.5 0M133.38 111.9a1.25 1.25 0 1 0 2.5 0a1.25 1.25 0 1 0 -2.5 0M111.17 171.8a1.25 1.25 0 1 0 2.5 0a1.25 1.25 0 1 0 -2.5 0M103.77 140.0a1.25 1.25 0 1 0 2.5 0a1.25 1.25 0 1 0 -2.5 0M141.84 128.9a1.25 1.25 0 1 0 2.5 0a1.25 1.25 0 1 0 -2.5 0M111.17 164.1a1.25 1.25 0 1 0 2.5 0a1.25 1.25 0 1 0 -2.5 0M150.30 169.1a1.25 1.25 0 1 0 2.5 0a1.25 1.25 0 1 0 -2.5 0M226.44 191.0a1.25 1.25 0 1 0 2.5 0a1.25 1.25 0 1 0 -2.5 0M183.08 110.7a1.25 1.25 0 1 0 2.5 0a1.25 1.25 0 1 0 -2.5 0M141.84 120.2a1.25 1.25 0 1 0 2.5 0a1.25 1.25 0 1 0 -2.5 0M204.23 157.9a1.25 1.25 0 1 0 2.5 0a1.25 1.25 0 1 0 -2.5 0M223.27 148.5a1.25 1.25 0 1 0 2.5 0a1.25 1.25 0 1 0 -2.5 0M183.08 156.6a1.25 1.25 0 1 0 2.5 0a1.25 1.25 0 1 0 -2.5 0M223.27 195.7a1.25 1.25 0 1 0 2.5 0a1.25 1.25 0 1 0 -2.5 0M152.41 146.4a1.25 1.25 0 1 0 2.5 0a1.25 1.25 0 1 0 -2.5 0M169.33 170.8a1.25 1.25 0 1 0 2.5 0a1.25 1.25 0 1 0 -2.5 0M141.84 176.4a1.25 1.25 0 1 0 2.5 0a1.25 1.25 0 1 0 -2.5 0M133.38 124.9a1.25 1.25 0 1 0 2.5 0a1.25 1.25 0 1 0 -2.5 0M147.13 154.3a1.25 1.25 0 1 0 2.5 0a1.25 1.25 0 1 0 -2.5 0M119.63 181.6a1.25 1.25 0 1 0 2.5 0a1.25 1.25 0 1 0 -2.5 0M141.84 140.1a1.25 1.25 0 1 0 2.5 0a1.25 1.25 0 1 0 -2.5 0M171.45 146.9a1.25 1.25 0 1 0 2.5 0a1.25 1.25 0 1 0 -2.5 0M138.67 158.0a1.25 1.25 0 1 0 2.5 0a1.25 1.25 0 1 0 -2.5 0M217.98 149.1a1.25 1.25 0 1 0 2.5 0a1.25 1.25 0 1 0 -2.5 0M204.23 149.5a1.25 1.25 0 1 0 2.5 0a1.25 1.25 0 1 0 -2.5 0M114.34 177.7a1.25 1.25 0 1 0 2.5 0a1.25 1.25 0 1 0 -2.5 0M122.80 96.3a1.25 1.25 0 1 0 2.5 0a1.25 1.25 0 1 0 -2.5 0M217.98 150.6a1.25 1.25 0 1 0 2.5 0a1.25 1.25 0 1 0 -2.5 0M152.41 128.1a1.25 1.25 0 1 0 2.5 0a1.25 1.25 0 1 0 -2.5 0M128.09 194.2a1.25 1.25 0 1 0 2.5 0a1.25 1.25 0 1 0 -2.5 0M111.17 142.5a1.25 1.25 0 1 0 2.5 0a1.25 1.25 0 1 0 -2.5 0M190.48 114.3a1.25 1.25 0 1 0 2.5 0a1.25 1.25 0 1 0 -2.5 0M119.63 161.6a1.25 1.25 0 1 0 2.5 0a1.25 1.25 0 1 0 -2.5 0M166.16 158.7a1.25 1.25 0 1 0 2.5 0a1.25 1.25 0 1 0 -2.5 0M223.27 125.9a1.25 1.25 0 1 0 2.5 0a1.25 1.25 0 1 0 -2.5 0M164.05 138.8a1.25 1.25 0 1 0 2.5 0a1.25 1.25 0 1 0 -2.5 0M138.67 139.8a1.25 1.25 0 1 0 2.5 0a1.25 1.25 0 1 0 -2.5 0M169.33 160.4a1.25 1.25 0 1 0 2.5 0a1.25 1.25 0 1 0 -2.5 0M166.16 154.3a1.25 1.25 0 1 0 2.5 0a1.25 1.25 0 1 0 -2.5 0M131.26 205.7a1.25 1.25 0 1 0 2.5 0a1.25 1.25 0 1 0 -2.5 0M155.59 166.7a1.25 1.25 0 1 0 2.5 0a1.25 1.25 0 1 0 -2.5 0M109.06 156.5a1.25 1.25 0 1 0 2.5 0a1.25 1.25 0 1 0 -2.5 0M95.31 135.0a1.25 1.25 0 1 0 2.5 0a1.25 1.25 0 1 0 -2.5 0M128.09 140.8a1.25 1.25 0 1 0 2.5 0a1.25 1.25 0 1 0 -2.5 0M95.31 187.5a1.25 1.25 0 1 0 2.5 0a1.25 1.25 0 1 0 -2.5 0M124.92 175.2a1.25 1.25 0 1 0 2.5 0a1.25 1.25 0 1 0 -2.5 0M152.41 160.3a1.25 1.25 0 1 0 2.5 0a1.25 1.25 0 1 0 -2.5 0M223.27 118.1a1.25 1.25 0 1 0 2.5 0a1.25 1.25 0 1 0 -2.5 0M117.52 149.9a1.25 1.25 0 1 0 2.5 0a1.25 1.25 0 1 0 -2.5 0M131.26 176.5a1.25 1.25 0 1 0 2.5 0a1.25 1.25 0 1 0 -2.5 0M131.26 152.3a1.25 1.25 0 1 0 2.5 0a1.25 1.25 0 1 0 -2.5 0M114.34 159.7a1.25 1.25 0 1 0 2.5 0a1.25 1.25 0 1 0 -2.5 0M119.63 180.0a1.25 1.25 0 1 0 2.5 0a1.25 1.25 0 1 0 -2.5 0M136.55 162.1a1.25 1.25 0 1 0 2.5 0a1.25 1.25 0 1 0 -2.5 0M138.67 134.6a1.25 1.25 0 1 0 2.5 0a1.25 1.25 0 1 0 -2.5 0M133.38 172.7a1.25 1.25 0 1 0 2.5 0a1.25 1.25 0 1 0 -2.5 0M119.63 174.4a1.25 1.25 0 1 0 2.5 0a1.25 1.25 0 1 0 -2.5 0M193.66 197.1a1.25 1.25 0 1 0 2.5 0a1.25 1.25 0 1 0 -2.5 0M122.80 157.6a1.25 1.25 0 1 0 2.5 0a1.25 1.25 0 1 0 -2.5 0M86.85 183.4a1.25 1.25 0 1 0 2.5 0a1.25 1.25 0 1 0 -2.5 0M188.37 110.5a1.25 1.25 0 1 0 2.5 0a1.25 1.25 0 1 0 -2.5 0M179.91 156.6a1.25 1.25 0 1 0 2.5 0a1.25 1.25 0 1 0 -2.5 0M109.06 118.0a1.25 1.25 0 1 0 2.5 0a1.25 1.25 0 1 0 -2.5 0M141.84 150.0a1.25 1.25 0 1 0 2.5 0a1.25 1.25 0 1 0 -2.5 0M114.34 157.8a1.25 1.25 0 1 0 2.5 0a1.25 1.25 0 1 0 -2.5 0M100.60 150.9a1.25 1.25 0 1 0 2.5 0a1.25 1.25 0 1 0 -2.5 0M109.06 172.9a1.25 1.25 0 1 0 2.5 0a1.25 1.25 0 1 0 -2.5 0M217.98 185.7a1.25 1.25 0 1 0 2.5 0a1.25 1.25 0 1 0 -2.5 0M185.20 180.1a1.25 1.25 0 1 0 2.5 0a1.25 1.25 0 1 0 -2.5 0M111.17 160.8a1.25 1.25 0 1 0 2.5 0a1.25 1.25 0 1 0 -2.5 0M138.67 147.4a1.25 1.25 0 1 0 2.5 0a1.25 1.25 0 1 0 -2.5 0M147.13 105.8a1.25 1.25 0 1 0 2.5 0a1.25 1.25 0 1 0 -2.5 0M133.38 147.2a1.25 1.25 0 1 0 2.5 0a1.25 1.25 0 1 0 -2.5 0M141.84 135.5a1.25 1.25 0 1 0 2.5 0a1.25 1.25 0 1 0 -2.5 0M217.98 133.9a1.25 1.25 0 1 0 2.5 0a1.25 1.25 0 1 0 -2.5 0M122.80 177.9a1.25 1.25 0 1 0 2.5 0a1.25 1.25 0 1 0 -2.5 0M119.63 182.8a1.25 1.25 0 1 0 2.5 0a1.25 1.25 0 1 0 -2.5 0M141.84 180.9a1.25 1.25 0 1 0 2.5 0a1.25 1.25 0 1 0 -2.5 0M122.80 114.6a1.25 1.25 0 1 0 2.5 0a1.25 1.25 0 1 0 -2.5 0M128.09 194.0a1.25 1.25 0 1 0 2.5 0a1.25 1.25 0 1 0 -2.5 0M128.09 140.9a1.25 1.25 0 1 0 2.5 0a1.25 1.25 0 1 0 -2.5 0M111.17 177.8a1.25 1.25 0 1 0 2.5 0a1.25 1.25 0 1 0 -2.5 0M122.80 192.6a1.25 1.25 0 1 0 2.5 0a1.25 1.25 0 1 0 -2.5 0M196.83 192.5a1.25 1.25 0 1 0 2.5 0a1.25 1.25 0 1 0 -2.5 0M117.52 169.1a1.25 1.25 0 1 0 2.5 0a1.25 1.25 0 1 0 -2.5 0M114.34 185.8a1.25 1.25 0 1 0 2.5 0a1.25 1.25 0 1 0 -2.5 0M152.41 136.7a1.25 1.25 0 1 0 2.5 0a1.25 1.25 0 1 0 -2.5 0M133.38 131.1a1.25 1.25 0 1 0 2.5 0a1.25 1.25 0 1 0 -2.5 0M174.62 131.7a1.25 1.25 0 1 0 2.5 0a1.25 1.25 0 1 0 -2.5 0M166.16 100.7a1.25 1.25 0 1 0 2.5 0a1.25 1.25 0 1 0 -2.5 0M111.17 164.8a1.25 1.25 0 1 0 2.5 0a1.25 1.25 0 1 0 -2.5 0M141.84 175.8a1.25 1.25 0 1 0 2.5 0a1.25 1.25 0 1 0 -2.5 0M136.55 146.1a1.25 1.25 0 1 0 2.5 0a1.25 1.25 0 1 0 -2.5 0M141.84 96.5a1.25 1.25 0 1 0 2.5 0a1.25 1.25 0 1 0 -2.5 0M84.73 176.5a1.25 1.25 0 1 0 2.5 0a1.25 1.25 0 1 0 -2.5 0M166.16 96.8a1.25 1.25 0 1 0 2.5 0a1.25 1.25 0 1 0 -2.5 0M136.55 146.4a1.25 1.25 0 1 0 2.5 0a1.25 1.25 0 1 0 -2.5 0M141.84 167.7a1.25 1.25 0 1 0 2.5 0a1.25 1.25 0 1 0 -2.5 0M185.20 188.7a1.25 1.25 0 1 0 2.5 0a1.25 1.25 0 1 0 -2.5 0M141.84 131.7a1.25 1.25 0 1 0 2.5 0a1.25 1.25 0 1 0 -2.5 0M171.45 152.0a1.25 1.25 0 1 0 2.5 0a1.25 1.25 0 1 0 -2.5 0M193.66 161.0a1.25 1.25 0 1 0 2.5 0a1.25 1.25 0 1 0 -2.5 0M188.37 173.4a1.25 1.25 0 1 0 2.5 0a1.25 1.25 0 1 0 -2.5 0M92.14 155.8a1.25 1.25 0 1 0 2.5 0a1.25 1.25 0 1 0 -2.5 0M122.80 163.9a1.25 1.25 0 1 0 2.5 0a1.25 1.25 0 1 0 -2.5 0M103.77 148.9a1.25 1.25 0 1 0 2.5 0a1.25 1.25 0 1 0 -2.5 0M117.52 203.8a1.25 1.25 0 1 0 2.5 0a1.25 1.25 0 1 0 -2.5 0M136.55 147.9a1.25 1.25 0 1 0 2.5 0a1.25 1.25 0 1 0 -2.5 0M122.80 132.0a1.25 1.25 0 1 0 2.5 0a1.25 1.25 0 1 0 -2.5 0M133.38 191.1a1.25 1.25 0 1 0 2.5 0a1.25 1.25 0 1 0 -2.5 0M136.55 151.7a1.25 1.25 0 1 0 2.5 0a1.25 1.25 0 1 0 -2.5 0M204.23 149.4a1.25 1.25 0 1 0 2.5 0a1.25 1.25 0 1 0 -2.5 0M124.92 122.8a1.25 1.25 0 1 0 2.5 0a1.25 1.25 0 1 0 -2.5 0M157.70 131.4a1.25 1.25 0 1 0 2.5 0a1.25 1.25 0 1 0 -2.5 0M171.45 127.9a1.25 1.25 0 1 0 2.5 0a1.25 1.25 0 1 0 -2.5 0M164.05 159.6a1.25 1.25 0 1 0 2.5 0a1.25 1.25 0 1 0 -2.5 0M86.85 132.5a1.25 1.25 0 1 0 2.5 0a1.25 1.25 0 1 0 -2.5 0M103.77 155.6a1.25 1.25 0 1 0 2.5 0a1.25 1.25 0 1 0 -2.5 0M166.16 163.8a1.25 1.25 0 1 0 2.5 0a1.25 1.25 0 1 0 -2.5 0M92.14 193.8a1.25 1.25 0 1 0 2.5 0a1.25 1.25 0 1 0 -2.5 0M133.38 145.3a1.25 1.25 0 1 0 2.5 0a1.25 1.25 0 1 0 -2.5 0M98.48 157.5a1.25 1.25 0 1 0 2.5 0a1.25 1.25 0 1 0 -2.5 0M155.59 197.7a1.25 1.25 0 1 0 2.5 0a1.25 1.25 0 1 0 -2.5 0M138.67 118.6a1.25 1.25 0 1 0 2.5 0a1.25 1.25 0 1 0 -2.5 0M98.48 162.6a1.25 1.25 0 1 0 2.5 0a1.25 1.25 0 1 0 -2.5 0M133.38 143.7a1.25 1.25 0 1 0 2.5 0a1.25 1.25 0 1 0 -2.5 0M109.06 143.5a1.25 1.25 0 1 0 2.5 0a1.25 1.25 0 1 0 -2.5 0M122.80 158.8a1.25 1.25 0 1 0 2.5 0a1.25 1.25 0 1 0 -2.5 0M188.37 150.9a1.25 1.25 0 1 0 2.5 0a1.25 1.25 0 1 0 -2.5 0M150.30 130.3a1.25 1.25 0 1 0 2.5 0a1.25 1.25 0 1 0 -2.5 0M152.41 176.3a1.25 1.25 0 1 0 2.5 0a1.25 1.25 0 1 0 -2.5 0M202.12 193.1a1.25 1.25 0 1 0 2.5 0a1.25 1.25 0 1 0 -2.5 0M143.95 126.6a1.25 1.25 0 1 0 2.5 0a1.25 1.25 0 1 0 -2.5 0M190.48 142.2a1.25 1.25 0 1 0 2.5 0a1.25 1.25 0 1 0 -2.5 0M155.59 175.3a1.25 1.25 0 1 0 2.5 0a1.25 1.25 0 1 0 -2.5 0M150.30 126.1a1.25 1.25 0 1 0 2.5 0a1.25 1.25 0 1 0 -2.5 0M128.09 186.1a1.25 1.25 0 1 0 2.5 0a1.25 1.25 0 1 0 -2.5 0M114.34 149.7a1.25 1.25 0 1 0 2.5 0a1.25 1.25 0 1 0 -2.5 0M109.06 142.8a1.25 1.25 0 1 0 2.5 0a1.25 1.25 0 1 0 -2.5 0M111.17 151.8a1.25 1.25 0 1 0 2.5 0a1.25 1.25 0 1 0 -2.5 0M157.70 142.1a1.25 1.25 0 1 0 2.5 0a1.25 1.25 0 1 0 -2.5 0M155.59 167.8a1.25 1.25 0 1 0 2.5 0a1.25 1.25 0 1 0 -2.5 0M114.34 196.4a1.25 1.25 0 1 0 2.5 0a1.25 1.25 0 1 0 -2.5 0M188.37 171.7a1.25 1.25 0 1 0 2.5 0a1.25 1.25 0 1 0 -2.5 0M119.63 137.0a1.25 1.25 0 1 0 2.5 0a1.25 1.25 0 1 0 -2.5 0M128.09 151.7a1.25 1.25 0 1 0 2.5 0a1.25 1.25 0 1 0 -2.5 0M100.60 152.3a1.25 1.25 0 1 0 2.5 0a1.25 1.25 0 1 0 -2.5 0M114.34 160.9a1.25 1.25 0 1 0 2.5 0a1.25 1.25 0 1 0 -2.5 0M171.45 125.1a1.25 1.25 0 1 0 2.5 0a1.25 1.25 0 1 0 -2.5 0M155.59 168.2a1.25 1.25 0 1 0 2.5 0a1.25 1.25 0 1 0 -2.5 0M119.63 144.9a1.25 1.25 0 1 0 2.5 0a1.25 1.25 0 1 0 -2.5 0M188.37 147.6a1.25 1.25 0 1 0 2.5 0a1.25 1.25 0 1 0 -2.5 0M138.67 178.6a1.25 1.25 0 1 0 2.5 0a1.25 1.25 0 1 0 -2.5 0M143.95 131.8a1.25 1.25 0 1 0 2.5 0a1.25 1.25 0 1 0 -2.5 0M179.91 142.9a1.25 1.25 0 1 0 2.5 0a1.25 1.25 0 1 0 -2.5 0M157.70 138.2a1.25 1.25 0 1 0 2.5 0a1.25 1.25 0 1 0 -2.5 0M131.26 189.6a1.25 1.25 0 1 0 2.5 0a1.25 1.25 0 1 0 -2.5 0M109.06 119.7a1.25 1.25 0 1 0 2.5 0a1.25 1.25 0 1 0 -2.5 0M190.48 166.0a1.25 1.25 0 1 0 2.5 0a1.25 1.25 0 1 0 -2.5 0M122.80 141.8a1.25 1.25 0 1 0 2.5 0a1.25 1.25 0 1 0 -2.5 0M92.14 126.6a1.25 1.25 0 1 0 2.5 0a1.25 1.25 0 1 0 -2.5 0M122.80 167.5a1.25 1.25 0 1 0 2.5 0a1.25 1.25 0 1 0 -2.5 0M171.45 146.4a1.25 1.25 0 1 0 2.5 0a1.25 1.25 0 1 0 -2.5 0M131.26 152.7a1.25 1.25 0 1 0 2.5 0a1.25 1.25 0 1 0 -2.5 0M128.09 154.1a1.25 1.25 0 1 0 2.5 0a1.25 1.25 0 1 0 -2.5 0M138.67 154.4a1.25 1.25 0 1 0 2.5 0a1.25 1.25 0 1 0 -2.5 0M223.27 183.0a1.25 1.25 0 1 0 2.5 0a1.25 1.25 0 1 0 -2.5 0M193.66 157.6a1.25 1.25 0 1 0 2.5 0a1.25 1.25 0 1 0 -2.5 0M147.13 122.3a1.25 1.25 0 1 0 2.5 0a1.25 1.25 0 1 0 -2.5 0M119.63 179.9a1.25 1.25 0 1 0 2.5 0a1.25 1.25 0 1 0 -2.5 0M128.09 197.2a1.25 1.25 0 1 0 2.5 0a1.25 1.25 0 1 0 -2.5 0M152.41 116.8a1.25 1.25 0 1 0 2.5 0a1.25 1.25 0 1 0 -2.5 0M133.38 190.9a1.25 1.25 0 1 0 2.5 0a1.25 1.25 0 1 0 -2.5 0M136.55 163.2a1.25 1.25 0 1 0 2.5 0a1.25 1.25 0 1 0 -2.5 0M111.17 169.6a1.25 1.25 0 1 0 2.5 0a1.25 1.25 0 1 0 -2.5 0M103.77 146.3a1.25 1.25 0 1 0 2.5 0a1.25 1.25 0 1 0 -2.5 0M109.06 162.9a1.25 1.25 0 1 0 2.5 0a1.25 1.25 0 1 0 -2.5 0M150.30 142.8a1.25 1.25 0 1 0 2.5 0a1.25 1.25 0 1 0 -2.5 0M114.34 166.2a1.25 1.25 0 1 0 2.5 0a1.25 1.25 0 1 0 -2.5 0M160.87 185.5a1.25 1.25 0 1 0 2.5 0a1.25 1.25 0 1 0 -2.5 0M179.91 153.4a1.25 1.25 0 1 0 2.5 0a1.25 1.25 0 1 0 -2.5 0M111.17 139.5a1.25 1.25 0 1 0 2.5 0a1.25 1.25 0 1 0 -2.5 0M109.06 186.4a1.25 1.25 0 1 0 2.5 0a1.25 1.25 0 1 0 -2.5 0M133.38 173.4a1.25 1.25 0 1 0 2.5 0a1.25 1.25 0 1 0 -2.5 0M164.05 168.6a1.25 1.25 0 1 0 2.5 0a1.25 1.25 0 1 0 -2.5 0M160.87 129.0a1.25 1.25 0 1 0 2.5 0a1.25 1.25 0 1 0 -2.5 0M210.58 179.1a1.25 1.25 0 1 0 2.5 0a1.25 1.25 0 1 0 -2.5 0M198.94 143.4a1.25 1.25 0 1 0 2.5 0a1.25 1.25 0 1 0 -2.5 0M183.08 164.3a1.25 1.25 0 1 0 2.5 0a1.25 1.25 0 1 0 -2.5 0M188.37 174.1a1.25 1.25 0 1 0 2.5 0a1.25 1.25 0 1 0 -2.5 0M152.41 135.1a1.25 1.25 0 1 0 2.5 0a1.25 1.25 0 1 0 -2.5 0M177.79 147.4a1.25 1.25 0 1 0 2.5 0a1.25 1.25 0 1 0 -2.5 0M136.55 181.4a1.25 1.25 0 1 0 2.5 0a1.25 1.25 0 1 0 -2.5 0M131.26 135.8a1.25 1.25 0 1 0 2.5 0a1.25 1.25 0 1 0 -2.5 0M179.91 189.9a1.25 1.25 0 1 0 2.5 0a1.25 1.25 0 1 0 -2.5 0M98.48 137.7a1.25 1.25 0 1 0 2.5 0a1.25 1.25 0 1 0 -2.5 0M202.12 158.6a1.25 1.25 0 1 0 2.5 0a1.25 1.25 0 1 0 -2.5 0M223.27 96.5a1.25 1.25 0 1 0 2.5 0a1.25 1.25 0 1 0 -2.5 0M131.26 139.3a1.25 1.25 0 1 0 2.5 0a1.25 1.25 0 1 0 -2.5 0M174.62 97.8a1.25 1.25 0 1 0 2.5 0a1.25 1.25 0 1 0 -2.5 0M152.41 138.4a1.25 1.25 0 1 0 2.5 0a1.25 1.25 0 1 0 -2.5 0M117.52 162.7a1.25 1.25 0 1 0 2.5 0a1.25 1.25 0 1 0 -2.5 0M160.87 134.9a1.25 1.25 0 1 0 2.5 0a1.25 1.25 0 1 0 -2.5 0M166.16 194.2a1.25 1.25 0 1 0 2.5 0a1.25 1.25 0 1 0 -2.5 0M185.20 188.0a1.25 1.25 0 1 0 2.5 0a1.25 1.25 0 1 0 -2.5 0M136.55 156.3a1.25 1.25 0 1 0 2.5 0a1.25 1.25 0 1 0 -2.5 0M152.41 113.1a1.25 1.25 0 1 0 2.5 0a1.25 1.25 0 1 0 -2.5 0M128.09 128.1a1.25 1.25 0 1 0 2.5 0a1.25 1.25 0 1 0 -2.5 0M185.20 191.9a1.25 1.25 0 1 0 2.5 0a1.25 1.25 0 1 0 -2.5 0M143.95 209.0a1.25 1.25 0 1 0 2.5 0a1.25 1.25 0 1 0 -2.5 0M179.91 147.6a1.25 1.25 0 1 0 2.5 0a1.25 1.25 0 1 0 -2.5 0M124.92 195.2a1.25 1.25 0 1 0 2.5 0a1.25 1.25 0 1 0 -2.5 0M152.41 184.8a1.25 1.25 0 1 0 2.5 0a1.25 1.25 0 1 0 -2.5 0M119.63 170.3a1.25 1.25 0 1 0 2.5 0a1.25 1.25 0 1 0 -2.5 0M122.80 179.8a1.25 1.25 0 1 0 2.5 0a1.25 1.25 0 1 0 -2.5 0M190.48 179.2a1.25 1.25 0 1 0 2.5 0a1.25 1.25 0 1 0 -2.5 0M141.84 160.7a1.25 1.25 0 1 0 2.5 0a1.25 1.25 0 1 0 -2.5 0M143.95 128.9a1.25 1.25 0 1 0 2.5 0a1.25 1.25 0 1 0 -2.5 0M174.62 173.5a1.25 1.25 0 1 0 2.5 0a1.25 1.25 0 1 0 -2.5 0M122.80 152.6a1.25 1.25 0 1 0 2.5 0a1.25 1.25 0 1 0 -2.5 0M122.80 140.3a1.25 1.25 0 1 0 2.5 0a1.25 1.25 0 1 0 -2.5 0M133.38 156.8a1.25 1.25 0 1 0 2.5 0a1.25 1.25 0 1 0 -2.5 0M98.48 154.1a1.25 1.25 0 1 0 2.5 0a1.25 1.25 0 1 0 -2.5 0M223.27 197.2a1.25 1.25 0 1 0 2.5 0a1.25 1.25 0 1 0 -2.5 0M160.87 157.8a1.25 1.25 0 1 0 2.5 0a1.25 1.25 0 1 0 -2.5 0M166.16 122.2a1.25 1.25 0 1 0 2.5 0a1.25 1.25 0 1 0 -2.5 0M114.34 137.4a1.25 1.25 0 1 0 2.5 0a1.25 1.25 0 1 0 -2.5 0M109.06 138.1a1.25 1.25 0 1 0 2.5 0a1.25 1.25 0 1 0 -2.5 0M185.20 141.5a1.25 1.25 0 1 0 2.5 0a1.25 1.25 0 1 0 -2.5 0M138.67 163.8a1.25 1.25 0 1 0 2.5 0a1.25 1.25 0 1 0 -2.5 0M124.92 135.3a1.25 1.25 0 1 0 2.5 0a1.25 1.25 0 1 0 -2.5 0M131.26 136.5a1.25 1.25 0 1 0 2.5 0a1.25 1.25 0 1 0 -2.5 0M141.84 158.7a1.25 1.25 0 1 0 2.5 0a1.25 1.25 0 1 0 -2.5 0M183.08 163.2a1.25 1.25 0 1 0 2.5 0a1.25 1.25 0 1 0 -2.5 0M160.87 186.8a1.25 1.25 0 1 0 2.5 0a1.25 1.25 0 1 0 -2.5 0M122.80 126.2a1.25 1.25 0 1 0 2.5 0a1.25 1.25 0 1 0 -2.5 0M114.34 143.4a1.25 1.25 0 1 0 2.5 0a1.25 1.25 0 1 0 -2.5 0M177.79 166.1a1.25 1.25 0 1 0 2.5 0a1.25 1.25 0 1 0 -2.5 0M164.05 154.0a1.25 1.25 0 1 0 2.5 0a1.25 1.25 0 1 0 -2.5 0M111.17 164.2a1.25 1.25 0 1 0 2.5 0a1.25 1.25 0 1 0 -2.5 0M100.60 154.1a1.25 1.25 0 1 0 2.5 0a1.25 1.25 0 1 0 -2.5 0M143.95 178.4a1.25 1.25 0 1 0 2.5 0a1.25 1.25 0 1 0 -2.5 0M128.09 179.0a1.25 1.25 0 1 0 2.5 0a1.25 1.25 0 1 0 -2.5 0M164.05 111.1a1.25 1.25 0 1 0 2.5 0a1.25 1.25 0 1 0 -2.5 0M141.84 163.8a1.25 1.25 0 1 0 2.5 0a1.25 1.25 0 1 0 -2.5 0M157.70 119.1a1.25 1.25 0 1 0 2.5 0a1.25 1.25 0 1 0 -2.5 0M174.62 135.4a1.25 1.25 0 1 0 2.5 0a1.25 1.25 0 1 0 -2.5 0M185.20 151.0a1.25 1.25 0 1 0 2.5 0a1.25 1.25 0 1 0 -2.5 0M138.67 146.2a1.25 1.25 0 1 0 2.5 0a1.25 1.25 0 1 0 -2.5 0M171.45 156.9a1.25 1.25 0 1 0 2.5 0a1.25 1.25 0 1 0 -2.5 0M128.09 128.3a1.25 1.25 0 1 0 2.5 0a1.25 1.25 0 1 0 -2.5 0M109.06 155.4a1.25 1.25 0 1 0 2.5 0a1.25 1.25 0 1 0 -2.5 0M152.41 165.2a1.25 1.25 0 1 0 2.5 0a1.25 1.25 0 1 0 -2.5 0M190.48 138.5a1.25 1.25 0 1 0 2.5 0a1.25 1.25 0 1 0 -2.5 0M202.12 157.1a1.25 1.25 0 1 0 2.5 0a1.25 1.25 0 1 0 -2.5 0M141.84 140.4a1.25 1.25 0 1 0 2.5 0a1.25 1.25 0 1 0 -2.5 0M98.48 168.7a1.25 1.25 0 1 0 2.5 0a1.25 1.25 0 1 0 -2.5 0M155.59 156.6a1.25 1.25 0 1 0 2.5 0a1.25 1.25 0 1 0 -2.5 0M138.67 128.9a1.25 1.25 0 1 0 2.5 0a1.25 1.25 0 1 0 -2.5 0M166.16 130.3a1.25 1.25 0 1 0 2.5 0a1.25 1.25 0 1 0 -2.5 0M185.20 185.3a1.25 1.25 0 1 0 2.5 0a1.25 1.25 0 1 0 -2.5 0M131.26 157.0a1.25 1.25 0 1 0 2.5 0a1.25 1.25 0 1 0 -2.5 0M122.80 182.1a1.25 1.25 0 1 0 2.5 0a1.25 1.25 0 1 0 -2.5 0M131.26 133.3a1.25 1.25 0 1 0 2.5 0a1.25 1.25 0 1 0 -2.5 0M122.80 178.9a1.25 1.25 0 1 0 2.5 0a1.25 1.25 0 1 0 -2.5 0M114.34 201.1a1.25 1.25 0 1 0 2.5 0a1.25 1.25 0 1 0 -2.5 0M152.41 186.1a1.25 1.25 0 1 0 2.5 0a1.25 1.25 0 1 0 -2.5 0M122.80 185.6a1.25 1.25 0 1 0 2.5 0a1.25 1.25 0 1 0 -2.5 0M133.38 170.2a1.25 1.25 0 1 0 2.5 0a1.25 1.25 0 1 0 -2.5 0M124.92 134.3a1.25 1.25 0 1 0 2.5 0a1.25 1.25 0 1 0 -2.5 0M166.16 175.8a1.25 1.25 0 1 0 2.5 0a1.25 1.25 0 1 0 -2.5 0M131.26 144.2a1.25 1.25 0 1 0 2.5 0a1.25 1.25 0 1 0 -2.5 0M141.84 122.1a1.25 1.25 0 1 0 2.5 0a1.25 1.25 0 1 0 -2.5 0M174.62 131.8a1.25 1.25 0 1 0 2.5 0a1.25 1.25 0 1 0 -2.5 0M138.67 119.1a1.25 1.25 0 1 0 2.5 0a1.25 1.25 0 1 0 -2.5 0M103.77 127.6a1.25 1.25 0 1 0 2.5 0a1.25 1.25 0 1 0 -2.5 0M128.09 160.0a1.25 1.25 0 1 0 2.5 0a1.25 1.25 0 1 0 -2.5 0M128.09 141.0a1.25 1.25 0 1 0 2.5 0a1.25 1.25 0 1 0 -2.5 0M166.16 152.0a1.25 1.25 0 1 0 2.5 0a1.25 1.25 0 1 0 -2.5 0M210.58 170.5a1.25 1.25 0 1 0 2.5 0a1.25 1.25 0 1 0 -2.5 0M150.30 98.5a1.25 1.25 0 1 0 2.5 0a1.25 1.25 0 1 0 -2.5 0M138.67 180.3a1.25 1.25 0 1 0 2.5 0a1.25 1.25 0 1 0 -2.5 0M202.12 190.8a1.25 1.25 0 1 0 2.5 0a1.25 1.25 0 1 0 -2.5 0M122.80 167.7a1.25 1.25 0 1 0 2.5 0a1.25 1.25 0 1 0 -2.5 0M152.41 126.0a1.25 1.25 0 1 0 2.5 0a1.25 1.25 0 1 0 -2.5 0M160.87 165.9a1.25 1.25 0 1 0 2.5 0a1.25 1.25 0 1 0 -2.5 0M141.84 147.8a1.25 1.25 0 1 0 2.5 0a1.25 1.25 0 1 0 -2.5 0M136.55 173.3a1.25 1.25 0 1 0 2.5 0a1.25 1.25 0 1 0 -2.5 0M150.30 122.7a1.25 1.25 0 1 0 2.5 0a1.25 1.25 0 1 0 -2.5 0M204.23 148.0a1.25 1.25 0 1 0 2.5 0a1.25 1.25 0 1 0 -2.5 0M164.05 153.0a1.25 1.25 0 1 0 2.5 0a1.25 1.25 0 1 0 -2.5 0M124.92 115.7a1.25 1.25 0 1 0 2.5 0a1.25 1.25 0 1 0 -2.5 0M152.41 176.8a1.25 1.25 0 1 0 2.5 0a1.25 1.25 0 1 0 -2.5 0M179.91 117.0a1.25 1.25 0 1 0 2.5 0a1.25 1.25 0 1 0 -2.5 0M215.86 134.3a1.25 1.25 0 1 0 2.5 0a1.25 1.25 0 1 0 -2.5 0M171.45 187.2a1.25 1.25 0 1 0 2.5 0a1.25 1.25 0 1 0 -2.5 0M150.30 158.9a1.25 1.25 0 1 0 2.5 0a1.25 1.25 0 1 0 -2.5 0M196.83 143.0a1.25 1.25 0 1 0 2.5 0a1.25 1.25 0 1 0 -2.5 0M177.79 183.7a1.25 1.25 0 1 0 2.5 0a1.25 1.25 0 1 0 -2.5 0M147.13 176.5a1.25 1.25 0 1 0 2.5 0a1.25 1.25 0 1 0 -2.5 0M122.80 115.4a1.25 1.25 0 1 0 2.5 0a1.25 1.25 0 1 0 -2.5 0M179.91 112.3a1.25 1.25 0 1 0 2.5 0a1.25 1.25 0 1 0 -2.5 0M111.17 136.1a1.25 1.25 0 1 0 2.5 0a1.25 1.25 0 1 0 -2.5 0M100.60 148.0a1.25 1.25 0 1 0 2.5 0a1.25 1.25 0 1 0 -2.5 0M160.87 180.5a1.25 1.25 0 1 0 2.5 0a1.25 1.25 0 1 0 -2.5 0M100.60 130.5a1.25 1.25 0 1 0 2.5 0a1.25 1.25 0 1 0 -2.5 0M105.88 164.9a1.25 1.25 0 1 0 2.5 0a1.25 1.25 0 1 0 -2.5 0M136.55 151.9a1.25 1.25 0 1 0 2.5 0a1.25 1.25 0 1 0 -2.5 0M136.55 149.5a1.25 1.25 0 1 0 2.5 0a1.25 1.25 0 1 0 -2.5 0M143.95 130.9a1.25 1.25 0 1 0 2.5 0a1.25 1.25 0 1 0 -2.5 0M150.30 138.8a1.25 1.25 0 1 0 2.5 0a1.25 1.25 0 1 0 -2.5 0M160.87 211.7a1.25 1.25 0 1 0 2.5 0a1.25 1.25 0 1 0 -2.5 0M138.67 168.9a1.25 1.25 0 1 0 2.5 0a1.25 1.25 0 1 0 -2.5 0M117.52 126.1a1.25 1.25 0 1 0 2.5 0a1.25 1.25 0 1 0 -2.5 0M190.48 134.4a1.25 1.25 0 1 0 2.5 0a1.25 1.25 0 1 0 -2.5 0M171.45 127.6a1.25 1.25 0 1 0 2.5 0a1.25 1.25 0 1 0 -2.5 0M164.05 183.0a1.25 1.25 0 1 0 2.5 0a1.25 1.25 0 1 0 -2.5 0M141.84 154.5a1.25 1.25 0 1 0 2.5 0a1.25 1.25 0 1 0 -2.5 0M117.52 149.1a1.25 1.25 0 1 0 2.5 0a1.25 1.25 0 1 0 -2.5 0M157.70 129.0a1.25 1.25 0 1 0 2.5 0a1.25 1.25 0 1 0 -2.5 0M138.67 149.8a1.25 1.25 0 1 0 2.5 0a1.25 1.25 0 1 0 -2.5 0M103.77 164.3a1.25 1.25 0 1 0 2.5 0a1.25 1.25 0 1 0 -2.5 0M179.91 129.0a1.25 1.25 0 1 0 2.5 0a1.25 1.25 0 1 0 -2.5 0M103.77 149.0a1.25 1.25 0 1 0 2.5 0a1.25 1.25 0 1 0 -2.5 0M128.09 135.8a1.25 1.25 0 1 0 2.5 0a1.25 1.25 0 1 0 -2.5 0M212.69 198.7a1.25 1.25 0 1 0 2.5 0a1.25 1.25 0 1 0 -2.5 0M117.52 148.4a1.25 1.25 0 1 0 2.5 0a1.25 1.25 0 1 0 -2.5 0M147.13 138.4a1.25 1.25 0 1 0 2.5 0a1.25 1.25 0 1 0 -2.5 0M179.91 115.9a1.25 1.25 0 1 0 2.5 0a1.25 1.25 0 1 0 -2.5 0M141.84 150.2a1.25 1.25 0 1 0 2.5 0a1.25 1.25 0 1 0 -2.5 0M103.77 192.5a1.25 1.25 0 1 0 2.5 0a1.25 1.25 0 1 0 -2.5 0M128.09 185.9a1.25 1.25 0 1 0 2.5 0a1.25 1.25 0 1 0 -2.5 0M138.67 123.1a1.25 1.25 0 1 0 2.5 0a1.25 1.25 0 1 0 -2.5 0M100.60 123.6a1.25 1.25 0 1 0 2.5 0a1.25 1.25 0 1 0 -2.5 0M196.83 160.3a1.25 1.25 0 1 0 2.5 0a1.25 1.25 0 1 0 -2.5 0M152.41 175.8a1.25 1.25 0 1 0 2.5 0a1.25 1.25 0 1 0 -2.5 0M166.16 125.4a1.25 1.25 0 1 0 2.5 0a1.25 1.25 0 1 0 -2.5 0M150.30 167.1a1.25 1.25 0 1 0 2.5 0a1.25 1.25 0 1 0 -2.5 0M155.59 155.2a1.25 1.25 0 1 0 2.5 0a1.25 1.25 0 1 0 -2.5 0M131.26 191.7a1.25 1.25 0 1 0 2.5 0a1.25 1.25 0 1 0 -2.5 0M166.16 148.8a1.25 1.25 0 1 0 2.5 0a1.25 1.25 0 1 0 -2.5 0M141.84 105.0a1.25 1.25 0 1 0 2.5 0a1.25 1.25 0 1 0 -2.5 0M202.12 163.8a1.25 1.25 0 1 0 2.5 0a1.25 1.25 0 1 0 -2.5 0M109.06 184.4a1.25 1.25 0 1 0 2.5 0a1.25 1.25 0 1 0 -2.5 0M147.13 118.5a1.25 1.25 0 1 0 2.5 0a1.25 1.25 0 1 0 -2.5 0M103.77 207.3a1.25 1.25 0 1 0 2.5 0a1.25 1.25 0 1 0 -2.5 0M105.88 165.2a1.25 1.25 0 1 0 2.5 0a1.25 1.25 0 1 0 -2.5 0M150.30 146.0a1.25 1.25 0 1 0 2.5 0a1.25 1.25 0 1 0 -2.5 0M210.58 178.6a1.25 1.25 0 1 0 2.5 0a1.25 1.25 0 1 0 -2.5 0M105.88 152.0a1.25 1.25 0 1 0 2.5 0a1.25 1.25 0 1 0 -2.5 0M141.84 153.7a1.25 1.25 0 1 0 2.5 0a1.25 1.25 0 1 0 -2.5 0M136.55 152.2a1.25 1.25 0 1 0 2.5 0a1.25 1.25 0 1 0 -2.5 0M124.92 113.2a1.25 1.25 0 1 0 2.5 0a1.25 1.25 0 1 0 -2.5 0M133.38 148.6a1.25 1.25 0 1 0 2.5 0a1.25 1.25 0 1 0 -2.5 0M185.20 140.8a1.25 1.25 0 1 0 2.5 0a1.25 1.25 0 1 0 -2.5 0M143.95 118.5a1.25 1.25 0 1 0 2.5 0a1.25 1.25 0 1 0 -2.5 0M103.77 160.1a1.25 1.25 0 1 0 2.5 0a1.25 1.25 0 1 0 -2.5 0M122.80 129.4a1.25 1.25 0 1 0 2.5 0a1.25 1.25 0 1 0 -2.5 0M143.95 169.4a1.25 1.25 0 1 0 2.5 0a1.25 1.25 0 1 0 -2.5 0M100.60 149.6a1.25 1.25 0 1 0 2.5 0a1.25 1.25 0 1 0 -2.5 0M119.63 154.5a1.25 1.25 0 1 0 2.5 0a1.25 1.25 0 1 0 -2.5 0M128.09 126.5a1.25 1.25 0 1 0 2.5 0a1.25 1.25 0 1 0 -2.5 0M86.85 126.3a1.25 1.25 0 1 0 2.5 0a1.25 1.25 0 1 0 -2.5 0M215.86 174.8a1.25 1.25 0 1 0 2.5 0a1.25 1.25 0 1 0 -2.5 0M98.48 177.1a1.25 1.25 0 1 0 2.5 0a1.25 1.25 0 1 0 -2.5 0M141.84 183.4a1.25 1.25 0 1 0 2.5 0a1.25 1.25 0 1 0 -2.5 0M136.55 178.9a1.25 1.25 0 1 0 2.5 0a1.25 1.25 0 1 0 -2.5 0M122.80 169.9a1.25 1.25 0 1 0 2.5 0a1.25 1.25 0 1 0 -2.5 0M185.20 156.9a1.25 1.25 0 1 0 2.5 0a1.25 1.25 0 1 0 -2.5 0M141.84 176.1a1.25 1.25 0 1 0 2.5 0a1.25 1.25 0 1 0 -2.5 0M117.52 103.8a1.25 1.25 0 1 0 2.5 0a1.25 1.25 0 1 0 -2.5 0M183.08 122.4a1.25 1.25 0 1 0 2.5 0a1.25 1.25 0 1 0 -2.5 0M157.70 98.9a1.25 1.25 0 1 0 2.5 0a1.25 1.25 0 1 0 -2.5 0M111.17 138.5a1.25 1.25 0 1 0 2.5 0a1.25 1.25 0 1 0 -2.5 0M98.48 132.2a1.25 1.25 0 1 0 2.5 0a1.25 1.25 0 1 0 -2.5 0M171.45 159.7a1.25 1.25 0 1 0 2.5 0a1.25 1.25 0 1 0 -2.5 0M136.55 121.1a1.25 1.25 0 1 0 2.5 0a1.25 1.25 0 1 0 -2.5 0M100.60 135.4a1.25 1.25 0 1 0 2.5 0a1.25 1.25 0 1 0 -2.5 0M157.70 155.7a1.25 1.25 0 1 0 2.5 0a1.25 1.25 0 1 0 -2.5 0M100.60 139.4a1.25 1.25 0 1 0 2.5 0a1.25 1.25 0 1 0 -2.5 0M119.63 101.7a1.25 1.25 0 1 0 2.5 0a1.25 1.25 0 1 0 -2.5 0M117.52 107.7a1.25 1.25 0 1 0 2.5 0a1.25 1.25 0 1 0 -2.5 0M90.02 148.3a1.25 1.25 0 1 0 2.5 0a1.25 1.25 0 1 0 -2.5 0M164.05 204.7a1.25 1.25 0 1 0 2.5 0a1.25 1.25 0 1 0 -2.5 0M155.59 154.6a1.25 1.25 0 1 0 2.5 0a1.25 1.25 0 1 0 -2.5 0M133.38 153.7a1.25 1.25 0 1 0 2.5 0a1.25 1.25 0 1 0 -2.5 0M138.67 153.7a1.25 1.25 0 1 0 2.5 0a1.25 1.25 0 1 0 -2.5 0M150.30 142.6a1.25 1.25 0 1 0 2.5 0a1.25 1.25 0 1 0 -2.5 0M164.05 139.3a1.25 1.25 0 1 0 2.5 0a1.25 1.25 0 1 0 -2.5 0M124.92 172.5a1.25 1.25 0 1 0 2.5 0a1.25 1.25 0 1 0 -2.5 0M141.84 168.1a1.25 1.25 0 1 0 2.5 0a1.25 1.25 0 1 0 -2.5 0M133.38 109.5a1.25 1.25 0 1 0 2.5 0a1.25 1.25 0 1 0 -2.5 0M160.87 93.8a1.25 1.25 0 1 0 2.5 0a1.25 1.25 0 1 0 -2.5 0M174.62 148.5a1.25 1.25 0 1 0 2.5 0a1.25 1.25 0 1 0 -2.5 0M183.08 148.8a1.25 1.25 0 1 0 2.5 0a1.25 1.25 0 1 0 -2.5 0M128.09 127.6a1.25 1.25 0 1 0 2.5 0a1.25 1.25 0 1 0 -2.5 0M124.92 140.3a1.25 1.25 0 1 0 2.5 0a1.25 1.25 0 1 0 -2.5 0M166.16 149.9a1.25 1.25 0 1 0 2.5 0a1.25 1.25 0 1 0 -2.5 0M133.38 150.3a1.25 1.25 0 1 0 2.5 0a1.25 1.25 0 1 0 -2.5 0M136.55 111.4a1.25 1.25 0 1 0 2.5 0a1.25 1.25 0 1 0 -2.5 0M157.70 169.8a1.25 1.25 0 1 0 2.5 0a1.25 1.25 0 1 0 -2.5 0M155.59 136.8a1.25 1.25 0 1 0 2.5 0a1.25 1.25 0 1 0 -2.5 0M193.66 182.7a1.25 1.25 0 1 0 2.5 0a1.25 1.25 0 1 0 -2.5 0M109.06 133.6a1.25 1.25 0 1 0 2.5 0a1.25 1.25 0 1 0 -2.5 0M185.20 143.3a1.25 1.25 0 1 0 2.5 0a1.25 1.25 0 1 0 -2.5 0M128.09 151.9a1.25 1.25 0 1 0 2.5 0a1.25 1.25 0 1 0 -2.5 0M166.16 141.6a1.25 1.25 0 1 0 2.5 0a1.25 1.25 0 1 0 -2.5 0M105.88 193.5a1.25 1.25 0 1 0 2.5 0a1.25 1.25 0 1 0 -2.5 0M138.67 170.8a1.25 1.25 0 1 0 2.5 0a1.25 1.25 0 1 0 -2.5 0M122.80 160.8a1.25 1.25 0 1 0 2.5 0a1.25 1.25 0 1 0 -2.5 0M215.86 150.4a1.25 1.25 0 1 0 2.5 0a1.25 1.25 0 1 0 -2.5 0M114.34 149.6a1.25 1.25 0 1 0 2.5 0a1.25 1.25 0 1 0 -2.5 0M185.20 170.6a1.25 1.25 0 1 0 2.5 0a1.25 1.25 0 1 0 -2.5 0M119.63 147.2a1.25 1.25 0 1 0 2.5 0a1.25 1.25 0 1 0 -2.5 0M111.17 138.9a1.25 1.25 0 1 0 2.5 0a1.25 1.25 0 1 0 -2.5 0M183.08 146.9a1.25 1.25 0 1 0 2.5 0a1.25 1.25 0 1 0 -2.5 0M141.84 141.0a1.25 1.25 0 1 0 2.5 0a1.25 1.25 0 1 0 -2.5 0M164.05 142.8a1.25 1.25 0 1 0 2.5 0a1.25 1.25 0 1 0 -2.5 0M152.41 158.5a1.25 1.25 0 1 0 2.5 0a1.25 1.25 0 1 0 -2.5 0M141.84 161.2a1.25 1.25 0 1 0 2.5 0a1.25 1.25 0 1 0 -2.5 0M198.94 131.7a1.25 1.25 0 1 0 2.5 0a1.25 1.25 0 1 0 -2.5 0M143.95 156.8a1.25 1.25 0 1 0 2.5 0a1.25 1.25 0 1 0 -2.5 0M174.62 164.0a1.25 1.25 0 1 0 2.5 0a1.25 1.25 0 1 0 -2.5 0M109.06 148.4a1.25 1.25 0 1 0 2.5 0a1.25 1.25 0 1 0 -2.5 0M138.67 107.4a1.25 1.25 0 1 0 2.5 0a1.25 1.25 0 1 0 -2.5 0M179.91 181.8a1.25 1.25 0 1 0 2.5 0a1.25 1.25 0 1 0 -2.5 0M128.09 158.9a1.25 1.25 0 1 0 2.5 0a1.25 1.25 0 1 0 -2.5 0M86.85 138.4a1.25 1.25 0 1 0 2.5 0a1.25 1.25 0 1 0 -2.5 0M171.45 135.1a1.25 1.25 0 1 0 2.5 0a1.25 1.25 0 1 0 -2.5 0M164.05 106.5a1.25 1.25 0 1 0 2.5 0a1.25 1.25 0 1 0 -2.5 0M136.55 96.4a1.25 1.25 0 1 0 2.5 0a1.25 1.25 0 1 0 -2.5 0M147.13 165.8a1.25 1.25 0 1 0 2.5 0a1.25 1.25 0 1 0 -2.5 0M133.38 128.7a1.25 1.25 0 1 0 2.5 0a1.25 1.25 0 1 0 -2.5 0M157.70 98.8a1.25 1.25 0 1 0 2.5 0a1.25 1.25 0 1 0 -2.5 0M185.20 120.0a1.25 1.25 0 1 0 2.5 0a1.25 1.25 0 1 0 -2.5 0M155.59 171.6a1.25 1.25 0 1 0 2.5 0a1.25 1.25 0 1 0 -2.5 0M141.84 164.4a1.25 1.25 0 1 0 2.5 0a1.25 1.25 0 1 0 -2.5 0M128.09 145.5a1.25 1.25 0 1 0 2.5 0a1.25 1.25 0 1 0 -2.5 0M138.67 126.2a1.25 1.25 0 1 0 2.5 0a1.25 1.25 0 1 0 -2.5 0M128.09 174.7a1.25 1.25 0 1 0 2.5 0a1.25 1.25 0 1 0 -2.5 0M179.91 127.8a1.25 1.25 0 1 0 2.5 0a1.25 1.25 0 1 0 -2.5 0M114.34 164.0a1.25 1.25 0 1 0 2.5 0a1.25 1.25 0 1 0 -2.5 0M124.92 131.0a1.25 1.25 0 1 0 2.5 0a1.25 1.25 0 1 0 -2.5 0M157.70 130.1a1.25 1.25 0 1 0 2.5 0a1.25 1.25 0 1 0 -2.5 0M155.59 136.9a1.25 1.25 0 1 0 2.5 0a1.25 1.25 0 1 0 -2.5 0M152.41 122.1a1.25 1.25 0 1 0 2.5 0a1.25 1.25 0 1 0 -2.5 0M131.26 148.3a1.25 1.25 0 1 0 2.5 0a1.25 1.25 0 1 0 -2.5 0M152.41 143.8a1.25 1.25 0 1 0 2.5 0a1.25 1.25 0 1 0 -2.5 0M103.77 112.0a1.25 1.25 0 1 0 2.5 0a1.25 1.25 0 1 0 -2.5 0M100.60 161.2a1.25 1.25 0 1 0 2.5 0a1.25 1.25 0 1 0 -2.5 0M109.06 163.1a1.25 1.25 0 1 0 2.5 0a1.25 1.25 0 1 0 -2.5 0M157.70 186.4a1.25 1.25 0 1 0 2.5 0a1.25 1.25 0 1 0 -2.5 0M198.94 106.1a1.25 1.25 0 1 0 2.5 0a1.25 1.25 0 1 0 -2.5 0M131.26 168.4a1.25 1.25 0 1 0 2.5 0a1.25 1.25 0 1 0 -2.5 0M128.09 123.7a1.25 1.25 0 1 0 2.5 0a1.25 1.25 0 1 0 -2.5 0M136.55 146.3a1.25 1.25 0 1 0 2.5 0a1.25 1.25 0 1 0 -2.5 0M221.15 140.1a1.25 1.25 0 1 0 2.5 0a1.25 1.25 0 1 0 -2.5 0M152.41 159.9a1.25 1.25 0 1 0 2.5 0a1.25 1.25 0 1 0 -2.5 0M150.30 153.1a1.25 1.25 0 1 0 2.5 0a1.25 1.25 0 1 0 -2.5 0M128.09 122.8a1.25 1.25 0 1 0 2.5 0a1.25 1.25 0 1 0 -2.5 0M164.05 147.5a1.25 1.25 0 1 0 2.5 0a1.25 1.25 0 1 0 -2.5 0M196.83 178.3a1.25 1.25 0 1 0 2.5 0a1.25 1.25 0 1 0 -2.5 0M152.41 154.5a1.25 1.25 0 1 0 2.5 0a1.25 1.25 0 1 0 -2.5 0M119.63 184.9a1.25 1.25 0 1 0 2.5 0a1.25 1.25 0 1 0 -2.5 0M196.83 138.5a1.25 1.25 0 1 0 2.5 0a1.25 1.25 0 1 0 -2.5 0M143.95 127.3a1.25 1.25 0 1 0 2.5 0a1.25 1.25 0 1 0 -2.5 0M221.15 147.5a1.25 1.25 0 1 0 2.5 0a1.25 1.25 0 1 0 -2.5 0M114.34 109.1a1.25 1.25 0 1 0 2.5 0a1.25 1.25 0 1 0 -2.5 0M141.84 109.7a1.25 1.25 0 1 0 2.5 0a1.25 1.25 0 1 0 -2.5 0M155.59 155.7a1.25 1.25 0 1 0 2.5 0a1.25 1.25 0 1 0 -2.5 0M98.48 120.1a1.25 1.25 0 1 0 2.5 0a1.25 1.25 0 1 0 -2.5 0M150.30 158.1a1.25 1.25 0 1 0 2.5 0a1.25 1.25 0 1 0 -2.5 0M169.33 147.7a1.25 1.25 0 1 0 2.5 0a1.25 1.25 0 1 0 -2.5 0M141.84 157.2a1.25 1.25 0 1 0 2.5 0a1.25 1.25 0 1 0 -2.5 0M248.65 99.0a1.25 1.25 0 1 0 2.5 0a1.25 1.25 0 1 0 -2.5 0M240.19 105.0a1.25 1.25 0 1 0 2.5 0a1.25 1.25 0 1 0 -2.5 0M229.61 113.4a1.25 1.25 0 1 0 2.5 0a1.25 1.25 0 1 0 -2.5 0M229.61 115.0a1.25 1.25 0 1 0 2.5 0a1.25 1.25 0 1 0 -2.5 0M234.90 114.5a1.25 1.25 0 1 0 2.5 0a1.25 1.25 0 1 0 -2.5 0M234.90 123.4a1.25 1.25 0 1 0 2.5 0a1.25 1.25 0 1 0 -2.5 0M243.36 123.1a1.25 1.25 0 1 0 2.5 0a1.25 1.25 0 1 0 -2.5 0M250.76 128.7a1.25 1.25 0 1 0 2.5 0a1.25 1.25 0 1 0 -2.5 0M272.97 126.4a1.25 1.25 0 1 0 2.5 0a1.25 1.25 0 1 0 -2.5 0M229.61 133.4a1.25 1.25 0 1 0 2.5 0a1.25 1.25 0 1 0 -2.5 0M231.73 135.6a1.25 1.25 0 1 0 2.5 0a1.25 1.25 0 1 0 -2.5 0M229.61 138.4a1.25 1.25 0 1 0 2.5 0a1.25 1.25 0 1 0 -2.5 0M234.90 142.3a1.25 1.25 0 1 0 2.5 0a1.25 1.25 0 1 0 -2.5 0M237.01 142.3a1.25 1.25 0 1 0 2.5 0a1.25 1.25 0 1 0 -2.5 0M243.36 145.5a1.25 1.25 0 1 0 2.5 0a1.25 1.25 0 1 0 -2.5 0M250.76 147.3a1.25 1.25 0 1 0 2.5 0a1.25 1.25 0 1 0 -2.5 0M231.73 149.3a1.25 1.25 0 1 0 2.5 0a1.25 1.25 0 1 0 -2.5 0M234.90 149.3a1.25 1.25 0 1 0 2.5 0a1.25 1.25 0 1 0 -2.5 0M240.19 153.4a1.25 1.25 0 1 0 2.5 0a1.25 1.25 0 1 0 -2.5 0M286.72 152.6a1.25 1.25 0 1 0 2.5 0a1.25 1.25 0 1 0 -2.5 0M250.76 154.6a1.25 1.25 0 1 0 2.5 0a1.25 1.25 0 1 0 -2.5 0M229.61 150.8a1.25 1.25 0 1 0 2.5 0a1.25 1.25 0 1 0 -2.5 0M243.36 156.7a1.25 1.25 0 1 0 2.5 0a1.25 1.25 0 1 0 -2.5 0M231.73 160.4a1.25 1.25 0 1 0 2.5 0a1.25 1.25 0 1 0 -2.5 0M245.47 161.4a1.25 1.25 0 1 0 2.5 0a1.25 1.25 0 1 0 -2.5 0M250.76 163.7a1.25 1.25 0 1 0 2.5 0a1.25 1.25 0 1 0 -2.5 0M253.93 165.1a1.25 1.25 0 1 0 2.5 0a1.25 1.25 0 1 0 -2.5 0M259.22 164.2a1.25 1.25 0 1 0 2.5 0a1.25 1.25 0 1 0 -2.5 0M262.39 160.9a1.25 1.25 0 1 0 2.5 0a1.25 1.25 0 1 0 -2.5 0M229.61 164.2a1.25 1.25 0 1 0 2.5 0a1.25 1.25 0 1 0 -2.5 0M229.61 168.4a1.25 1.25 0 1 0 2.5 0a1.25 1.25 0 1 0 -2.5 0M234.90 166.7a1.25 1.25 0 1 0 2.5 0a1.25 1.25 0 1 0 -2.5 0M237.01 168.4a1.25 1.25 0 1 0 2.5 0a1.25 1.25 0 1 0 -2.5 0M237.01 165.1a1.25 1.25 0 1 0 2.5 0a1.25 1.25 0 1 0 -2.5 0M245.47 173.4a1.25 1.25 0 1 0 2.5 0a1.25 1.25 0 1 0 -2.5 0M248.65 172.1a1.25 1.25 0 1 0 2.5 0a1.25 1.25 0 1 0 -2.5 0M231.73 175.4a1.25 1.25 0 1 0 2.5 0a1.25 1.25 0 1 0 -2.5 0M237.01 176.8a1.25 1.25 0 1 0 2.5 0a1.25 1.25 0 1 0 -2.5 0M229.61 181.4a1.25 1.25 0 1 0 2.5 0a1.25 1.25 0 1 0 -2.5 0M243.36 178.4a1.25 1.25 0 1 0 2.5 0a1.25 1.25 0 1 0 -2.5 0M250.76 180.4a1.25 1.25 0 1 0 2.5 0a1.25 1.25 0 1 0 -2.5 0M264.51 179.8a1.25 1.25 0 1 0 2.5 0a1.25 1.25 0 1 0 -2.5 0M281.43 176.8a1.25 1.25 0 1 0 2.5 0a1.25 1.25 0 1 0 -2.5 0M286.72 178.1a1.25 1.25 0 1 0 2.5 0a1.25 1.25 0 1 0 -2.5 0M278.26 185.5a1.25 1.25 0 1 0 2.5 0a1.25 1.25 0 1 0 -2.5 0M245.47 184.8a1.25 1.25 0 1 0 2.5 0a1.25 1.25 0 1 0 -2.5 0M229.61 191.0a1.25 1.25 0 1 0 2.5 0a1.25 1.25 0 1 0 -2.5 0M231.73 191.0a1.25 1.25 0 1 0 2.5 0a1.25 1.25 0 1 0 -2.5 0M237.01 188.5a1.25 1.25 0 1 0 2.5 0a1.25 1.25 0 1 0 -2.5 0M237.01 191.8a1.25 1.25 0 1 0 2.5 0a1.25 1.25 0 1 0 -2.5 0M243.36 190.1a1.25 1.25 0 1 0 2.5 0a1.25 1.25 0 1 0 -2.5 0M250.76 191.5a1.25 1.25 0 1 0 2.5 0a1.25 1.25 0 1 0 -2.5 0M264.51 195.2a1.25 1.25 0 1 0 2.5 0a1.25 1.25 0 1 0 -2.5 0M231.73 196.8a1.25 1.25 0 1 0 2.5 0a1.25 1.25 0 1 0 -2.5 0M245.47 197.5a1.25 1.25 0 1 0 2.5 0a1.25 1.25 0 1 0 -2.5 0M248.65 200.4a1.25 1.25 0 1 0 2.5 0a1.25 1.25 0 1 0 -2.5 0M250.76 206.4a1.25 1.25 0 1 0 2.5 0a1.25 1.25 0 1 0 -2.5 0M259.22 204.2a1.25 1.25 0 1 0 2.5 0a1.25 1.25 0 1 0 -2.5 0M319.50 150.2a1.25 1.25 0 1 0 2.5 0a1.25 1.25 0 1 0 -2.5 0M297.29 167.6a1.25 1.25 0 1 0 2.5 0a1.25 1.25 0 1 0 -2.5 0M302.58 185.6a1.25 1.25 0 1 0 2.5 0a1.25 1.25 0 1 0 -2.5 0M62.53 75.3a1.25 1.25 0 1 0 2.5 0a1.25 1.25 0 1 0 -2.5 0M81.56 95.8a1.25 1.25 0 1 0 2.5 0a1.25 1.25 0 1 0 -2.5 0M70.99 104.3a1.25 1.25 0 1 0 2.5 0a1.25 1.25 0 1 0 -2.5 0M81.56 104.0a1.25 1.25 0 1 0 2.5 0a1.25 1.25 0 1 0 -2.5 0M76.27 109.6a1.25 1.25 0 1 0 2.5 0a1.25 1.25 0 1 0 -2.5 0M78.39 113.1a1.25 1.25 0 1 0 2.5 0a1.25 1.25 0 1 0 -2.5 0M57.24 127.4a1.25 1.25 0 1 0 2.5 0a1.25 1.25 0 1 0 -2.5 0M70.99 127.7a1.25 1.25 0 1 0 2.5 0a1.25 1.25 0 1 0 -2.5 0M81.56 131.9a1.25 1.25 0 1 0 2.5 0a1.25 1.25 0 1 0 -2.5 0M51.95 136.0a1.25 1.25 0 1 0 2.5 0a1.25 1.25 0 1 0 -2.5 0M70.99 136.0a1.25 1.25 0 1 0 2.5 0a1.25 1.25 0 1 0 -2.5 0M76.27 136.4a1.25 1.25 0 1 0 2.5 0a1.25 1.25 0 1 0 -2.5 0M78.39 134.9a1.25 1.25 0 1 0 2.5 0a1.25 1.25 0 1 0 -2.5 0M81.56 138.5a1.25 1.25 0 1 0 2.5 0a1.25 1.25 0 1 0 -2.5 0M67.81 139.6a1.25 1.25 0 1 0 2.5 0a1.25 1.25 0 1 0 -2.5 0M70.99 140.3a1.25 1.25 0 1 0 2.5 0a1.25 1.25 0 1 0 -2.5 0M70.99 147.0a1.25 1.25 0 1 0 2.5 0a1.25 1.25 0 1 0 -2.5 0M70.99 150.1a1.25 1.25 0 1 0 2.5 0a1.25 1.25 0 1 0 -2.5 0M78.39 144.0a1.25 1.25 0 1 0 2.5 0a1.25 1.25 0 1 0 -2.5 0M76.27 144.8a1.25 1.25 0 1 0 2.5 0a1.25 1.25 0 1 0 -2.5 0M81.56 143.3a1.25 1.25 0 1 0 2.5 0a1.25 1.25 0 1 0 -2.5 0M78.39 153.8a1.25 1.25 0 1 0 2.5 0a1.25 1.25 0 1 0 -2.5 0M67.81 156.1a1.25 1.25 0 1 0 2.5 0a1.25 1.25 0 1 0 -2.5 0M70.99 156.4a1.25 1.25 0 1 0 2.5 0a1.25 1.25 0 1 0 -2.5 0M73.10 157.6a1.25 1.25 0 1 0 2.5 0a1.25 1.25 0 1 0 -2.5 0M73.10 159.8a1.25 1.25 0 1 0 2.5 0a1.25 1.25 0 1 0 -2.5 0M76.27 161.4a1.25 1.25 0 1 0 2.5 0a1.25 1.25 0 1 0 -2.5 0M81.56 162.9a1.25 1.25 0 1 0 2.5 0a1.25 1.25 0 1 0 -2.5 0M81.56 165.9a1.25 1.25 0 1 0 2.5 0a1.25 1.25 0 1 0 -2.5 0M67.81 175.4a1.25 1.25 0 1 0 2.5 0a1.25 1.25 0 1 0 -2.5 0M73.10 173.9a1.25 1.25 0 1 0 2.5 0a1.25 1.25 0 1 0 -2.5 0M73.10 175.7a1.25 1.25 0 1 0 2.5 0a1.25 1.25 0 1 0 -2.5 0M73.10 177.6a1.25 1.25 0 1 0 2.5 0a1.25 1.25 0 1 0 -2.5 0M73.10 179.4a1.25 1.25 0 1 0 2.5 0a1.25 1.25 0 1 0 -2.5 0M78.39 183.0a1.25 1.25 0 1 0 2.5 0a1.25 1.25 0 1 0 -2.5 0M103.77 69.3a1.25 1.25 0 1 0 2.5 0a1.25 1.25 0 1 0 -2.5 0M105.88 80.4a1.25 1.25 0 1 0 2.5 0a1.25 1.25 0 1 0 -2.5 0M119.63 71.3a1.25 1.25 0 1 0 2.5 0a1.25 1.25 0 1 0 -2.5 0M117.52 75.3a1.25 1.25 0 1 0 2.5 0a1.25 1.25 0 1 0 -2.5 0M119.63 76.1a1.25 1.25 0 1 0 2.5 0a1.25 1.25 0 1 0 -2.5 0M128.09 65.4a1.25 1.25 0 1 0 2.5 0a1.25 1.25 0 1 0 -2.5 0M131.26 65.7a1.25 1.25 0 1 0 2.5 0a1.25 1.25 0 1 0 -2.5 0M133.38 74.4a1.25 1.25 0 1 0 2.5 0a1.25 1.25 0 1 0 -2.5 0M147.13 62.0a1.25 1.25 0 1 0 2.5 0a1.25 1.25 0 1 0 -2.5 0M124.92 82.8a1.25 1.25 0 1 0 2.5 0a1.25 1.25 0 1 0 -2.5 0M122.80 86.0a1.25 1.25 0 1 0 2.5 0a1.25 1.25 0 1 0 -2.5 0M124.92 86.8a1.25 1.25 0 1 0 2.5 0a1.25 1.25 0 1 0 -2.5 0M122.80 88.2a1.25 1.25 0 1 0 2.5 0a1.25 1.25 0 1 0 -2.5 0M136.55 85.5a1.25 1.25 0 1 0 2.5 0a1.25 1.25 0 1 0 -2.5 0M136.55 89.1a1.25 1.25 0 1 0 2.5 0a1.25 1.25 0 1 0 -2.5 0M147.13 78.4a1.25 1.25 0 1 0 2.5 0a1.25 1.25 0 1 0 -2.5 0M150.30 79.3a1.25 1.25 0 1 0 2.5 0a1.25 1.25 0 1 0 -2.5 0M147.13 81.7a1.25 1.25 0 1 0 2.5 0a1.25 1.25 0 1 0 -2.5 0M150.30 83.8a1.25 1.25 0 1 0 2.5 0a1.25 1.25 0 1 0 -2.5 0M150.30 87.1a1.25 1.25 0 1 0 2.5 0a1.25 1.25 0 1 0 -2.5 0M152.41 90.0a1.25 1.25 0 1 0 2.5 0a1.25 1.25 0 1 0 -2.5 0M152.41 91.4a1.25 1.25 0 1 0 2.5 0a1.25 1.25 0 1 0 -2.5 0M171.45 74.8a1.25 1.25 0 1 0 2.5 0a1.25 1.25 0 1 0 -2.5 0M164.05 84.1a1.25 1.25 0 1 0 2.5 0a1.25 1.25 0 1 0 -2.5 0M164.05 89.5a1.25 1.25 0 1 0 2.5 0a1.25 1.25 0 1 0 -2.5 0M179.91 85.1a1.25 1.25 0 1 0 2.5 0a1.25 1.25 0 1 0 -2.5 0M177.79 89.5a1.25 1.25 0 1 0 2.5 0a1.25 1.25 0 1 0 -2.5 0M198.94 89.1a1.25 1.25 0 1 0 2.5 0a1.25 1.25 0 1 0 -2.5 0M221.15 87.1a1.25 1.25 0 1 0 2.5 0a1.25 1.25 0 1 0 -2.5 0M86.85 216.1a1.25 1.25 0 1 0 2.5 0a1.25 1.25 0 1 0 -2.5 0M109.06 213.1a1.25 1.25 0 1 0 2.5 0a1.25 1.25 0 1 0 -2.5 0M109.06 216.4a1.25 1.25 0 1 0 2.5 0a1.25 1.25 0 1 0 -2.5 0M111.17 215.2a1.25 1.25 0 1 0 2.5 0a1.25 1.25 0 1 0 -2.5 0M114.34 212.3a1.25 1.25 0 1 0 2.5 0a1.25 1.25 0 1 0 -2.5 0M133.38 214.3a1.25 1.25 0 1 0 2.5 0a1.25 1.25 0 1 0 -2.5 0M136.55 221.3a1.25 1.25 0 1 0 2.5 0a1.25 1.25 0 1 0 -2.5 0M138.67 219.9a1.25 1.25 0 1 0 2.5 0a1.25 1.25 0 1 0 -2.5 0M131.26 226.7a1.25 1.25 0 1 0 2.5 0a1.25 1.25 0 1 0 -2.5 0M141.84 228.7a1.25 1.25 0 1 0 2.5 0a1.25 1.25 0 1 0 -2.5 0M147.13 220.5a1.25 1.25 0 1 0 2.5 0a1.25 1.25 0 1 0 -2.5 0M150.30 218.1a1.25 1.25 0 1 0 2.5 0a1.25 1.25 0 1 0 -2.5 0M150.30 221.6a1.25 1.25 0 1 0 2.5 0a1.25 1.25 0 1 0 -2.5 0M157.70 224.0a1.25 1.25 0 1 0 2.5 0a1.25 1.25 0 1 0 -2.5 0M183.08 228.4a1.25 1.25 0 1 0 2.5 0a1.25 1.25 0 1 0 -2.5 0M188.37 221.4a1.25 1.25 0 1 0 2.5 0a1.25 1.25 0 1 0 -2.5 0M198.94 218.7a1.25 1.25 0 1 0 2.5 0a1.25 1.25 0 1 0 -2.5 0M204.23 221.3a1.25 1.25 0 1 0 2.5 0a1.25 1.25 0 1 0 -2.5 0M204.23 223.2a1.25 1.25 0 1 0 2.5 0a1.25 1.25 0 1 0 -2.5 0M207.40 217.6a1.25 1.25 0 1 0 2.5 0a1.25 1.25 0 1 0 -2.5 0M212.69 214.6a1.25 1.25 0 1 0 2.5 0a1.25 1.25 0 1 0 -2.5 0M174.62 213.7a1.25 1.25 0 1 0 2.5 0a1.25 1.25 0 1 0 -2.5 0" fill="none" stroke="#000" stroke-width="0.95"/>
<rect x="42.05" y="2.8" width="288.95" height="252.2" fill="none" stroke="#000" stroke-width="0.85"/><line x1="55.92439999999999" y1="255.0" x2="55.92439999999999" y2="261.1" stroke="#000" stroke-width="0.9"/><line x1="108.79939999999999" y1="255.0" x2="108.79939999999999" y2="261.1" stroke="#000" stroke-width="0.9"/><line x1="161.6744" y1="255.0" x2="161.6744" y2="261.1" stroke="#000" stroke-width="0.9"/><line x1="214.5494" y1="255.0" x2="214.5494" y2="261.1" stroke="#000" stroke-width="0.9"/><line x1="267.4244" y1="255.0" x2="267.4244" y2="261.1" stroke="#000" stroke-width="0.9"/><line x1="320.2994" y1="255.0" x2="320.2994" y2="261.1" stroke="#000" stroke-width="0.9"/><line x1="35.949999999999996" y1="36.6" x2="42.05" y2="36.6" stroke="#000" stroke-width="0.9"/><line x1="35.949999999999996" y1="77.96000000000001" x2="42.05" y2="77.96000000000001" stroke="#000" stroke-width="0.9"/><line x1="35.949999999999996" y1="119.32" x2="42.05" y2="119.32" stroke="#000" stroke-width="0.9"/><line x1="35.949999999999996" y1="160.68" x2="42.05" y2="160.68" stroke="#000" stroke-width="0.9"/><line x1="35.949999999999996" y1="202.04" x2="42.05" y2="202.04" stroke="#000" stroke-width="0.9"/><line x1="35.949999999999996" y1="243.4" x2="42.05" y2="243.4" stroke="#000" stroke-width="0.9"/><text x="55.92439999999999" y="276.8" text-anchor="middle" font-size="10.4" class="t">0.5</text><text x="108.79939999999999" y="276.8" text-anchor="middle" font-size="10.4" class="t">1.0</text><text x="161.6744" y="276.8" text-anchor="middle" font-size="10.4" class="t">1.5</text><text x="214.5494" y="276.8" text-anchor="middle" font-size="10.4" class="t">2.0</text><text x="267.4244" y="276.8" text-anchor="middle" font-size="10.4" class="t">2.5</text><text x="320.2994" y="276.8" text-anchor="middle" font-size="10.4" class="t">3.0</text><text transform="translate(27.749999999999996,36.6) rotate(-90)" x="0" y="0" text-anchor="middle" font-size="10.4" class="t">1.6</text><text transform="translate(27.749999999999996,77.96000000000001) rotate(-90)" x="0" y="0" text-anchor="middle" font-size="10.4" class="t">1.4</text><text transform="translate(27.749999999999996,119.32) rotate(-90)" x="0" y="0" text-anchor="middle" font-size="10.4" class="t">1.2</text><text transform="translate(27.749999999999996,160.68) rotate(-90)" x="0" y="0" text-anchor="middle" font-size="10.4" class="t">1.0</text><text transform="translate(27.749999999999996,202.04) rotate(-90)" x="0" y="0" text-anchor="middle" font-size="10.4" class="t">0.8</text><text transform="translate(27.749999999999996,243.4) rotate(-90)" x="0" y="0" text-anchor="middle" font-size="10.4" class="t">0.6</text>
<path d="M403.8 39.4a2.4 2.4 0 1 0 4.8 0a2.4 2.4 0 1 0 -4.8 0M409.1 46.1a2.4 2.4 0 1 0 4.8 0a2.4 2.4 0 1 0 -4.8 0M414.4 52.5a2.4 2.4 0 1 0 4.8 0a2.4 2.4 0 1 0 -4.8 0M419.7 58.6a2.4 2.4 0 1 0 4.8 0a2.4 2.4 0 1 0 -4.8 0M422.8 62.2a2.4 2.4 0 1 0 4.8 0a2.4 2.4 0 1 0 -4.8 0M425.0 64.5a2.4 2.4 0 1 0 4.8 0a2.4 2.4 0 1 0 -4.8 0M428.1 67.8a2.4 2.4 0 1 0 4.8 0a2.4 2.4 0 1 0 -4.8 0M430.2 70.0a2.4 2.4 0 1 0 4.8 0a2.4 2.4 0 1 0 -4.8 0M433.4 73.2a2.4 2.4 0 1 0 4.8 0a2.4 2.4 0 1 0 -4.8 0M436.6 76.3a2.4 2.4 0 1 0 4.8 0a2.4 2.4 0 1 0 -4.8 0M438.7 78.3a2.4 2.4 0 1 0 4.8 0a2.4 2.4 0 1 0 -4.8 0M441.9 81.2a2.4 2.4 0 1 0 4.8 0a2.4 2.4 0 1 0 -4.8 0M444.0 83.1a2.4 2.4 0 1 0 4.8 0a2.4 2.4 0 1 0 -4.8 0M447.2 85.8a2.4 2.4 0 1 0 4.8 0a2.4 2.4 0 1 0 -4.8 0M450.3 88.4a2.4 2.4 0 1 0 4.8 0a2.4 2.4 0 1 0 -4.8 0M452.4 90.1a2.4 2.4 0 1 0 4.8 0a2.4 2.4 0 1 0 -4.8 0M455.6 92.5a2.4 2.4 0 1 0 4.8 0a2.4 2.4 0 1 0 -4.8 0M457.7 94.1a2.4 2.4 0 1 0 4.8 0a2.4 2.4 0 1 0 -4.8 0M460.9 96.3a2.4 2.4 0 1 0 4.8 0a2.4 2.4 0 1 0 -4.8 0M463.0 97.8a2.4 2.4 0 1 0 4.8 0a2.4 2.4 0 1 0 -4.8 0M466.2 99.8a2.4 2.4 0 1 0 4.8 0a2.4 2.4 0 1 0 -4.8 0M469.4 101.8a2.4 2.4 0 1 0 4.8 0a2.4 2.4 0 1 0 -4.8 0M471.5 103.0a2.4 2.4 0 1 0 4.8 0a2.4 2.4 0 1 0 -4.8 0M474.7 104.8a2.4 2.4 0 1 0 4.8 0a2.4 2.4 0 1 0 -4.8 0M476.8 105.9a2.4 2.4 0 1 0 4.8 0a2.4 2.4 0 1 0 -4.8 0M479.9 107.5a2.4 2.4 0 1 0 4.8 0a2.4 2.4 0 1 0 -4.8 0M483.1 109.0a2.4 2.4 0 1 0 4.8 0a2.4 2.4 0 1 0 -4.8 0M485.2 109.9a2.4 2.4 0 1 0 4.8 0a2.4 2.4 0 1 0 -4.8 0M488.4 111.2a2.4 2.4 0 1 0 4.8 0a2.4 2.4 0 1 0 -4.8 0M490.5 112.0a2.4 2.4 0 1 0 4.8 0a2.4 2.4 0 1 0 -4.8 0M493.7 113.2a2.4 2.4 0 1 0 4.8 0a2.4 2.4 0 1 0 -4.8 0M495.8 113.9a2.4 2.4 0 1 0 4.8 0a2.4 2.4 0 1 0 -4.8 0M499.0 115.0a2.4 2.4 0 1 0 4.8 0a2.4 2.4 0 1 0 -4.8 0M502.1 115.9a2.4 2.4 0 1 0 4.8 0a2.4 2.4 0 1 0 -4.8 0M504.3 116.5a2.4 2.4 0 1 0 4.8 0a2.4 2.4 0 1 0 -4.8 0M507.4 117.3a2.4 2.4 0 1 0 4.8 0a2.4 2.4 0 1 0 -4.8 0M509.6 117.9a2.4 2.4 0 1 0 4.8 0a2.4 2.4 0 1 0 -4.8 0M512.7 118.6a2.4 2.4 0 1 0 4.8 0a2.4 2.4 0 1 0 -4.8 0M515.9 119.2a2.4 2.4 0 1 0 4.8 0a2.4 2.4 0 1 0 -4.8 0M518.0 119.6a2.4 2.4 0 1 0 4.8 0a2.4 2.4 0 1 0 -4.8 0M521.2 120.2a2.4 2.4 0 1 0 4.8 0a2.4 2.4 0 1 0 -4.8 0M523.3 120.5a2.4 2.4 0 1 0 4.8 0a2.4 2.4 0 1 0 -4.8 0M526.5 121.0a2.4 2.4 0 1 0 4.8 0a2.4 2.4 0 1 0 -4.8 0M529.6 121.4a2.4 2.4 0 1 0 4.8 0a2.4 2.4 0 1 0 -4.8 0M531.8 121.6a2.4 2.4 0 1 0 4.8 0a2.4 2.4 0 1 0 -4.8 0M534.9 122.0a2.4 2.4 0 1 0 4.8 0a2.4 2.4 0 1 0 -4.8 0M537.0 122.2a2.4 2.4 0 1 0 4.8 0a2.4 2.4 0 1 0 -4.8 0M540.2 122.5a2.4 2.4 0 1 0 4.8 0a2.4 2.4 0 1 0 -4.8 0M542.3 122.6a2.4 2.4 0 1 0 4.8 0a2.4 2.4 0 1 0 -4.8 0M545.5 122.9a2.4 2.4 0 1 0 4.8 0a2.4 2.4 0 1 0 -4.8 0M548.7 123.1a2.4 2.4 0 1 0 4.8 0a2.4 2.4 0 1 0 -4.8 0M550.8 123.2a2.4 2.4 0 1 0 4.8 0a2.4 2.4 0 1 0 -4.8 0M554.0 123.3a2.4 2.4 0 1 0 4.8 0a2.4 2.4 0 1 0 -4.8 0M556.1 123.4a2.4 2.4 0 1 0 4.8 0a2.4 2.4 0 1 0 -4.8 0M559.3 123.5a2.4 2.4 0 1 0 4.8 0a2.4 2.4 0 1 0 -4.8 0M562.4 123.5a2.4 2.4 0 1 0 4.8 0a2.4 2.4 0 1 0 -4.8 0M564.5 123.6a2.4 2.4 0 1 0 4.8 0a2.4 2.4 0 1 0 -4.8 0M567.7 123.6a2.4 2.4 0 1 0 4.8 0a2.4 2.4 0 1 0 -4.8 0M569.8 123.6a2.4 2.4 0 1 0 4.8 0a2.4 2.4 0 1 0 -4.8 0M573.0 123.5a2.4 2.4 0 1 0 4.8 0a2.4 2.4 0 1 0 -4.8 0M575.1 123.5a2.4 2.4 0 1 0 4.8 0a2.4 2.4 0 1 0 -4.8 0M578.3 123.3a2.4 2.4 0 1 0 4.8 0a2.4 2.4 0 1 0 -4.8 0M581.5 123.2a2.4 2.4 0 1 0 4.8 0a2.4 2.4 0 1 0 -4.8 0M583.6 123.1a2.4 2.4 0 1 0 4.8 0a2.4 2.4 0 1 0 -4.8 0M586.7 122.9a2.4 2.4 0 1 0 4.8 0a2.4 2.4 0 1 0 -4.8 0M588.9 122.7a2.4 2.4 0 1 0 4.8 0a2.4 2.4 0 1 0 -4.8 0M592.0 122.5a2.4 2.4 0 1 0 4.8 0a2.4 2.4 0 1 0 -4.8 0M595.2 122.2a2.4 2.4 0 1 0 4.8 0a2.4 2.4 0 1 0 -4.8 0M597.3 122.0a2.4 2.4 0 1 0 4.8 0a2.4 2.4 0 1 0 -4.8 0M600.5 121.6a2.4 2.4 0 1 0 4.8 0a2.4 2.4 0 1 0 -4.8 0M602.6 121.3a2.4 2.4 0 1 0 4.8 0a2.4 2.4 0 1 0 -4.8 0M605.8 120.9a2.4 2.4 0 1 0 4.8 0a2.4 2.4 0 1 0 -4.8 0M611.1 120.1a2.4 2.4 0 1 0 4.8 0a2.4 2.4 0 1 0 -4.8 0M614.2 119.6a2.4 2.4 0 1 0 4.8 0a2.4 2.4 0 1 0 -4.8 0M616.4 119.2a2.4 2.4 0 1 0 4.8 0a2.4 2.4 0 1 0 -4.8 0M624.8 117.6a2.4 2.4 0 1 0 4.8 0a2.4 2.4 0 1 0 -4.8 0M630.1 116.4a2.4 2.4 0 1 0 4.8 0a2.4 2.4 0 1 0 -4.8 0M633.3 115.6a2.4 2.4 0 1 0 4.8 0a2.4 2.4 0 1 0 -4.8 0M638.6 114.2a2.4 2.4 0 1 0 4.8 0a2.4 2.4 0 1 0 -4.8 0M649.1 111.1a2.4 2.4 0 1 0 4.8 0a2.4 2.4 0 1 0 -4.8 0M654.4 109.4a2.4 2.4 0 1 0 4.8 0a2.4 2.4 0 1 0 -4.8 0M671.3 103.0a2.4 2.4 0 1 0 4.8 0a2.4 2.4 0 1 0 -4.8 0M403.8 101.3a2.4 2.4 0 1 0 4.8 0a2.4 2.4 0 1 0 -4.8 0M409.1 101.3a2.4 2.4 0 1 0 4.8 0a2.4 2.4 0 1 0 -4.8 0M414.4 101.6a2.4 2.4 0 1 0 4.8 0a2.4 2.4 0 1 0 -4.8 0M419.7 102.0a2.4 2.4 0 1 0 4.8 0a2.4 2.4 0 1 0 -4.8 0M422.8 102.4a2.4 2.4 0 1 0 4.8 0a2.4 2.4 0 1 0 -4.8 0M425.0 102.7a2.4 2.4 0 1 0 4.8 0a2.4 2.4 0 1 0 -4.8 0M428.1 103.2a2.4 2.4 0 1 0 4.8 0a2.4 2.4 0 1 0 -4.8 0M430.2 103.5a2.4 2.4 0 1 0 4.8 0a2.4 2.4 0 1 0 -4.8 0M433.4 104.1a2.4 2.4 0 1 0 4.8 0a2.4 2.4 0 1 0 -4.8 0M436.6 104.7a2.4 2.4 0 1 0 4.8 0a2.4 2.4 0 1 0 -4.8 0M438.7 105.1a2.4 2.4 0 1 0 4.8 0a2.4 2.4 0 1 0 -4.8 0M441.9 105.8a2.4 2.4 0 1 0 4.8 0a2.4 2.4 0 1 0 -4.8 0M444.0 106.3a2.4 2.4 0 1 0 4.8 0a2.4 2.4 0 1 0 -4.8 0M447.2 107.0a2.4 2.4 0 1 0 4.8 0a2.4 2.4 0 1 0 -4.8 0M450.3 107.8a2.4 2.4 0 1 0 4.8 0a2.4 2.4 0 1 0 -4.8 0M452.4 108.4a2.4 2.4 0 1 0 4.8 0a2.4 2.4 0 1 0 -4.8 0M455.6 109.2a2.4 2.4 0 1 0 4.8 0a2.4 2.4 0 1 0 -4.8 0M457.7 109.8a2.4 2.4 0 1 0 4.8 0a2.4 2.4 0 1 0 -4.8 0M460.9 110.7a2.4 2.4 0 1 0 4.8 0a2.4 2.4 0 1 0 -4.8 0M463.0 111.3a2.4 2.4 0 1 0 4.8 0a2.4 2.4 0 1 0 -4.8 0M466.2 112.2a2.4 2.4 0 1 0 4.8 0a2.4 2.4 0 1 0 -4.8 0M469.4 113.2a2.4 2.4 0 1 0 4.8 0a2.4 2.4 0 1 0 -4.8 0M471.5 113.8a2.4 2.4 0 1 0 4.8 0a2.4 2.4 0 1 0 -4.8 0M474.7 114.8a2.4 2.4 0 1 0 4.8 0a2.4 2.4 0 1 0 -4.8 0M476.8 115.4a2.4 2.4 0 1 0 4.8 0a2.4 2.4 0 1 0 -4.8 0M479.9 116.4a2.4 2.4 0 1 0 4.8 0a2.4 2.4 0 1 0 -4.8 0M483.1 117.4a2.4 2.4 0 1 0 4.8 0a2.4 2.4 0 1 0 -4.8 0M485.2 118.1a2.4 2.4 0 1 0 4.8 0a2.4 2.4 0 1 0 -4.8 0M488.4 119.2a2.4 2.4 0 1 0 4.8 0a2.4 2.4 0 1 0 -4.8 0M490.5 119.9a2.4 2.4 0 1 0 4.8 0a2.4 2.4 0 1 0 -4.8 0M493.7 120.9a2.4 2.4 0 1 0 4.8 0a2.4 2.4 0 1 0 -4.8 0M495.8 121.6a2.4 2.4 0 1 0 4.8 0a2.4 2.4 0 1 0 -4.8 0M499.0 122.7a2.4 2.4 0 1 0 4.8 0a2.4 2.4 0 1 0 -4.8 0M502.1 123.8a2.4 2.4 0 1 0 4.8 0a2.4 2.4 0 1 0 -4.8 0M504.3 124.5a2.4 2.4 0 1 0 4.8 0a2.4 2.4 0 1 0 -4.8 0M507.4 125.6a2.4 2.4 0 1 0 4.8 0a2.4 2.4 0 1 0 -4.8 0M509.6 126.3a2.4 2.4 0 1 0 4.8 0a2.4 2.4 0 1 0 -4.8 0M512.7 127.4a2.4 2.4 0 1 0 4.8 0a2.4 2.4 0 1 0 -4.8 0M515.9 128.5a2.4 2.4 0 1 0 4.8 0a2.4 2.4 0 1 0 -4.8 0M518.0 129.3a2.4 2.4 0 1 0 4.8 0a2.4 2.4 0 1 0 -4.8 0M521.2 130.4a2.4 2.4 0 1 0 4.8 0a2.4 2.4 0 1 0 -4.8 0M523.3 131.2a2.4 2.4 0 1 0 4.8 0a2.4 2.4 0 1 0 -4.8 0M526.5 132.3a2.4 2.4 0 1 0 4.8 0a2.4 2.4 0 1 0 -4.8 0M529.6 133.5a2.4 2.4 0 1 0 4.8 0a2.4 2.4 0 1 0 -4.8 0M531.8 134.2a2.4 2.4 0 1 0 4.8 0a2.4 2.4 0 1 0 -4.8 0M534.9 135.4a2.4 2.4 0 1 0 4.8 0a2.4 2.4 0 1 0 -4.8 0M537.0 136.2a2.4 2.4 0 1 0 4.8 0a2.4 2.4 0 1 0 -4.8 0M540.2 137.3a2.4 2.4 0 1 0 4.8 0a2.4 2.4 0 1 0 -4.8 0M542.3 138.1a2.4 2.4 0 1 0 4.8 0a2.4 2.4 0 1 0 -4.8 0M545.5 139.3a2.4 2.4 0 1 0 4.8 0a2.4 2.4 0 1 0 -4.8 0M548.7 140.4a2.4 2.4 0 1 0 4.8 0a2.4 2.4 0 1 0 -4.8 0M550.8 141.2a2.4 2.4 0 1 0 4.8 0a2.4 2.4 0 1 0 -4.8 0M554.0 142.4a2.4 2.4 0 1 0 4.8 0a2.4 2.4 0 1 0 -4.8 0M556.1 143.3a2.4 2.4 0 1 0 4.8 0a2.4 2.4 0 1 0 -4.8 0M559.3 144.5a2.4 2.4 0 1 0 4.8 0a2.4 2.4 0 1 0 -4.8 0M562.4 145.8a2.4 2.4 0 1 0 4.8 0a2.4 2.4 0 1 0 -4.8 0M564.5 146.7a2.4 2.4 0 1 0 4.8 0a2.4 2.4 0 1 0 -4.8 0M567.7 148.1a2.4 2.4 0 1 0 4.8 0a2.4 2.4 0 1 0 -4.8 0M569.8 149.0a2.4 2.4 0 1 0 4.8 0a2.4 2.4 0 1 0 -4.8 0M573.0 150.4a2.4 2.4 0 1 0 4.8 0a2.4 2.4 0 1 0 -4.8 0M575.1 151.5a2.4 2.4 0 1 0 4.8 0a2.4 2.4 0 1 0 -4.8 0M578.3 153.0a2.4 2.4 0 1 0 4.8 0a2.4 2.4 0 1 0 -4.8 0M581.5 154.7a2.4 2.4 0 1 0 4.8 0a2.4 2.4 0 1 0 -4.8 0M583.6 155.8a2.4 2.4 0 1 0 4.8 0a2.4 2.4 0 1 0 -4.8 0M586.7 157.6a2.4 2.4 0 1 0 4.8 0a2.4 2.4 0 1 0 -4.8 0M588.9 158.8a2.4 2.4 0 1 0 4.8 0a2.4 2.4 0 1 0 -4.8 0M592.0 160.8a2.4 2.4 0 1 0 4.8 0a2.4 2.4 0 1 0 -4.8 0M595.2 162.8a2.4 2.4 0 1 0 4.8 0a2.4 2.4 0 1 0 -4.8 0M597.3 164.2a2.4 2.4 0 1 0 4.8 0a2.4 2.4 0 1 0 -4.8 0M600.5 166.3a2.4 2.4 0 1 0 4.8 0a2.4 2.4 0 1 0 -4.8 0M602.6 167.8a2.4 2.4 0 1 0 4.8 0a2.4 2.4 0 1 0 -4.8 0M605.8 170.1a2.4 2.4 0 1 0 4.8 0a2.4 2.4 0 1 0 -4.8 0M611.1 174.0a2.4 2.4 0 1 0 4.8 0a2.4 2.4 0 1 0 -4.8 0M614.2 176.4a2.4 2.4 0 1 0 4.8 0a2.4 2.4 0 1 0 -4.8 0M616.4 178.1a2.4 2.4 0 1 0 4.8 0a2.4 2.4 0 1 0 -4.8 0M624.8 184.9a2.4 2.4 0 1 0 4.8 0a2.4 2.4 0 1 0 -4.8 0M630.1 189.3a2.4 2.4 0 1 0 4.8 0a2.4 2.4 0 1 0 -4.8 0M633.3 192.1a2.4 2.4 0 1 0 4.8 0a2.4 2.4 0 1 0 -4.8 0M638.6 196.6a2.4 2.4 0 1 0 4.8 0a2.4 2.4 0 1 0 -4.8 0M649.1 206.1a2.4 2.4 0 1 0 4.8 0a2.4 2.4 0 1 0 -4.8 0M654.4 210.9a2.4 2.4 0 1 0 4.8 0a2.4 2.4 0 1 0 -4.8 0M671.3 226.6a2.4 2.4 0 1 0 4.8 0a2.4 2.4 0 1 0 -4.8 0" fill="none" stroke="#2222ff" stroke-width="1.0"/>
<g fill="#f00"><circle cx="406.2" cy="70.3" r="1.9"/><circle cx="411.5" cy="73.7" r="1.9"/><circle cx="416.8" cy="77.0" r="1.9"/><circle cx="422.1" cy="80.4" r="1.9"/><circle cx="425.2" cy="82.3" r="1.9"/><circle cx="427.4" cy="83.6" r="1.9"/><circle cx="430.5" cy="85.6" r="1.9"/><circle cx="432.6" cy="86.8" r="1.9"/><circle cx="435.8" cy="88.7" r="1.9"/><circle cx="439.0" cy="90.6" r="1.9"/><circle cx="441.1" cy="91.8" r="1.9"/><circle cx="444.3" cy="93.6" r="1.9"/><circle cx="446.4" cy="94.8" r="1.9"/><circle cx="449.6" cy="96.6" r="1.9"/><circle cx="452.7" cy="98.3" r="1.9"/><circle cx="454.8" cy="99.4" r="1.9"/><circle cx="458.0" cy="101.1" r="1.9"/><circle cx="460.1" cy="102.1" r="1.9"/><circle cx="463.3" cy="103.7" r="1.9"/><circle cx="465.4" cy="104.7" r="1.9"/><circle cx="468.6" cy="106.2" r="1.9"/><circle cx="471.8" cy="107.6" r="1.9"/><circle cx="473.9" cy="108.6" r="1.9"/><circle cx="477.1" cy="109.9" r="1.9"/><circle cx="479.2" cy="110.8" r="1.9"/><circle cx="482.3" cy="112.1" r="1.9"/><circle cx="485.5" cy="113.3" r="1.9"/><circle cx="487.6" cy="114.1" r="1.9"/><circle cx="490.8" cy="115.2" r="1.9"/><circle cx="492.9" cy="116.0" r="1.9"/><circle cx="496.1" cy="117.1" r="1.9"/><circle cx="498.2" cy="117.8" r="1.9"/><circle cx="501.4" cy="118.8" r="1.9"/><circle cx="504.5" cy="119.8" r="1.9"/><circle cx="506.7" cy="120.4" r="1.9"/><circle cx="509.8" cy="121.4" r="1.9"/><circle cx="512.0" cy="122.0" r="1.9"/><circle cx="515.1" cy="122.9" r="1.9"/><circle cx="518.3" cy="123.8" r="1.9"/><circle cx="520.4" cy="124.4" r="1.9"/><circle cx="523.6" cy="125.2" r="1.9"/><circle cx="525.7" cy="125.8" r="1.9"/><circle cx="528.9" cy="126.6" r="1.9"/><circle cx="532.0" cy="127.4" r="1.9"/><circle cx="534.2" cy="128.0" r="1.9"/><circle cx="537.3" cy="128.7" r="1.9"/><circle cx="539.4" cy="129.3" r="1.9"/><circle cx="542.6" cy="130.0" r="1.9"/><circle cx="544.7" cy="130.6" r="1.9"/><circle cx="547.9" cy="131.3" r="1.9"/><circle cx="551.1" cy="132.1" r="1.9"/><circle cx="553.2" cy="132.6" r="1.9"/><circle cx="556.4" cy="133.4" r="1.9"/><circle cx="558.5" cy="133.9" r="1.9"/><circle cx="561.7" cy="134.6" r="1.9"/><circle cx="564.8" cy="135.4" r="1.9"/><circle cx="566.9" cy="135.9" r="1.9"/><circle cx="570.1" cy="136.7" r="1.9"/><circle cx="572.2" cy="137.2" r="1.9"/><circle cx="575.4" cy="138.0" r="1.9"/><circle cx="577.5" cy="138.5" r="1.9"/><circle cx="580.7" cy="139.2" r="1.9"/><circle cx="583.9" cy="140.0" r="1.9"/><circle cx="586.0" cy="140.5" r="1.9"/><circle cx="589.1" cy="141.3" r="1.9"/><circle cx="591.3" cy="141.8" r="1.9"/><circle cx="594.4" cy="142.6" r="1.9"/><circle cx="597.6" cy="143.4" r="1.9"/><circle cx="599.7" cy="143.9" r="1.9"/><circle cx="602.9" cy="144.7" r="1.9"/><circle cx="605.0" cy="145.2" r="1.9"/><circle cx="608.2" cy="146.1" r="1.9"/><circle cx="613.5" cy="147.4" r="1.9"/><circle cx="616.6" cy="148.2" r="1.9"/><circle cx="618.8" cy="148.8" r="1.9"/><circle cx="627.2" cy="151.1" r="1.9"/><circle cx="632.5" cy="152.5" r="1.9"/><circle cx="635.7" cy="153.4" r="1.9"/><circle cx="641.0" cy="154.9" r="1.9"/><circle cx="651.5" cy="158.1" r="1.9"/><circle cx="656.8" cy="159.7" r="1.9"/><circle cx="673.7" cy="165.1" r="1.9"/></g>
<rect x="395.1" y="2.8" width="288.9" height="252.2" fill="none" stroke="#000" stroke-width="0.85"/><line x1="408.9244" y1="255.0" x2="408.9244" y2="261.1" stroke="#000" stroke-width="0.9"/><line x1="461.7994" y1="255.0" x2="461.7994" y2="261.1" stroke="#000" stroke-width="0.9"/><line x1="514.6744" y1="255.0" x2="514.6744" y2="261.1" stroke="#000" stroke-width="0.9"/><line x1="567.5494" y1="255.0" x2="567.5494" y2="261.1" stroke="#000" stroke-width="0.9"/><line x1="620.4244" y1="255.0" x2="620.4244" y2="261.1" stroke="#000" stroke-width="0.9"/><line x1="673.2994" y1="255.0" x2="673.2994" y2="261.1" stroke="#000" stroke-width="0.9"/><line x1="389.0" y1="22.4" x2="395.1" y2="22.4" stroke="#000" stroke-width="0.9"/><line x1="389.0" y1="96.16999999999999" x2="395.1" y2="96.16999999999999" stroke="#000" stroke-width="0.9"/><line x1="389.0" y1="169.94" x2="395.1" y2="169.94" stroke="#000" stroke-width="0.9"/><line x1="389.0" y1="243.71" x2="395.1" y2="243.71" stroke="#000" stroke-width="0.9"/><text x="408.9244" y="276.8" text-anchor="middle" font-size="10.4" class="t">0.5</text><text x="461.7994" y="276.8" text-anchor="middle" font-size="10.4" class="t">1.0</text><text x="514.6744" y="276.8" text-anchor="middle" font-size="10.4" class="t">1.5</text><text x="567.5494" y="276.8" text-anchor="middle" font-size="10.4" class="t">2.0</text><text x="620.4244" y="276.8" text-anchor="middle" font-size="10.4" class="t">2.5</text><text x="673.2994" y="276.8" text-anchor="middle" font-size="10.4" class="t">3.0</text><text transform="translate(380.8,22.4) rotate(-90)" x="0" y="0" text-anchor="middle" font-size="10.4" class="t">1.10</text><text transform="translate(380.8,96.16999999999999) rotate(-90)" x="0" y="0" text-anchor="middle" font-size="10.4" class="t">1.05</text><text transform="translate(380.8,169.94) rotate(-90)" x="0" y="0" text-anchor="middle" font-size="10.4" class="t">1.00</text><text transform="translate(380.8,243.71) rotate(-90)" x="0" y="0" text-anchor="middle" font-size="10.4" class="t">0.95</text>
<text x="3" y="12.8" font-size="20">a</text>
<text x="354.9" y="16.3" font-size="18.6">b</text>
<text x="185" y="295" text-anchor="middle" font-size="12.4" class="t">Direct high-density lipoprotein cholesterol (mmol/L)</text>
<text x="539.8" y="292.5" text-anchor="middle" font-size="12.4" class="t">Direct high-density lipoprotein cholesterol (mmol/L)</text>
<text transform="translate(12.1,120.8) rotate(-90)" text-anchor="middle" font-size="12.4" class="t">Total bone mineral density (g/cm<tspan dy="-6.3" font-size="7.2" style="stroke-width:0.1">2</tspan><tspan dy="6.3">)</tspan></text>
<text transform="translate(363.8,127.1) rotate(-90)" text-anchor="middle" font-size="12.4" class="t">Total bone mineral density (g/cm<tspan dy="-6.3" font-size="7.2" style="stroke-width:0.1">2</tspan><tspan dy="6.3">)</tspan></text>
</g>
</svg></body></html>
